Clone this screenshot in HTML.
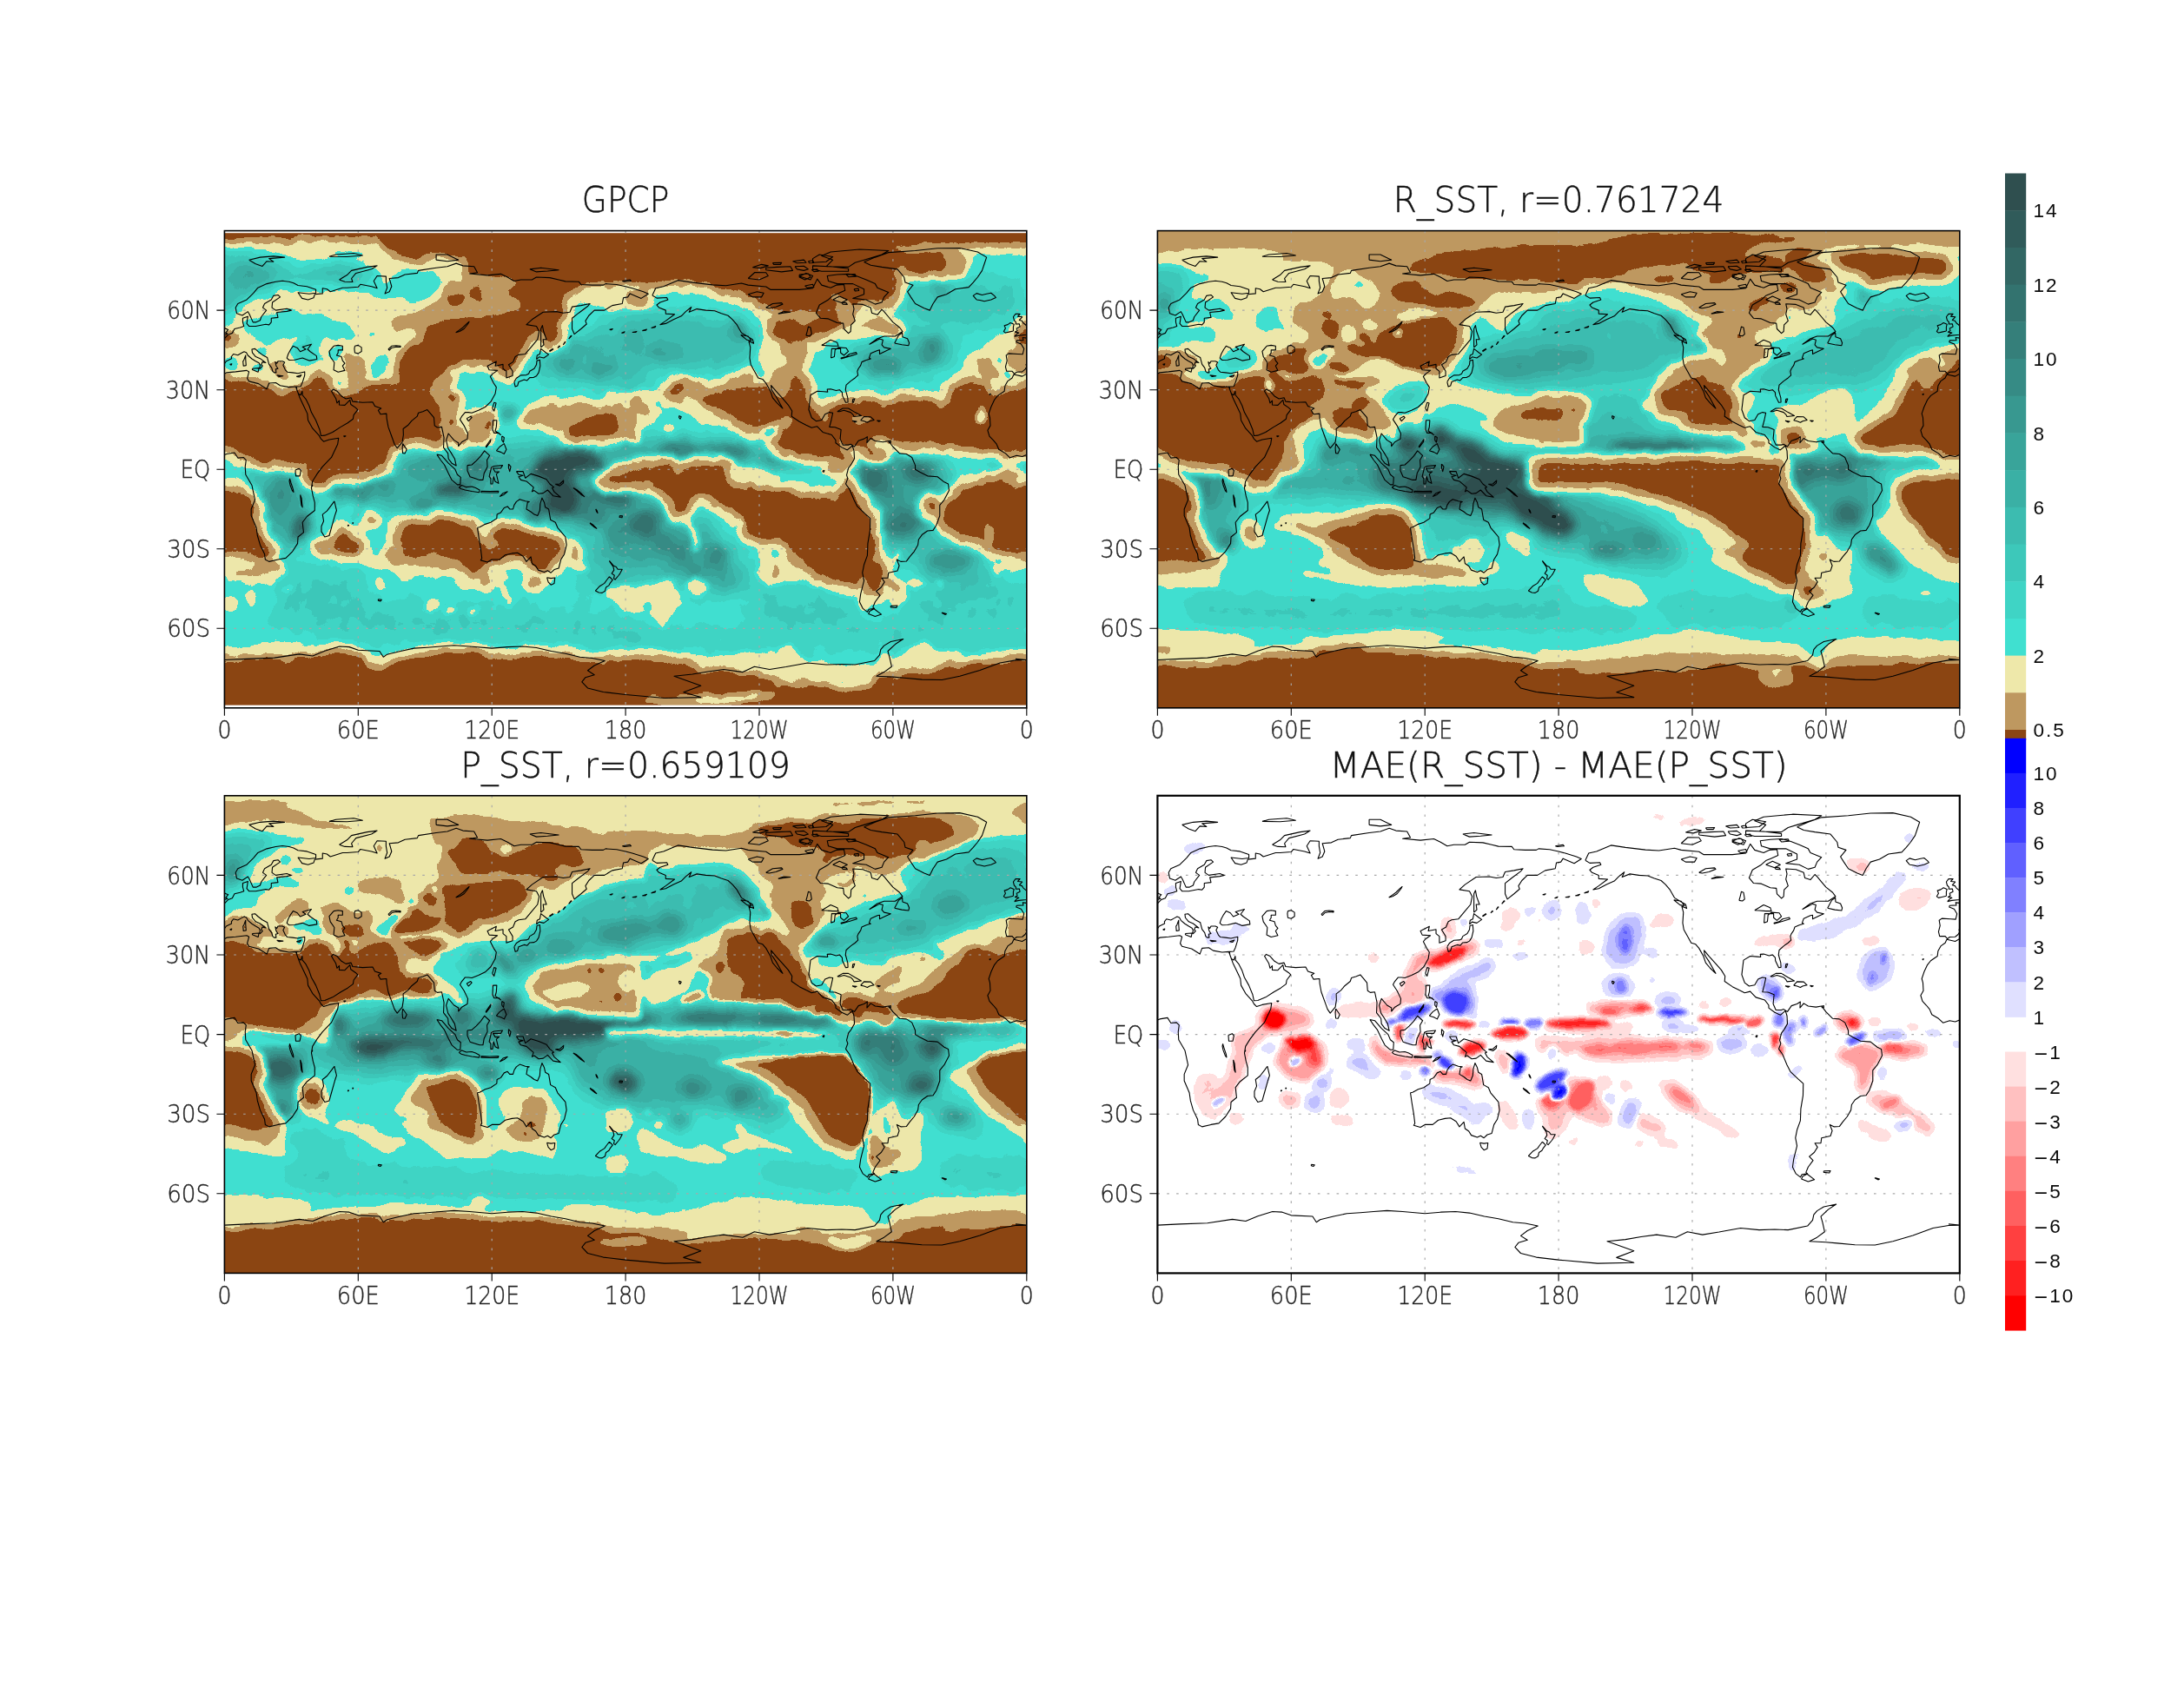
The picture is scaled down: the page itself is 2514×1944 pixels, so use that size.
<!DOCTYPE html>
<html lang="en"><head><meta charset="utf-8"><title>GPCP / R_SST / P_SST precipitation</title>
<style>html,body{margin:0;padding:0;background:#fff}body{width:2514px;height:1944px;overflow:hidden}svg{display:block}text.ax{font-family:"DejaVu Sans","Liberation Sans",sans-serif;font-weight:200;stroke:#222;stroke-width:.35px}text.ti{font-family:"DejaVu Sans","Liberation Sans",sans-serif;font-weight:200;stroke:#111;stroke-width:.45px}text.cbl{font-family:"Liberation Sans","DejaVu Sans",sans-serif}</style></head><body>
<svg width="2514" height="1944" viewBox="0 0 2514 1944">
<defs>
<clipPath id="clip1"><rect x="258.4" y="265.6" width="923.4" height="549.2"/></clipPath>
<clipPath id="clip2"><rect x="1332.4" y="265.6" width="923.4" height="549.2"/></clipPath>
<clipPath id="clip3"><rect x="258.4" y="915.8" width="923.4" height="549.6"/></clipPath>
<clipPath id="clip4"><rect x="1332.4" y="915.8" width="923.4" height="549.6"/></clipPath>
<filter id="cm1" filterUnits="userSpaceOnUse" x="198.4" y="205.6" width="1043.4" height="669.2" color-interpolation-filters="sRGB"><feGaussianBlur stdDeviation="2.5" result="f"/><feTurbulence type="fractalNoise" baseFrequency="0.05" numOctaves="2" seed="7" result="n"/><feDisplacementMap in="f" in2="n" scale="7" xChannelSelector="R" yChannelSelector="G" result="f2"/><feColorMatrix in="n" type="matrix" values="0 0 1 0 0  0 0 1 0 0  0 0 1 0 0  0 0 0 0 1" result="ng"/><feComposite in="f2" in2="ng" operator="arithmetic" k1="0" k2="1" k3="0.09" k4="-0.045" result="fn"/><feComponentTransfer><feFuncR type="discrete" tableValues="0.5451 0.7451 0.9333 0.2510 0.2471 0.2392 0.2353 0.2275 0.2235 0.2196 0.2118 0.2078 0.2000 0.1961 0.1882 0.1843"/><feFuncG type="discrete" tableValues="0.2706 0.5961 0.9098 0.8784 0.8314 0.7843 0.7373 0.6902 0.6431 0.5961 0.5451 0.4980 0.4510 0.4039 0.3569 0.3098"/><feFuncB type="discrete" tableValues="0.0745 0.3765 0.6667 0.8157 0.7725 0.7294 0.6902 0.6471 0.6039 0.5647 0.5216 0.4784 0.4353 0.3922 0.3529 0.3098"/><feFuncA type="linear" slope="0" intercept="1"/></feComponentTransfer></filter>
<filter id="cm2" filterUnits="userSpaceOnUse" x="1272.4" y="205.6" width="1043.4" height="669.2" color-interpolation-filters="sRGB"><feGaussianBlur stdDeviation="2.5" result="f"/><feTurbulence type="fractalNoise" baseFrequency="0.05" numOctaves="2" seed="14" result="n"/><feDisplacementMap in="f" in2="n" scale="5" xChannelSelector="R" yChannelSelector="G" result="f2"/><feColorMatrix in="n" type="matrix" values="0 0 1 0 0  0 0 1 0 0  0 0 1 0 0  0 0 0 0 1" result="ng"/><feComposite in="f2" in2="ng" operator="arithmetic" k1="0" k2="1" k3="0.05" k4="-0.025" result="fn"/><feComponentTransfer><feFuncR type="discrete" tableValues="0.5451 0.7451 0.9333 0.2510 0.2471 0.2392 0.2353 0.2275 0.2235 0.2196 0.2118 0.2078 0.2000 0.1961 0.1882 0.1843"/><feFuncG type="discrete" tableValues="0.2706 0.5961 0.9098 0.8784 0.8314 0.7843 0.7373 0.6902 0.6431 0.5961 0.5451 0.4980 0.4510 0.4039 0.3569 0.3098"/><feFuncB type="discrete" tableValues="0.0745 0.3765 0.6667 0.8157 0.7725 0.7294 0.6902 0.6471 0.6039 0.5647 0.5216 0.4784 0.4353 0.3922 0.3529 0.3098"/><feFuncA type="linear" slope="0" intercept="1"/></feComponentTransfer></filter>
<filter id="cm3" filterUnits="userSpaceOnUse" x="198.4" y="855.8" width="1043.4" height="669.6" color-interpolation-filters="sRGB"><feGaussianBlur stdDeviation="2.5" result="f"/><feTurbulence type="fractalNoise" baseFrequency="0.05" numOctaves="2" seed="21" result="n"/><feDisplacementMap in="f" in2="n" scale="5" xChannelSelector="R" yChannelSelector="G" result="f2"/><feColorMatrix in="n" type="matrix" values="0 0 1 0 0  0 0 1 0 0  0 0 1 0 0  0 0 0 0 1" result="ng"/><feComposite in="f2" in2="ng" operator="arithmetic" k1="0" k2="1" k3="0.05" k4="-0.025" result="fn"/><feComponentTransfer><feFuncR type="discrete" tableValues="0.5451 0.7451 0.9333 0.2510 0.2471 0.2392 0.2353 0.2275 0.2235 0.2196 0.2118 0.2078 0.2000 0.1961 0.1882 0.1843"/><feFuncG type="discrete" tableValues="0.2706 0.5961 0.9098 0.8784 0.8314 0.7843 0.7373 0.6902 0.6431 0.5961 0.5451 0.4980 0.4510 0.4039 0.3569 0.3098"/><feFuncB type="discrete" tableValues="0.0745 0.3765 0.6667 0.8157 0.7725 0.7294 0.6902 0.6471 0.6039 0.5647 0.5216 0.4784 0.4353 0.3922 0.3529 0.3098"/><feFuncA type="linear" slope="0" intercept="1"/></feComponentTransfer></filter>
<filter id="cm4" filterUnits="userSpaceOnUse" x="1272.4" y="855.8" width="1043.4" height="669.6" color-interpolation-filters="sRGB"><feGaussianBlur stdDeviation="1.2" result="f"/><feTurbulence type="fractalNoise" baseFrequency="0.06" numOctaves="2" seed="5" result="n"/><feDisplacementMap in="f" in2="n" scale="5" xChannelSelector="R" yChannelSelector="G" result="f2"/><feColorMatrix in="n" type="matrix" values="0 0 1 0 0  0 0 1 0 0  0 0 1 0 0  0 0 0 0 1" result="ng"/><feComposite in="f2" in2="ng" operator="arithmetic" k1="0" k2="1" k3="0.03" k4="-0.015" result="fn"/><feComponentTransfer><feFuncR type="discrete" tableValues="1.0000 1.0000 1.0000 1.0000 1.0000 1.0000 1.0000 1.0000 1.0000 0.8784 0.7529 0.6275 0.5020 0.3765 0.2510 0.1255 0.0000"/><feFuncG type="discrete" tableValues="0.0000 0.1255 0.2510 0.3765 0.5020 0.6275 0.7529 0.8784 1.0000 0.8784 0.7529 0.6275 0.5020 0.3765 0.2510 0.1255 0.0000"/><feFuncB type="discrete" tableValues="0.0000 0.1255 0.2510 0.3765 0.5020 0.6275 0.7529 0.8784 1.0000 1.0000 1.0000 1.0000 1.0000 1.0000 1.0000 1.0000 1.0000"/><feFuncA type="linear" slope="0" intercept="1"/></feComponentTransfer></filter>
<filter id="b2_4" filterUnits="userSpaceOnUse" x="1322" y="906" width="943" height="570" color-interpolation-filters="sRGB"><feGaussianBlur stdDeviation="2"/></filter><filter id="b4_4" filterUnits="userSpaceOnUse" x="1316" y="900" width="955" height="582" color-interpolation-filters="sRGB"><feGaussianBlur stdDeviation="4"/></filter><filter id="b6_1" filterUnits="userSpaceOnUse" x="236" y="244" width="967" height="593" color-interpolation-filters="sRGB"><feGaussianBlur stdDeviation="6"/></filter><filter id="b6_2" filterUnits="userSpaceOnUse" x="1310" y="244" width="967" height="593" color-interpolation-filters="sRGB"><feGaussianBlur stdDeviation="6"/></filter><filter id="b6_3" filterUnits="userSpaceOnUse" x="236" y="894" width="967" height="594" color-interpolation-filters="sRGB"><feGaussianBlur stdDeviation="6"/></filter><filter id="b7_2" filterUnits="userSpaceOnUse" x="1307" y="241" width="973" height="599" color-interpolation-filters="sRGB"><feGaussianBlur stdDeviation="7"/></filter><filter id="b7_3" filterUnits="userSpaceOnUse" x="233" y="891" width="973" height="600" color-interpolation-filters="sRGB"><feGaussianBlur stdDeviation="7"/></filter><filter id="b8_1" filterUnits="userSpaceOnUse" x="230" y="238" width="979" height="605" color-interpolation-filters="sRGB"><feGaussianBlur stdDeviation="8"/></filter><filter id="b10_1" filterUnits="userSpaceOnUse" x="224" y="232" width="991" height="617" color-interpolation-filters="sRGB"><feGaussianBlur stdDeviation="10"/></filter><filter id="b10_2" filterUnits="userSpaceOnUse" x="1298" y="232" width="991" height="617" color-interpolation-filters="sRGB"><feGaussianBlur stdDeviation="10"/></filter><filter id="b10_3" filterUnits="userSpaceOnUse" x="224" y="882" width="991" height="618" color-interpolation-filters="sRGB"><feGaussianBlur stdDeviation="10"/></filter><filter id="b12_1" filterUnits="userSpaceOnUse" x="218" y="226" width="1003" height="629" color-interpolation-filters="sRGB"><feGaussianBlur stdDeviation="12"/></filter>
<path id="coast" d="M192.0,-65.6 193.5,-68.3 197.0,-69.0 203.5,-71.3 210.0,-70.5 219.0,-69.6 225.0,-69.3 232.0,-70.2 235.0,-69.5 243.0,-68.9 245.0,-67.8 252.0,-67.8 258.0,-67.8 264.0,-68.3 266.0,-71.8 268.0,-69.5 272.0,-68.5 274.5,-69.5 278.0,-69.7 278.5,-67.5 275.0,-66.2 273.0,-65.5 271.0,-64.0 267.0,-62.0 265.5,-59.0 267.5,-57.0 271.0,-56.8 275.0,-55.3 277.7,-55.1 278.0,-53.0 280.0,-51.3 281.0,-52.0 281.2,-54.5 283.0,-56.0 282.0,-58.5 282.5,-60.5 282.0,-62.4 286.5,-62.2 290.0,-61.0 290.5,-59.0 293.0,-58.3 295.0,-60.3 296.0,-59.5 298.0,-57.5 300.0,-55.5 303.0,-53.5 304.3,-52.0 301.0,-50.2 296.0,-50.2 293.0,-49.3 289.5,-47.2 294.0,-49.2 295.5,-48.8 295.0,-47.0 296.0,-46.0 299.0,-45.5 297.0,-44.7 294.0,-43.5 294.0,-45.0 293.0,-44.8 290.0,-43.7 289.3,-42.0 290.0,-41.7 288.0,-41.2 286.0,-40.5 285.5,-39.2 284.5,-38.0 284.0,-37.0 284.3,-35.5 283.0,-34.5 281.0,-33.3 279.0,-31.8 278.7,-30.0 279.7,-27.0 279.8,-25.3 278.8,-25.2 277.3,-27.8 277.2,-29.0 276.0,-30.0 274.5,-29.7 272.0,-30.3 270.5,-30.2 270.7,-29.2 269.0,-29.3 266.0,-29.5 263.0,-28.0 262.7,-26.0 262.2,-22.5 263.5,-19.5 265.5,-18.2 268.0,-18.6 269.5,-20.8 271.5,-21.5 273.0,-21.3 272.3,-18.5 271.5,-16.0 274.0,-15.9 276.7,-15.0 276.3,-11.5 277.5,-9.2 280.0,-9.2 281.0,-9.5 282.7,-8.6 284.5,-10.8 287.0,-11.5 288.5,-12.3 288.3,-10.0 290.0,-11.7 292.0,-10.7 295.5,-10.3 298.0,-10.7 300.0,-8.5 303.0,-6.0 306.0,-5.8 308.5,-4.5 310.0,-1.5 310.0,0.0 312.0,1.0 315.5,2.5 320.0,2.8 323.0,4.8 324.8,5.5 325.2,8.0 323.0,11.5 321.0,13.5 321.0,17.5 319.5,21.0 318.0,23.0 315.5,23.2 313.0,24.7 311.5,26.5 311.2,28.5 309.5,31.0 307.5,33.0 306.0,34.7 303.5,34.8 301.7,34.0 302.8,36.3 302.0,38.3 298.0,39.0 297.7,41.0 295.0,41.0 296.2,42.5 294.7,44.5 292.5,46.0 294.2,47.5 292.0,50.0 291.0,52.0 291.7,52.5 289.2,52.8 288.5,53.8 286.5,52.5 285.0,50.0 285.5,47.0 287.0,42.0 286.3,39.0 287.0,36.0 288.5,32.5 288.7,28.0 289.7,23.0 289.8,18.5 287.5,16.8 284.0,14.0 282.5,11.5 280.5,7.5 278.8,5.5 279.7,3.4 279.2,2.2 280.0,-0.5 281.2,-1.8 282.7,-4.0 282.5,-7.0 281.8,-8.9 279.5,-7.3 277.0,-8.3 274.3,-10.0 274.3,-11.0 272.5,-13.0 268.5,-14.0 266.0,-16.2 263.5,-15.7 261.0,-16.7 258.0,-18.0 254.5,-20.0 254.7,-22.0 253.0,-24.3 250.5,-26.7 247.5,-29.5 245.3,-31.7 245.5,-30.0 247.5,-27.5 249.5,-24.5 250.5,-23.0 248.0,-25.0 246.0,-27.0 245.0,-29.5 243.0,-32.5 241.5,-34.0 239.5,-34.5 238.0,-36.8 236.2,-39.5 235.7,-42.0 236.0,-46.0 235.3,-48.3 237.5,-47.5 237.0,-49.0 235.0,-50.0 232.0,-51.5 230.0,-54.5 228.0,-56.5 226.0,-58.0 223.0,-58.8 220.0,-59.8 216.0,-60.0 212.0,-60.5 208.5,-59.3 209.5,-61.2 207.0,-59.5 205.0,-57.8 201.5,-56.5 198.0,-55.0 195.5,-54.6 198.0,-56.0 202.0,-58.5 198.0,-58.7 198.0,-60.0 195.0,-61.0 194.0,-62.0 195.5,-63.0 199.0,-64.0 198.5,-64.8 194.0,-64.6 192.0,-65.6 M291.5,52.6 294.8,54.7 292.0,55.5 289.0,54.5 289.5,53.5 291.5,52.6 M-5.8,-35.8 -2.0,-35.1 1.0,-36.5 5.0,-36.8 10.0,-37.3 11.0,-36.8 10.2,-34.3 11.0,-33.2 15.3,-32.3 19.0,-30.3 20.0,-32.5 23.0,-32.7 25.0,-31.6 29.0,-31.0 32.0,-31.2 32.5,-30.0 33.8,-27.0 35.5,-24.0 37.2,-21.0 37.5,-18.5 39.5,-15.5 42.5,-12.7 43.3,-11.5 44.5,-10.5 47.0,-11.2 51.2,-11.8 50.8,-9.5 48.0,-4.5 44.0,-1.0 41.5,1.8 39.5,4.5 39.0,7.0 39.7,10.0 40.5,12.5 40.5,15.5 37.0,17.8 35.0,20.0 35.5,23.8 33.0,25.5 32.8,28.0 30.5,31.0 27.5,33.5 24.0,34.0 20.0,34.8 18.3,34.0 18.0,32.0 16.0,28.5 14.8,25.0 14.3,22.0 12.0,17.5 12.0,15.0 13.7,11.5 12.3,6.0 9.5,2.0 9.3,-1.0 9.7,-3.5 8.5,-4.5 6.0,-4.3 4.5,-6.3 1.0,-5.8 -2.0,-4.8 -4.5,-5.2 -7.5,-4.4 -9.5,-6.0 -12.5,-7.5 -13.5,-9.5 -15.0,-11.0 -16.7,-12.5 -17.5,-14.7 -16.3,-16.5 -16.5,-19.5 -17.0,-21.0 -16.0,-23.5 -14.5,-26.2 -13.0,-27.8 -10.0,-29.5 -9.7,-31.5 -8.5,-33.3 -6.5,-34.5 -5.8,-35.8 M354.2,-35.8 358.0,-35.1 361.0,-36.5 365.0,-36.8 370.0,-37.3 371.0,-36.8 370.2,-34.3 371.0,-33.2 375.3,-32.3 379.0,-30.3 380.0,-32.5 383.0,-32.7 385.0,-31.6 389.0,-31.0 392.0,-31.2 392.5,-30.0 393.8,-27.0 395.5,-24.0 397.2,-21.0 397.5,-18.5 399.5,-15.5 402.5,-12.7 403.3,-11.5 404.5,-10.5 407.0,-11.2 411.2,-11.8 410.8,-9.5 408.0,-4.5 404.0,-1.0 401.5,1.8 399.5,4.5 399.0,7.0 399.7,10.0 400.5,12.5 400.5,15.5 397.0,17.8 395.0,20.0 395.5,23.8 393.0,25.5 392.8,28.0 390.5,31.0 387.5,33.5 384.0,34.0 380.0,34.8 378.3,34.0 378.0,32.0 376.0,28.5 374.8,25.0 374.3,22.0 372.0,17.5 372.0,15.0 373.7,11.5 372.3,6.0 369.5,2.0 369.3,-1.0 369.7,-3.5 368.5,-4.5 366.0,-4.3 364.5,-6.3 361.0,-5.8 358.0,-4.8 355.5,-5.2 352.5,-4.4 350.5,-6.0 347.5,-7.5 346.5,-9.5 345.0,-11.0 343.3,-12.5 342.5,-14.7 343.7,-16.5 343.5,-19.5 343.0,-21.0 344.0,-23.5 345.5,-26.2 347.0,-27.8 350.0,-29.5 350.3,-31.5 351.5,-33.3 353.5,-34.5 354.2,-35.8 M49.3,12.0 50.3,15.5 49.5,17.5 48.0,22.0 47.0,25.0 45.0,25.5 43.5,23.5 43.5,21.5 44.5,19.5 44.0,17.0 46.0,15.7 48.0,13.5 49.3,12.0 M-5.5,-36.0 -6.5,-37.0 -9.0,-37.0 -9.5,-38.7 -8.8,-41.0 -9.2,-43.0 -8.0,-43.7 -4.0,-43.5 -1.8,-43.4 -1.2,-45.5 -2.5,-47.3 -4.7,-48.0 -4.5,-48.6 -1.5,-48.7 -1.8,-49.7 0.2,-49.5 1.7,-50.8 3.5,-51.4 4.5,-53.0 7.0,-53.5 8.7,-54.0 8.2,-55.5 8.2,-57.0 10.5,-57.7 10.2,-56.0 10.0,-55.0 11.0,-54.0 14.0,-54.0 18.5,-54.7 20.0,-54.5 21.0,-55.5 21.0,-57.0 24.0,-57.3 23.5,-59.2 28.0,-59.6 30.0,-60.0 28.0,-60.6 23.0,-60.0 21.3,-61.0 21.5,-63.0 25.0,-65.0 24.0,-65.8 22.0,-65.5 21.0,-64.0 18.0,-62.5 17.2,-61.0 18.8,-60.0 16.5,-57.5 16.0,-56.2 14.2,-55.5 12.8,-55.5 11.2,-58.5 10.5,-59.5 8.0,-58.1 5.5,-58.8 5.0,-61.0 6.0,-62.5 10.0,-64.0 13.0,-66.5 15.0,-68.5 19.0,-70.0 23.0,-70.8 26.0,-71.1 29.0,-70.8 31.0,-70.3 33.0,-69.4 37.0,-69.0 41.0,-67.8 41.0,-66.5 38.0,-66.2 33.0,-66.7 34.8,-64.5 37.5,-64.0 40.0,-64.7 40.5,-66.0 44.0,-66.3 44.0,-68.3 46.0,-68.0 47.5,-67.0 53.0,-68.5 55.0,-68.5 60.0,-68.8 61.0,-69.8 66.0,-69.0 68.5,-68.3 67.0,-71.0 68.5,-73.0 72.5,-72.8 72.5,-71.0 73.0,-68.5 72.0,-66.3 74.0,-67.0 75.0,-69.0 74.0,-72.0 78.0,-72.3 81.0,-73.5 86.5,-74.0 87.0,-75.0 95.0,-76.0 100.0,-76.5 104.0,-77.7 107.0,-76.8 112.0,-76.5 113.5,-74.2 110.0,-73.8 118.0,-73.2 124.0,-73.7 127.0,-72.5 130.0,-71.0 133.0,-71.5 138.0,-71.5 140.0,-72.5 146.0,-72.3 150.0,-71.5 153.0,-70.9 159.0,-70.8 160.0,-69.7 165.0,-69.5 170.0,-69.5 171.0,-70.0 176.0,-69.7 180.0,-69.0 183.0,-68.3 188.0,-67.0 190.2,-66.2 187.0,-64.5 182.0,-66.3 181.0,-65.0 179.0,-64.7 178.5,-62.5 174.0,-61.8 170.5,-60.0 166.0,-60.0 163.5,-58.0 162.0,-56.0 162.5,-54.8 160.0,-53.0 157.0,-51.0 156.0,-53.0 156.0,-57.0 159.0,-59.0 163.0,-61.5 164.0,-62.5 160.0,-61.8 156.0,-61.3 155.0,-59.3 152.0,-59.0 149.0,-59.5 143.0,-59.3 138.0,-56.5 135.5,-54.6 140.0,-54.0 141.2,-52.0 140.5,-49.0 138.0,-46.5 135.0,-43.5 132.0,-43.2 130.5,-42.5 129.5,-40.5 127.5,-39.5 129.3,-37.0 129.3,-35.3 126.5,-34.5 126.5,-37.0 125.0,-38.0 125.0,-39.6 121.5,-39.0 122.0,-40.7 118.0,-39.0 118.8,-37.5 122.5,-37.3 120.3,-36.0 119.3,-35.0 120.8,-32.5 122.0,-31.0 121.5,-28.5 119.5,-25.5 117.0,-23.5 114.0,-22.3 111.0,-21.3 109.5,-21.5 108.0,-21.5 106.5,-20.0 105.7,-18.8 107.5,-16.5 109.2,-13.5 109.0,-11.5 106.5,-10.3 105.0,-8.7 105.0,-10.0 103.0,-11.0 100.5,-13.5 99.5,-11.0 100.3,-8.0 101.5,-6.5 103.3,-4.0 104.0,-1.4 102.0,-2.3 100.5,-4.0 100.3,-6.0 98.3,-8.2 98.5,-12.0 97.5,-16.0 95.5,-15.8 94.3,-16.5 94.0,-19.5 92.0,-21.5 91.0,-22.5 89.0,-21.8 87.0,-21.3 86.5,-20.0 84.0,-18.3 82.3,-16.6 80.2,-15.3 80.3,-13.0 79.8,-10.3 77.5,-8.0 76.3,-9.5 75.0,-12.5 73.5,-16.0 72.8,-19.2 72.7,-21.0 70.0,-20.8 69.0,-22.3 70.3,-23.0 67.5,-23.8 66.5,-25.4 62.0,-25.2 57.5,-25.6 56.8,-27.0 54.5,-26.6 52.5,-27.6 50.5,-29.5 48.8,-30.2 48.0,-29.5 50.0,-26.7 50.5,-25.0 51.5,-25.9 51.5,-24.3 54.0,-24.2 56.3,-26.2 56.7,-24.5 58.8,-23.3 59.8,-22.5 58.0,-20.5 57.7,-19.0 55.3,-17.5 52.2,-16.0 48.5,-14.0 45.0,-12.8 43.3,-12.7 42.7,-15.0 41.0,-18.5 39.0,-21.5 38.0,-24.0 36.5,-26.5 35.0,-28.0 34.9,-29.5 34.2,-28.0 33.2,-28.5 32.5,-30.0 32.3,-31.2 34.2,-31.3 35.0,-32.8 36.0,-35.5 36.0,-36.8 33.0,-36.2 30.5,-36.5 28.2,-36.7 27.3,-37.5 26.3,-39.3 27.0,-40.4 26.0,-40.8 24.0,-40.8 23.5,-40.0 22.8,-40.5 23.2,-39.0 24.0,-38.0 23.0,-37.8 23.2,-36.5 22.3,-36.5 21.6,-37.0 21.2,-38.3 20.0,-39.6 19.4,-41.5 19.2,-42.2 17.0,-43.2 15.0,-44.5 13.7,-45.5 12.3,-45.3 12.5,-44.0 14.0,-42.5 16.0,-41.8 18.5,-40.2 17.0,-40.5 16.5,-39.5 17.1,-39.0 16.0,-38.0 15.7,-38.2 16.0,-39.2 15.5,-40.1 14.0,-40.8 12.3,-41.7 10.5,-43.0 9.8,-44.1 8.8,-44.4 7.5,-43.8 6.0,-43.1 4.0,-43.5 3.1,-42.5 3.2,-41.8 0.8,-40.8 -0.3,-39.5 0.0,-38.7 -0.7,-37.7 -2.0,-36.8 -4.5,-36.7 -5.5,-36.0 M354.5,-36.0 353.5,-37.0 351.0,-37.0 350.5,-38.7 351.2,-41.0 350.8,-43.0 352.0,-43.7 356.0,-43.5 358.2,-43.4 358.8,-45.5 357.5,-47.3 355.3,-48.0 355.5,-48.6 358.5,-48.7 358.2,-49.7 360.2,-49.5 361.7,-50.8 363.5,-51.4 364.5,-53.0 367.0,-53.5 368.7,-54.0 368.2,-55.5 368.2,-57.0 370.5,-57.7 370.2,-56.0 370.0,-55.0 371.0,-54.0 374.0,-54.0 378.5,-54.7 380.0,-54.5 381.0,-55.5 381.0,-57.0 384.0,-57.3 383.5,-59.2 388.0,-59.6 390.0,-60.0 388.0,-60.6 383.0,-60.0 381.3,-61.0 381.5,-63.0 385.0,-65.0 384.0,-65.8 382.0,-65.5 381.0,-64.0 378.0,-62.5 377.2,-61.0 378.8,-60.0 376.5,-57.5 376.0,-56.2 374.2,-55.5 372.8,-55.5 371.2,-58.5 370.5,-59.5 368.0,-58.1 365.5,-58.8 365.0,-61.0 366.0,-62.5 370.0,-64.0 373.0,-66.5 375.0,-68.5 379.0,-70.0 383.0,-70.8 386.0,-71.1 389.0,-70.8 391.0,-70.3 393.0,-69.4 397.0,-69.0 401.0,-67.8 401.0,-66.5 398.0,-66.2 393.0,-66.7 394.8,-64.5 397.5,-64.0 400.0,-64.7 400.5,-66.0 404.0,-66.3 404.0,-68.3 406.0,-68.0 407.5,-67.0 413.0,-68.5 415.0,-68.5 420.0,-68.8 421.0,-69.8 426.0,-69.0 428.5,-68.3 427.0,-71.0 428.5,-73.0 432.5,-72.8 432.5,-71.0 433.0,-68.5 432.0,-66.3 434.0,-67.0 435.0,-69.0 434.0,-72.0 438.0,-72.3 441.0,-73.5 446.5,-74.0 447.0,-75.0 455.0,-76.0 460.0,-76.5 464.0,-77.7 467.0,-76.8 472.0,-76.5 473.5,-74.2 470.0,-73.8 478.0,-73.2 484.0,-73.7 487.0,-72.5 490.0,-71.0 493.0,-71.5 498.0,-71.5 500.0,-72.5 506.0,-72.3 510.0,-71.5 513.0,-70.9 519.0,-70.8 520.0,-69.7 525.0,-69.5 530.0,-69.5 531.0,-70.0 536.0,-69.7 540.0,-69.0 543.0,-68.3 548.0,-67.0 550.2,-66.2 547.0,-64.5 542.0,-66.3 541.0,-65.0 539.0,-64.7 538.5,-62.5 534.0,-61.8 530.5,-60.0 526.0,-60.0 523.5,-58.0 522.0,-56.0 522.5,-54.8 520.0,-53.0 517.0,-51.0 516.0,-53.0 516.0,-57.0 519.0,-59.0 523.0,-61.5 524.0,-62.5 520.0,-61.8 516.0,-61.3 515.0,-59.3 512.0,-59.0 509.0,-59.5 503.0,-59.3 498.0,-56.5 495.5,-54.6 500.0,-54.0 501.2,-52.0 500.5,-49.0 498.0,-46.5 495.0,-43.5 492.0,-43.2 490.5,-42.5 489.5,-40.5 487.5,-39.5 489.3,-37.0 489.3,-35.3 486.5,-34.5 486.5,-37.0 485.0,-38.0 485.0,-39.6 481.5,-39.0 482.0,-40.7 478.0,-39.0 478.8,-37.5 482.5,-37.3 480.3,-36.0 479.3,-35.0 480.8,-32.5 482.0,-31.0 481.5,-28.5 479.5,-25.5 477.0,-23.5 474.0,-22.3 471.0,-21.3 469.5,-21.5 468.0,-21.5 466.5,-20.0 465.7,-18.8 467.5,-16.5 469.2,-13.5 469.0,-11.5 466.5,-10.3 465.0,-8.7 465.0,-10.0 463.0,-11.0 460.5,-13.5 459.5,-11.0 460.3,-8.0 461.5,-6.5 463.3,-4.0 464.0,-1.4 462.0,-2.3 460.5,-4.0 460.3,-6.0 458.3,-8.2 458.5,-12.0 457.5,-16.0 455.5,-15.8 454.3,-16.5 454.0,-19.5 452.0,-21.5 451.0,-22.5 449.0,-21.8 447.0,-21.3 446.5,-20.0 444.0,-18.3 442.3,-16.6 440.2,-15.3 440.3,-13.0 439.8,-10.3 437.5,-8.0 436.3,-9.5 435.0,-12.5 433.5,-16.0 432.8,-19.2 432.7,-21.0 430.0,-20.8 429.0,-22.3 430.3,-23.0 427.5,-23.8 426.5,-25.4 422.0,-25.2 417.5,-25.6 416.8,-27.0 414.5,-26.6 412.5,-27.6 410.5,-29.5 408.8,-30.2 408.0,-29.5 410.0,-26.7 410.5,-25.0 411.5,-25.9 411.5,-24.3 414.0,-24.2 416.3,-26.2 416.7,-24.5 418.8,-23.3 419.8,-22.5 418.0,-20.5 417.7,-19.0 415.3,-17.5 412.2,-16.0 408.5,-14.0 405.0,-12.8 403.3,-12.7 402.7,-15.0 401.0,-18.5 399.0,-21.5 398.0,-24.0 396.5,-26.5 395.0,-28.0 394.9,-29.5 394.2,-28.0 393.2,-28.5 392.5,-30.0 392.3,-31.2 394.2,-31.3 395.0,-32.8 396.0,-35.5 396.0,-36.8 393.0,-36.2 390.5,-36.5 388.2,-36.7 387.3,-37.5 386.3,-39.3 387.0,-40.4 386.0,-40.8 384.0,-40.8 383.5,-40.0 382.8,-40.5 383.2,-39.0 384.0,-38.0 383.0,-37.8 383.2,-36.5 382.3,-36.5 381.6,-37.0 381.2,-38.3 380.0,-39.6 379.4,-41.5 379.2,-42.2 377.0,-43.2 375.0,-44.5 373.7,-45.5 372.3,-45.3 372.5,-44.0 374.0,-42.5 376.0,-41.8 378.5,-40.2 377.0,-40.5 376.5,-39.5 377.1,-39.0 376.0,-38.0 375.7,-38.2 376.0,-39.2 375.5,-40.1 374.0,-40.8 372.3,-41.7 370.5,-43.0 369.8,-44.1 368.8,-44.4 367.5,-43.8 366.0,-43.1 364.0,-43.5 363.1,-42.5 363.2,-41.8 360.8,-40.8 359.7,-39.5 360.0,-38.7 359.3,-37.7 358.0,-36.8 355.5,-36.7 354.5,-36.0 M29.0,-41.2 31.5,-41.3 35.0,-42.0 38.0,-41.0 41.5,-41.5 41.3,-42.8 38.5,-44.4 37.3,-45.3 39.0,-47.2 35.0,-46.2 36.5,-45.3 34.0,-44.4 32.7,-45.8 30.8,-46.5 29.7,-45.2 28.6,-43.5 28.0,-42.0 29.0,-41.2 M49.0,-46.5 51.0,-46.8 53.0,-46.5 53.0,-45.0 51.0,-45.0 51.0,-44.0 50.3,-43.0 52.5,-42.5 53.0,-41.0 54.0,-40.0 53.0,-39.0 54.0,-37.3 51.0,-36.7 49.0,-37.5 49.3,-40.3 47.5,-42.5 47.0,-44.5 49.0,-46.5 M-5.5,-50.1 -3.5,-50.5 0.0,-50.8 1.4,-51.2 0.5,-51.5 1.7,-52.7 0.2,-53.2 -0.2,-54.3 -1.5,-55.2 -2.1,-56.0 -3.3,-56.3 -2.0,-57.5 -4.0,-57.7 -3.0,-58.6 -5.0,-58.6 -6.0,-57.5 -5.6,-56.2 -4.8,-55.5 -4.9,-54.8 -3.3,-54.9 -3.0,-53.8 -4.5,-53.2 -4.2,-52.3 -5.2,-51.8 -3.5,-51.5 -4.5,-51.0 -5.5,-50.1 M354.5,-50.1 356.5,-50.5 360.0,-50.8 361.4,-51.2 360.5,-51.5 361.7,-52.7 360.2,-53.2 359.8,-54.3 358.5,-55.2 357.9,-56.0 356.7,-56.3 358.0,-57.5 356.0,-57.7 357.0,-58.6 355.0,-58.6 354.0,-57.5 354.4,-56.2 355.2,-55.5 355.1,-54.8 356.7,-54.9 357.0,-53.8 355.5,-53.2 355.8,-52.3 354.8,-51.8 356.5,-51.5 355.5,-51.0 354.5,-50.1 M354.0,-52.2 354.0,-53.8 354.3,-54.7 352.7,-55.3 351.5,-54.6 350.0,-54.2 350.5,-53.2 349.7,-52.0 350.5,-51.5 352.0,-51.8 354.0,-52.2 M337.5,-64.0 336.0,-65.5 337.5,-66.4 340.0,-65.8 342.0,-66.2 344.0,-66.5 345.5,-65.5 346.2,-64.8 344.0,-64.0 341.0,-63.4 339.0,-63.8 337.5,-64.0 M287.0,-78.2 292.0,-80.0 298.0,-81.8 310.0,-82.5 320.0,-83.4 330.0,-83.5 338.0,-82.0 342.0,-80.0 341.0,-77.5 340.0,-75.0 338.0,-72.5 336.0,-70.5 334.0,-68.7 328.0,-68.0 324.0,-66.0 320.0,-65.0 318.0,-62.5 316.5,-60.0 314.0,-60.8 310.0,-62.5 308.0,-65.0 306.5,-67.0 309.0,-69.5 305.5,-70.5 305.0,-72.5 302.0,-75.5 295.0,-76.3 290.0,-77.0 287.0,-78.2 M130.0,-33.0 130.5,-31.2 131.5,-31.5 132.0,-33.0 134.5,-33.8 135.8,-33.5 137.0,-34.6 138.8,-34.7 140.0,-35.2 141.0,-36.5 141.7,-39.0 141.5,-41.3 140.2,-41.0 140.0,-39.5 139.0,-38.0 137.0,-37.0 136.5,-36.0 135.5,-35.6 133.0,-35.5 131.0,-34.4 130.0,-33.0 M140.0,-41.5 141.2,-42.4 143.3,-42.0 145.5,-43.3 144.3,-44.0 142.0,-45.5 141.5,-43.5 140.3,-43.0 140.0,-41.5 M142.0,-46.0 143.3,-47.0 143.0,-49.0 144.5,-49.0 143.2,-52.0 142.7,-54.3 142.0,-53.0 142.0,-50.0 142.0,-46.0 M120.2,-23.0 121.0,-25.2 121.9,-25.0 121.0,-22.0 120.2,-23.0 M108.7,-19.2 110.5,-20.0 111.0,-19.5 109.5,-18.2 108.7,-19.2 M80.0,-9.7 81.8,-7.5 81.0,-6.0 80.0,-6.1 79.8,-8.0 80.0,-9.7 M120.5,-18.5 122.2,-18.5 122.0,-16.0 121.5,-14.5 124.0,-13.0 123.0,-13.8 121.0,-13.7 120.3,-15.0 120.5,-18.5 M122.0,-7.0 123.5,-8.5 125.5,-9.7 126.5,-7.5 125.5,-5.8 124.0,-6.5 122.0,-7.0 M124.5,-12.5 125.5,-12.0 125.2,-10.2 124.5,-11.0 124.5,-12.5 M117.2,-8.5 119.5,-11.3 119.3,-10.3 117.5,-8.3 117.2,-8.5 M95.3,-5.6 97.5,-5.2 100.5,-2.3 103.5,0.0 104.5,2.0 106.0,3.0 105.8,5.8 104.5,5.8 102.0,4.0 100.5,1.5 98.7,-1.7 97.0,-3.5 95.3,-5.6 M105.2,6.8 106.5,6.0 108.5,6.7 111.0,6.5 112.7,7.0 114.5,7.8 114.3,8.7 111.0,8.3 108.0,7.8 106.3,7.4 105.2,6.8 M109.0,-1.5 111.0,-1.7 113.0,-3.2 115.0,-5.0 116.7,-7.0 119.0,-5.2 117.8,-3.5 118.0,-1.0 116.5,1.5 116.0,4.0 114.5,4.0 112.0,3.3 110.2,2.8 109.0,0.5 109.0,-1.5 M119.8,-0.8 121.0,-1.2 124.8,-1.5 124.0,-0.4 120.5,-0.4 121.5,1.0 123.3,0.9 122.0,1.8 122.5,3.5 123.0,5.3 121.5,4.6 120.8,2.8 120.3,5.5 119.5,5.5 119.5,3.5 118.8,2.7 119.8,-0.8 M131.0,0.8 134.0,0.8 135.0,3.3 137.5,1.7 141.0,2.6 144.5,3.8 146.0,5.5 147.8,6.7 147.0,7.0 148.0,8.5 150.8,10.5 147.5,10.0 145.0,7.8 143.0,9.0 141.0,9.2 139.0,8.0 138.0,8.4 138.7,6.8 135.5,4.5 133.0,4.0 132.0,2.8 134.0,2.3 132.0,2.0 131.0,0.8 M123.5,10.3 125.0,9.0 127.0,8.4 125.5,9.5 123.5,10.3 M115.2,8.2 119.0,8.3 123.0,8.2 122.8,8.8 119.0,8.8 115.2,8.7 115.2,8.2 M127.5,-2.0 128.5,-1.0 128.0,0.8 127.5,-0.5 127.5,-2.0 M148.5,5.6 150.5,5.5 152.2,4.2 152.0,5.2 150.5,6.2 148.5,5.6 M113.5,22.0 114.2,26.0 115.0,30.0 115.5,33.5 115.0,34.3 118.0,35.0 120.0,34.0 123.5,34.0 126.0,32.3 129.0,31.7 131.5,31.5 134.0,32.8 135.5,34.8 137.5,33.0 138.0,35.5 139.7,36.5 140.8,38.0 143.5,38.8 145.0,38.2 146.5,39.0 148.0,37.8 150.0,37.3 151.0,34.0 152.5,32.0 153.5,28.5 153.0,25.5 151.0,23.5 149.5,22.0 148.5,20.0 146.3,19.0 145.5,15.0 144.0,14.3 143.5,12.5 142.5,10.8 141.7,13.0 141.5,15.5 140.5,17.5 139.0,17.0 137.5,16.0 135.5,15.0 136.0,12.5 136.8,12.2 135.0,12.0 132.5,11.3 131.0,12.2 130.0,13.5 129.5,15.0 128.0,15.0 127.0,14.0 125.5,14.5 124.0,16.3 122.3,17.0 122.2,18.5 119.5,20.0 117.0,20.7 114.5,21.8 113.5,22.0 M144.7,40.8 146.5,41.1 148.3,40.9 148.0,43.0 146.5,43.6 145.3,42.5 144.7,40.8 M172.7,34.5 174.5,36.3 175.8,36.8 176.5,37.7 178.5,37.7 177.5,39.3 176.9,40.0 175.3,41.6 174.7,41.2 175.0,40.0 173.8,39.3 174.8,38.0 174.5,36.8 173.0,35.0 172.7,34.5 M172.7,40.5 174.2,41.7 173.0,43.0 172.5,43.8 171.2,44.5 170.8,45.9 169.5,46.6 168.0,46.5 166.5,45.8 168.5,44.0 170.5,43.0 171.5,41.8 172.7,40.5 M275.0,-21.8 277.5,-23.0 280.0,-23.0 283.0,-21.5 285.8,-20.2 282.5,-19.9 282.0,-20.7 281.0,-21.5 278.0,-22.3 276.0,-21.8 275.0,-21.8 M285.5,-18.5 287.0,-19.9 290.0,-19.8 291.5,-18.6 289.5,-18.2 288.5,-17.7 287.0,-18.2 285.5,-18.5 M281.7,-18.3 283.7,-18.1 283.0,-17.8 281.7,-18.3 M292.8,-18.4 294.3,-18.3 293.7,-18.0 292.8,-18.4 M280.0,-73.7 284.0,-72.8 288.0,-71.5 292.0,-70.0 293.0,-68.5 298.0,-66.8 296.0,-65.0 295.0,-63.0 292.0,-62.3 288.0,-64.0 282.0,-64.5 287.0,-66.0 287.0,-68.0 282.0,-70.0 275.0,-70.0 271.0,-71.0 270.5,-73.0 275.0,-73.5 280.0,-73.7 M31.8,0.3 33.5,-0.3 34.3,0.5 33.8,2.5 32.0,2.5 31.8,0.3 M235.0,-72.0 238.0,-74.3 243.0,-74.2 244.0,-73.0 240.0,-71.5 235.0,-72.0 M270.0,-76.5 280.0,-76.3 283.0,-78.0 287.0,-79.0 295.0,-81.0 298.0,-82.5 285.0,-83.0 272.0,-82.0 268.0,-80.5 273.0,-79.0 270.0,-76.5 M264.0,-75.5 268.0,-74.7 280.0,-74.7 280.0,-75.7 272.0,-76.5 264.0,-76.8 264.0,-75.5 M243.0,-75.2 250.0,-74.5 255.0,-75.0 254.0,-76.5 248.0,-76.3 243.0,-76.0 243.0,-75.2 M258.0,-72.8 263.0,-71.5 264.0,-73.0 261.0,-74.0 258.0,-72.8 M264.0,-78.0 270.0,-78.3 273.0,-80.2 267.0,-81.0 264.0,-79.5 264.0,-78.0 M273.0,-64.0 276.0,-65.3 279.5,-64.0 277.0,-62.8 273.0,-64.0 M300.7,-47.6 304.0,-47.0 307.0,-46.7 307.3,-47.7 306.5,-49.3 304.3,-50.0 304.2,-51.5 302.5,-50.5 300.7,-47.6 M231.7,-50.7 235.0,-50.2 236.5,-48.5 234.5,-48.8 231.7,-50.7 M268.0,-46.8 272.0,-48.8 275.0,-47.8 275.5,-46.5 273.0,-46.5 270.0,-46.7 268.0,-46.8 M272.2,-42.0 273.7,-42.5 274.0,-45.0 275.5,-46.0 279.0,-45.8 280.0,-44.5 278.0,-43.0 276.5,-44.0 276.5,-45.5 275.0,-45.5 272.5,-45.5 272.2,-42.0 M276.7,-41.7 281.0,-42.8 283.8,-43.5 283.5,-44.1 280.5,-43.5 279.0,-42.5 276.7,-42.0 276.7,-41.7 M51.5,-71.5 55.0,-73.3 57.0,-75.0 64.0,-76.3 68.5,-76.8 66.0,-75.5 59.0,-74.0 57.0,-72.0 57.5,-70.7 54.0,-70.8 51.5,-71.5 M11.0,-79.0 14.0,-77.5 17.0,-76.6 19.0,-78.5 22.0,-78.3 20.0,-79.5 27.0,-80.0 22.0,-80.4 16.0,-80.0 11.0,-79.0 M95.0,-79.0 100.0,-78.5 105.0,-79.0 100.0,-81.0 95.0,-81.0 95.0,-79.0 M137.0,-75.5 142.0,-76.0 150.0,-75.2 145.0,-74.8 140.0,-74.5 137.0,-75.5 M47.0,-80.3 55.0,-80.2 62.0,-80.7 58.0,-81.5 50.0,-81.0 47.0,-80.3 M178.5,-71.0 182.0,-71.5 182.5,-71.0 179.5,-70.8 178.5,-71.0 M204.0,-20.2 205.0,-19.8 204.5,-19.0 204.0,-19.5 204.0,-20.2 M69.0,49.0 70.5,49.2 70.0,49.7 69.0,49.5 69.0,49.0 M299.0,51.5 302.0,51.4 301.5,52.2 299.0,52.0 299.0,51.5 M322.0,54.0 324.0,54.5 323.5,54.8 322.0,54.2 322.0,54.0 M8.6,-41.0 9.5,-43.0 9.5,-41.5 9.7,-39.2 8.5,-39.0 8.3,-40.8 8.6,-41.0 M12.5,-38.0 15.5,-38.2 15.1,-36.7 12.5,-37.6 12.5,-38.0 M23.5,-35.5 26.3,-35.2 24.5,-35.0 23.5,-35.5 M32.3,-35.0 34.5,-35.6 33.7,-34.8 32.3,-35.0 M-5.0,71.5 0.0,71.9 10.0,71.5 22.4,71.1 33.6,69.7 39.6,70.4 45.0,68.5 51.6,66.8 56.0,67.0 60.0,68.2 69.6,68.6 71.3,70.8 73.0,69.8 79.0,68.6 85.0,67.5 91.0,67.2 97.0,66.8 103.0,66.4 110.0,66.8 120.0,67.5 127.0,67.0 133.8,66.8 140.0,67.3 146.7,68.6 153.0,69.5 159.5,70.8 165.0,71.2 170.7,72.2 166.0,74.0 163.0,75.9 166.0,77.5 162.0,78.5 160.4,80.2 163.0,82.5 170.0,84.0 180.0,85.0 197.5,86.3 213.8,86.0 206.0,84.1 213.8,81.6 201.8,78.0 210.0,77.3 217.0,76.3 224.0,75.5 232.6,76.5 237.8,74.4 244.6,75.5 252.0,74.5 261.7,73.0 270.0,73.7 277.0,73.5 283.0,73.7 291.7,72.2 294.0,70.0 294.5,68.0 296.0,66.5 299.0,65.0 304.6,64.0 301.0,66.0 297.7,68.6 298.5,71.0 299.4,74.4 296.0,76.5 292.6,78.0 300.0,78.3 305.0,78.7 313.0,79.3 322.0,79.4 330.0,78.0 339.0,75.8 348.0,73.0 355.0,72.0 360.0,71.9 365.0,71.7 M355.0,71.5 360.0,71.9 370.0,71.5 382.4,71.1 393.6,69.7 399.6,70.4 405.0,68.5 411.6,66.8 416.0,67.0 420.0,68.2 429.6,68.6 431.3,70.8 433.0,69.8 439.0,68.6 445.0,67.5 451.0,67.2 457.0,66.8 463.0,66.4 470.0,66.8 480.0,67.5 487.0,67.0 493.8,66.8 500.0,67.3 506.7,68.6 513.0,69.5 519.5,70.8 525.0,71.2 530.7,72.2 526.0,74.0 523.0,75.9 526.0,77.5 522.0,78.5 520.4,80.2 523.0,82.5 530.0,84.0 540.0,85.0 557.5,86.3 573.8,86.0 566.0,84.1 573.8,81.6 561.8,78.0 570.0,77.3 577.0,76.3 584.0,75.5 592.6,76.5 597.8,74.4 604.6,75.5 612.0,74.5 621.7,73.0 630.0,73.7 637.0,73.5 643.0,73.7 651.7,72.2 654.0,70.0 654.5,68.0 656.0,66.5 659.0,65.0 664.6,64.0 661.0,66.0 657.7,68.6 658.5,71.0 659.4,74.4 656.0,76.5 652.6,78.0 660.0,78.3 665.0,78.7 673.0,79.3 682.0,79.4 690.0,78.0 699.0,75.8 708.0,73.0 715.0,72.0 720.0,71.9 725.0,71.7 M-365.0,71.5 -360.0,71.9 -350.0,71.5 -337.6,71.1 -326.4,69.7 -320.4,70.4 -315.0,68.5 -308.4,66.8 -304.0,67.0 -300.0,68.2 -290.4,68.6 -288.7,70.8 -287.0,69.8 -281.0,68.6 -275.0,67.5 -269.0,67.2 -263.0,66.8 -257.0,66.4 -250.0,66.8 -240.0,67.5 -233.0,67.0 -226.2,66.8 -220.0,67.3 -213.3,68.6 -207.0,69.5 -200.5,70.8 -195.0,71.2 -189.3,72.2 -194.0,74.0 -197.0,75.9 -194.0,77.5 -198.0,78.5 -199.6,80.2 -197.0,82.5 -190.0,84.0 -180.0,85.0 -162.5,86.3 -146.2,86.0 -154.0,84.1 -146.2,81.6 -158.2,78.0 -150.0,77.3 -143.0,76.3 -136.0,75.5 -127.4,76.5 -122.2,74.4 -115.4,75.5 -108.0,74.5 -98.3,73.0 -90.0,73.7 -83.0,73.5 -77.0,73.7 -68.3,72.2 -66.0,70.0 -65.5,68.0 -64.0,66.5 -61.0,65.0 -55.4,64.0 -59.0,66.0 -62.3,68.6 -61.5,71.0 -60.6,74.4 -64.0,76.5 -67.4,78.0 -60.0,78.3 -55.0,78.7 -47.0,79.3 -38.0,79.4 -30.0,78.0 -21.0,75.8 -12.0,73.0 -5.0,72.0 0.0,71.9 5.0,71.7 M103.8,-51.6 105.5,-52.0 107.5,-53.0 109.2,-54.8 109.8,-55.7 108.8,-55.0 107.0,-53.5 105.0,-52.3 103.8,-51.6 M58.5,-46.5 60.0,-46.8 61.5,-46.0 61.5,-44.5 60.0,-43.7 58.5,-44.0 58.3,-45.5 58.5,-46.5 M73.5,-45.3 75.0,-46.5 77.0,-46.7 79.0,-46.5 79.0,-46.1 77.0,-46.2 75.0,-45.8 74.0,-44.9 73.5,-45.3 M29.3,3.5 29.8,5.0 30.8,7.5 31.0,8.6 30.4,8.0 29.5,6.0 29.1,4.5 29.3,3.5 M34.0,9.6 34.6,11.0 34.8,13.0 35.0,14.3 34.5,13.5 34.2,11.5 34.0,9.6 M235.0,-66.0 239.0,-67.0 242.0,-66.5 241.0,-65.0 237.0,-65.0 235.0,-66.0 M243.0,-61.0 246.0,-62.5 250.0,-62.8 250.5,-62.3 247.5,-61.3 244.5,-60.8 243.0,-61.0 M261.0,-50.5 261.5,-52.0 262.0,-53.8 263.0,-53.5 263.5,-51.0 262.5,-50.3 261.0,-50.5 M248.5,-58.7 251.0,-59.5 254.0,-59.3 251.0,-59.0 248.5,-58.7 M258.0,-73.5 262.0,-73.8 263.0,-72.5 260.5,-71.5 258.0,-72.5 258.0,-73.5 M260.5,-69.2 264.0,-69.8 264.5,-68.7 261.5,-68.5 260.5,-69.2 M256.0,-76.5 260.0,-76.7 262.0,-75.5 260.0,-75.0 257.0,-75.5 256.0,-76.5 M263.5,-75.3 266.0,-75.5 266.5,-74.7 264.5,-74.6 263.5,-75.3 M237.0,-76.2 241.0,-77.3 244.0,-76.8 240.5,-75.9 237.0,-76.2 M255.0,-78.5 260.0,-79.0 261.0,-78.0 257.0,-77.8 255.0,-78.5 M262.0,-78.5 264.0,-78.8 264.5,-77.9 262.5,-77.8 262.0,-78.5 M279.0,-73.5 283.0,-73.6 283.5,-72.8 280.0,-72.6 279.0,-73.5 M246.0,-77.9 250.0,-78.0 249.5,-77.3 246.5,-77.3 246.0,-77.9 M277.0,-63.0 279.0,-62.8 279.5,-62.2 277.5,-62.3 277.0,-63.0 M282.5,-68.0 284.5,-68.2 284.7,-67.4 283.0,-67.3 282.5,-68.0 M146.0,-44.5 147.5,-45.3 147.3,-45.5 145.9,-44.7 146.0,-44.5 M149.5,-45.8 150.5,-46.4 150.3,-46.6 149.5,-45.8 M152.0,-47.0 153.0,-48.0 152.8,-48.1 152.0,-47.0 M154.5,-49.2 155.8,-50.3 155.5,-50.4 154.5,-49.2 M191.5,-53.3 193.5,-54.0 193.2,-53.6 191.5,-53.3 M187.5,-52.3 189.5,-52.8 189.0,-52.4 187.5,-52.3 M183.0,-51.7 185.0,-52.0 184.5,-51.7 183.0,-51.7 M178.2,-51.4 179.6,-51.9 179.2,-51.5 178.2,-51.4 M172.8,-52.7 174.2,-53.0 173.6,-52.6 172.8,-52.7 M164.0,20.2 165.5,21.0 167.0,22.3 166.0,21.8 164.5,20.8 164.0,20.2 M156.5,7.0 158.0,8.0 160.0,9.5 161.5,10.3 160.0,9.0 158.0,7.6 156.5,7.0 M177.3,17.5 178.6,17.6 178.4,18.2 177.3,18.1 177.3,17.5 M166.6,15.0 167.2,15.6 167.5,16.5 167.0,16.0 166.6,15.0 M268.5,0.5 269.2,0.4 269.0,1.0 268.5,0.9 268.5,0.5 M343.2,-28.3 343.8,-28.5 343.6,-28.1 343.2,-28.3 M2.4,-39.6 3.3,-39.8 3.0,-39.3 2.4,-39.6 M282.0,-26.5 282.8,-26.6 282.2,-25.2 281.8,-25.2 282.0,-26.5 M298.2,-10.7 299.0,-10.8 299.0,-10.1 298.2,-10.1 298.2,-10.7 M53.4,-12.6 54.4,-12.6 54.0,-12.3 53.4,-12.6 M55.3,21.0 55.8,21.1 55.5,21.4 55.3,21.0 M57.4,20.1 57.8,20.2 57.6,20.5 57.4,20.1 M39.2,5.8 39.5,6.0 39.4,6.4 39.2,5.8" fill="none" stroke="#000" stroke-width="1.1" stroke-linejoin="round" vector-effect="non-scaling-stroke"/>
</defs>
<g clip-path="url(#clip1)">
<g filter="url(#cm1)">
<rect x="178.4" y="185.6" width="1083.4" height="709.2" fill="#383838"/>
<g filter="url(#b12_1)">
<polygon points="283.0,543.3 355.6,543.3 360.0,585.1 348.9,622.3 322.5,635.4 304.8,618.0 294.1,585.1" fill="#808080"/>
<polygon points="373.1,549.7 447.7,547.5 513.6,543.3 579.8,534.4 689.6,530.1 744.5,552.1 744.5,622.3 689.6,618.0 645.7,602.4 601.6,596.0 535.7,589.3 469.8,587.2 425.9,580.5 381.8,569.5" fill="#808080"/>
<polygon points="326.9,653.1 425.9,661.9 403.8,727.8 315.9,723.3" fill="#535353"/>
<polygon points="403.8,694.9 730.1,710.1 730.1,741.0 381.8,734.3" fill="#535353"/>
<polygon points="678.5,607.0 733.4,596.0 733.4,683.9 667.5,672.9" fill="#606060"/>
<polygon points="696.8,552.1 731.9,558.5 765.0,580.5 782.4,602.4 797.8,602.4 813.2,596.0 824.2,618.0 846.3,644.2 863.7,666.2 841.9,683.9 797.8,670.8 754.0,661.9 710.1,653.1 696.8,648.8" fill="#878787"/>
<polygon points="978.1,534.4 1039.7,530.1 1087.9,552.1 1083.6,585.1 1061.8,618.0 1028.7,635.4 1013.3,618.0 1002.2,585.1 982.5,556.4" fill="#878787"/>
<polygon points="1039.7,629.0 1083.6,613.4 1149.5,661.9 1127.7,683.9 1061.8,666.2" fill="#686868"/>
<polygon points="696.8,723.3 841.9,727.8 995.8,716.9 1190.0,723.3 1190.0,749.8 1017.6,741.0 907.9,741.0 696.8,749.8" fill="#535353"/>
<polygon points="863.7,672.9 984.8,683.9 984.8,716.9 863.7,716.9" fill="#535353"/>
<polygon points="1039.7,683.9 1171.5,672.9 1190.0,705.9 1039.7,716.9" fill="#535353"/>
</g>
<g filter="url(#b10_1)">
<polygon points="623.7,400.8 645.7,389.8 689.6,383.1 744.5,383.1 744.5,444.7 689.6,442.6 645.7,435.9 612.6,427.0" fill="#707070"/>
<polygon points="458.7,523.7 524.6,519.5 568.8,517.0 612.6,512.7 689.6,512.7 744.5,519.5 744.5,567.7 447.7,567.7" fill="#787878"/>
<polygon points="696.8,365.4 754.0,361.1 808.8,363.2 846.3,369.9 868.4,391.9 863.7,418.2 833.0,422.7 797.8,427.0 754.0,422.7 696.8,427.0" fill="#686868"/>
<polygon points="980.4,400.8 1017.6,391.9 1061.8,383.1 1096.9,391.9 1094.6,413.9 1061.8,427.0 1017.6,433.7 984.8,429.1" fill="#787878"/>
<polygon points="1035.3,317.2 1083.6,326.0 1127.7,321.4 1171.5,326.0 1171.5,365.4 1105.6,378.8 1050.7,374.2 1033.0,352.3" fill="#585858"/>
<polygon points="696.8,506.0 760.6,506.0 819.9,508.5 877.1,512.7 929.7,523.7 943.0,536.8 885.8,534.7 797.8,530.4 696.8,528.0" fill="#787878"/>
<polygon points="980.4,532.6 1017.6,523.7 1061.8,523.7 1087.9,536.8 1087.9,567.7 980.4,567.7" fill="#878787"/>
<polygon points="1145.1,528.0 1193.6,523.7 1193.6,552.4 1145.1,552.4" fill="#606060"/>
</g>
<g filter="url(#b6_1)">
<ellipse cx="345.6" cy="607.0" rx="8.4" ry="16.5" fill="#efefef" transform="rotate(20 345.6 607.0)"/>
<ellipse cx="390.8" cy="560.6" rx="12.1" ry="9.9" fill="#afafaf"/>
<ellipse cx="416.9" cy="566.1" rx="12.1" ry="9.9" fill="#afafaf"/>
<ellipse cx="441.3" cy="558.5" rx="11.0" ry="8.8" fill="#9f9f9f"/>
<ellipse cx="520.3" cy="563.1" rx="20.9" ry="9.2" fill="#efefef"/>
<ellipse cx="487.5" cy="581.7" rx="14.3" ry="7.7" fill="#afafaf"/>
<ellipse cx="546.7" cy="543.3" rx="13.2" ry="13.2" fill="#afafaf"/>
<ellipse cx="619.3" cy="589.3" rx="13.2" ry="13.2" fill="#bfbfbf"/>
<ellipse cx="647.8" cy="574.1" rx="24.2" ry="20.9" fill="#ffffff"/>
<ellipse cx="698.3" cy="565.2" rx="17.6" ry="14.3" fill="#cfcfcf"/>
<ellipse cx="711.6" cy="613.4" rx="12.1" ry="17.6" fill="#9f9f9f"/>
<ellipse cx="634.7" cy="534.4" rx="17.6" ry="12.1" fill="#ffffff"/>
<ellipse cx="680.9" cy="587.2" rx="17.6" ry="17.6" fill="#afafaf"/>
<ellipse cx="322.5" cy="574.1" rx="14.3" ry="24.2" fill="#9f9f9f"/>
<ellipse cx="714.5" cy="574.1" rx="13.2" ry="13.2" fill="#cfcfcf"/>
<ellipse cx="742.9" cy="604.6" rx="17.6" ry="15.4" fill="#cfcfcf"/>
<ellipse cx="782.4" cy="635.4" rx="11.0" ry="11.0" fill="#afafaf"/>
<ellipse cx="824.2" cy="642.1" rx="12.1" ry="12.1" fill="#afafaf"/>
<ellipse cx="797.8" cy="657.4" rx="11.0" ry="8.8" fill="#9f9f9f"/>
<ellipse cx="765.0" cy="624.4" rx="11.0" ry="11.0" fill="#afafaf"/>
<ellipse cx="1008.9" cy="554.2" rx="15.4" ry="13.2" fill="#cfcfcf"/>
<ellipse cx="1061.8" cy="543.3" rx="13.2" ry="9.9" fill="#cfcfcf"/>
<ellipse cx="1039.7" cy="602.4" rx="20.9" ry="15.4" fill="#bfbfbf"/>
<ellipse cx="1094.6" cy="646.4" rx="28.6" ry="12.1" fill="#9f9f9f"/>
<ellipse cx="1028.7" cy="574.1" rx="13.2" ry="13.2" fill="#9f9f9f"/>
<ellipse cx="652.1" cy="418.2" rx="13.2" ry="8.8" fill="#8f8f8f"/>
<ellipse cx="691.9" cy="422.7" rx="13.2" ry="8.8" fill="#8f8f8f"/>
<ellipse cx="667.5" cy="400.8" rx="11.0" ry="6.6" fill="#808080"/>
<ellipse cx="661.1" cy="530.4" rx="33.0" ry="13.2" fill="#ffffff"/>
<ellipse cx="634.7" cy="543.6" rx="26.4" ry="11.0" fill="#ffffff"/>
<ellipse cx="584.2" cy="475.5" rx="9.9" ry="6.6" fill="#afafaf"/>
<ellipse cx="551.1" cy="536.8" rx="17.6" ry="13.2" fill="#afafaf"/>
<ellipse cx="491.8" cy="539.0" rx="26.4" ry="11.0" fill="#8f8f8f"/>
<ellipse cx="850.7" cy="379.7" rx="6.2" ry="13.2" fill="#bfbfbf" transform="rotate(-35 850.7 379.7)"/>
<ellipse cx="765.0" cy="405.0" rx="17.6" ry="11.0" fill="#878787"/>
<ellipse cx="729.8" cy="391.9" rx="13.2" ry="11.0" fill="#808080"/>
<ellipse cx="1074.8" cy="397.4" rx="9.9" ry="8.8" fill="#afafaf"/>
<ellipse cx="1017.6" cy="421.5" rx="19.8" ry="7.7" fill="#afafaf"/>
<ellipse cx="1068.2" cy="411.7" rx="11.0" ry="7.7" fill="#9f9f9f"/>
<ellipse cx="1081.5" cy="332.4" rx="8.8" ry="7.7" fill="#9f9f9f"/>
<ellipse cx="782.4" cy="517.0" rx="26.4" ry="7.0" fill="#cfcfcf"/>
<ellipse cx="837.6" cy="519.5" rx="28.6" ry="6.6" fill="#cfcfcf"/>
<ellipse cx="899.1" cy="528.0" rx="24.2" ry="6.6" fill="#9f9f9f"/>
<ellipse cx="727.5" cy="512.7" rx="17.6" ry="7.7" fill="#808080"/>
<ellipse cx="1006.6" cy="543.6" rx="15.4" ry="11.0" fill="#cfcfcf"/>
<ellipse cx="1052.8" cy="543.6" rx="15.4" ry="11.0" fill="#cfcfcf"/>
</g>
<polygon points="236.9,278.7 315.9,276.6 381.8,275.4 434.6,280.9 441.3,290.6 458.7,299.5 478.5,301.9 491.8,295.2 513.6,294.0 533.6,298.6 540.0,307.4 533.6,315.0 513.6,322.7 509.3,332.4 502.8,348.0 478.5,357.7 454.4,365.4 447.7,374.2 455.4,384.3 469.8,378.8 479.8,385.2 478.5,394.1 465.4,409.3 457.7,427.0 454.4,435.9 447.7,439.2 416.9,438.0 403.8,451.1 392.8,454.5 381.8,449.0 375.4,438.0 364.3,437.1 353.3,443.5 344.6,452.3 322.5,455.7 294.1,444.7 272.0,438.0 236.9,435.9" fill="#282828"/>
<polygon points="696.8,326.0 723.2,326.0 742.9,331.5 754.0,328.1 767.0,326.0 782.4,324.8 815.5,329.4 833.0,335.8 850.7,337.9 872.7,348.9 885.8,359.0 888.1,374.2 881.4,383.1 877.1,374.2 872.7,365.4 863.7,356.8 850.7,352.3 833.0,348.0 819.9,341.3 806.8,334.9 793.5,332.4 782.4,334.9 771.7,332.4 765.0,337.0 754.0,335.8 742.9,341.3 731.9,348.0 723.2,356.8 710.1,359.0 696.8,361.1" fill="#282828"/>
<polygon points="877.1,383.1 888.1,387.3 885.8,402.9 892.5,413.9 885.8,435.9 877.1,427.0 872.7,413.9 874.8,396.2" fill="#282828"/>
<polygon points="929.7,396.2 943.0,391.9 951.7,380.9 967.1,374.2 980.4,378.8 991.2,376.4 993.5,369.9 989.2,363.2 980.4,356.8 989.2,348.0 1002.2,345.8 1011.0,354.4 1022.0,363.2 1037.4,378.8 1044.1,385.2 1039.7,391.9 1028.7,389.8 1017.6,386.4 1002.2,389.8 986.9,391.9 969.4,391.9 951.7,389.8 940.7,396.2 934.3,405.0 929.7,418.2 929.7,435.9 934.3,446.8 929.7,457.8 926.6,449.0 920.9,438.0 920.9,427.0 927.6,413.9" fill="#282828"/>
<polygon points="929.7,457.8 938.6,451.1 932.0,464.5 936.3,475.5 947.4,479.8 954.0,476.4 958.4,470.9 973.8,465.4 984.8,457.8 978.1,453.5 973.8,462.1 962.7,466.7 951.7,470.9 943.0,468.8 936.3,462.1" fill="#282828"/>
<polygon points="1112.3,413.9 1123.1,402.9 1140.8,391.9 1162.8,383.1 1175.9,378.8 1204.6,374.2 1204.6,400.8 1171.5,400.8 1158.5,405.0 1145.1,413.9 1140.8,427.0 1145.1,435.9 1160.5,433.7 1171.5,433.7 1204.6,431.6 1204.6,444.7 1173.8,444.7 1162.8,451.1 1149.5,457.8 1140.8,453.5 1134.1,442.6 1121.0,439.2 1105.6,444.7 1110.0,429.1" fill="#282828"/>
<polygon points="1083.6,280.9 1127.7,279.6 1204.6,280.9 1204.6,289.7 1171.5,289.7 1149.5,287.6 1127.7,283.0 1112.3,286.3 1116.6,299.5 1105.6,317.2 1096.9,323.9 1083.6,317.2 1083.6,311.7 1087.9,304.0 1083.6,293.1" fill="#282828"/>
<polygon points="1026.4,310.5 1039.7,307.4 1044.1,317.2 1039.7,326.0 1035.3,343.4 1031.0,356.8 1022.0,363.2 1017.6,356.8 1017.6,346.8 1028.7,337.0 1033.0,326.0" fill="#282828"/>
<polygon points="696.8,450.2 723.2,449.0 742.9,446.8 765.0,446.8 782.4,435.9 797.8,438.0 813.2,446.8 806.8,457.8 813.2,470.9 828.6,479.8 824.2,488.6 806.8,488.6 797.8,479.8 784.7,470.9 776.0,464.5 771.7,457.8 762.7,457.8 754.0,464.5 757.3,477.7 750.6,488.6 738.6,498.4 727.5,495.0 720.9,481.9 714.5,470.9 696.8,468.8" fill="#282828"/>
<ellipse cx="768.3" cy="492.0" rx="6.6" ry="6.6" fill="#282828"/>
<polygon points="868.4,492.9 877.1,490.8 892.5,484.1 907.9,479.8 905.5,490.8 899.1,501.8 894.5,510.6 883.7,509.4 872.7,503.9" fill="#282828"/>
<polygon points="236.9,640.0 263.3,635.4 276.4,633.3 294.1,640.0 307.1,644.2 322.5,646.4 326.9,655.2 324.8,664.1 315.9,670.8 311.5,679.3 304.8,672.9 294.1,666.2 283.0,670.8 272.0,666.2 263.3,661.9 236.9,659.8" fill="#282828"/>
<ellipse cx="331.2" cy="677.2" rx="5.5" ry="4.8" fill="#282828"/>
<ellipse cx="288.4" cy="690.3" rx="6.6" ry="11.0" fill="#282828"/>
<ellipse cx="263.3" cy="694.9" rx="8.8" ry="9.9" fill="#282828"/>
<polygon points="360.0,622.3 366.4,615.6 381.8,611.3 392.8,604.6 403.8,602.4 416.9,596.0 425.9,587.2 434.6,589.3 436.9,598.2 430.3,604.6 421.5,609.2 416.9,618.0 423.6,629.0 432.3,637.8 441.3,640.0 452.3,648.8 469.8,648.8 487.5,653.1 504.9,649.7 522.6,655.2 535.7,661.9 544.4,659.8 555.4,655.2 566.5,653.1 579.8,657.4 588.5,661.9 579.8,670.8 586.2,683.9 592.9,692.8 586.2,701.3 579.8,688.2 573.1,677.2 562.1,679.3 553.4,677.2 535.7,679.3 522.6,675.1 520.3,666.2 509.3,659.8 500.5,670.8 489.5,664.1 478.5,661.9 467.7,672.9 458.7,670.8 454.4,659.8 443.3,655.2 430.3,653.1 416.9,648.8 403.8,642.1 390.8,642.1 373.1,642.1 362.0,635.4" fill="#282828"/>
<ellipse cx="401.5" cy="585.1" rx="5.5" ry="2.6" fill="#282828"/>
<ellipse cx="436.9" cy="671.7" rx="5.5" ry="9.9" fill="#282828"/>
<ellipse cx="498.2" cy="697.0" rx="9.9" ry="6.6" fill="#282828" transform="rotate(-35 498.2 697.0)"/>
<ellipse cx="518.2" cy="702.5" rx="8.4" ry="5.5" fill="#282828"/>
<ellipse cx="544.4" cy="704.7" rx="6.2" ry="4.4" fill="#282828"/>
<polygon points="601.6,661.9 623.7,657.4 636.7,649.7 645.7,640.0 652.1,629.0 658.8,622.3 667.5,626.9 671.9,644.2 676.5,657.4 667.5,659.8 656.5,653.1 645.7,657.4 636.7,666.2 628.0,679.3 619.3,681.8 610.3,675.1" fill="#282828"/>
<polygon points="709.3,690.3 720.4,688.2 731.4,697.0 731.4,708.0 720.4,705.9 713.7,699.2" fill="#282828"/>
<polygon points="236.9,749.8 272.0,747.7 294.1,741.0 322.5,737.6 344.6,738.8 355.6,747.7 373.1,747.7 386.1,744.3 403.8,745.2 425.9,749.8 439.0,758.7 458.7,749.8 491.8,745.2 524.6,743.1 557.7,746.5 601.6,744.3 645.7,747.7 678.5,754.1 700.6,760.8 744.5,758.7 744.5,771.8 236.9,771.8" fill="#282828"/>
<polygon points="835.3,532.3 868.4,536.5 885.8,541.1 903.5,545.4 899.1,554.2 907.9,560.6 929.7,563.1 951.7,565.2 965.1,563.1 967.1,552.1 973.8,567.4 962.7,577.1 940.7,575.0 918.9,571.6 896.8,568.6 877.1,566.1 859.4,563.1 841.9,564.0 836.3,552.1" fill="#282828"/>
<polygon points="765.0,576.2 776.0,578.3 780.4,589.3 787.0,587.2 791.4,576.2 802.2,569.5 813.2,569.5 826.5,576.2 837.6,585.1 850.7,591.5 859.4,602.4 863.7,615.6 874.8,618.0 885.8,622.3 896.8,618.0 907.9,626.9 918.9,640.0 929.7,653.1 940.7,659.8 956.1,664.1 969.4,670.8 982.5,670.8 993.5,664.1 991.2,675.1 973.8,679.3 951.7,672.9 940.7,670.8 929.7,666.2 920.9,670.8 907.9,670.8 896.8,675.1 885.8,670.8 877.1,666.2 868.4,659.8 872.7,648.8 870.4,635.4 877.1,626.9 868.4,622.3 855.0,620.1 846.3,611.3 841.9,602.4 833.0,596.0 824.2,587.2 813.2,580.5 804.5,582.6 797.8,591.5 795.8,600.3 802.2,609.2 806.8,622.3 804.5,633.3 797.8,635.4 795.8,622.3 791.4,611.3 784.7,604.6 778.1,598.2 769.3,591.5 765.0,585.1" fill="#282828"/>
<polygon points="696.8,675.1 718.8,672.9 731.9,675.1 747.3,670.8 767.0,668.3 778.1,672.9 782.4,683.9 787.0,694.9 776.0,701.3 769.3,712.3 767.0,723.3 760.6,724.5 756.3,714.7 749.6,705.9 731.9,703.7 718.8,697.0 696.8,688.2" fill="#282828"/>
<ellipse cx="802.2" cy="677.2" rx="7.7" ry="7.7" fill="#282828"/>
<polygon points="993.5,664.1 1004.6,681.8 1008.9,683.9 1015.6,672.9 1022.0,661.9 1033.0,670.8 1044.1,679.3 1048.4,686.0 1039.7,694.9 1028.7,699.2 1022.0,692.8 1026.4,683.9 1017.6,681.8 1011.0,688.2 1004.6,697.0 995.8,703.7 989.2,701.3 986.9,688.2 989.2,672.9" fill="#282828"/>
<ellipse cx="1055.1" cy="670.8" rx="11.0" ry="6.2" fill="#282828"/>
<ellipse cx="1081.5" cy="670.8" rx="3.3" ry="5.5" fill="#282828"/>
<polygon points="1066.1,578.3 1072.5,571.6 1083.6,569.5 1092.5,560.6 1101.3,556.4 1112.3,563.1 1101.3,569.5 1087.9,582.6 1083.6,596.0 1092.5,604.6 1103.3,613.4 1116.6,615.6 1127.7,622.3 1138.5,626.9 1149.5,632.3 1171.5,635.4 1204.6,637.8 1204.6,648.8 1182.6,653.1 1160.5,657.4 1147.4,664.1 1140.8,657.4 1136.4,644.2 1125.4,635.4 1114.3,626.9 1103.3,624.4 1092.5,618.0 1083.6,609.2 1074.8,598.2 1066.1,589.3" fill="#282828"/>
<polygon points="1004.6,596.0 1011.0,602.4 1013.3,622.3 1015.6,640.0 1024.3,644.2 1033.0,631.1 1037.4,633.3 1033.0,646.4 1022.0,659.8 1015.6,659.8 1008.9,646.4 1004.6,635.4 1003.5,618.0" fill="#282828"/>
<polygon points="696.8,751.9 731.9,749.8 776.0,751.9 819.9,754.1 863.7,749.8 896.8,745.2 912.2,743.1 916.6,749.8 929.7,758.7 951.7,762.9 973.8,765.1 993.5,767.5 1006.6,762.9 1017.6,749.8 1026.4,747.7 1028.7,758.7 1039.7,749.8 1052.8,741.0 1063.8,736.7 1074.8,747.7 1087.9,749.8 1105.6,749.8 1127.7,751.9 1149.5,754.1 1171.5,754.1 1204.6,751.9 1204.6,762.9 1149.5,765.1 1105.6,768.4 1083.6,770.6 1070.5,777.3 1035.3,778.5 1013.3,786.1 1002.2,795.0 973.8,797.1 951.7,792.5 929.7,790.4 907.9,788.3 892.5,790.4 881.4,784.0 863.7,778.5 846.3,775.1 824.2,773.9 804.5,775.1 797.8,768.4 765.0,762.9 731.9,760.8 696.8,762.0" fill="#282828"/>
<polygon points="652.1,334.9 678.5,330.3 711.6,326.0 744.5,323.9 744.5,352.3 730.1,354.4 711.6,356.8 689.6,356.8 680.9,350.1 667.5,348.0 661.1,359.0 654.4,374.2 645.7,383.1 643.4,374.2 646.7,359.0 645.7,348.0" fill="#282828"/>
<polygon points="513.6,323.9 542.3,317.5 579.8,317.5 599.5,328.1 598.3,352.3 592.9,359.0 553.4,364.5 502.8,372.1 492.8,370.9 483.1,383.1 469.8,376.4 456.7,383.1 450.0,374.2 456.7,365.4 480.8,359.0 504.9,348.0 510.5,332.4" fill="#282828" stroke="#282828" stroke-width="16.0" stroke-linejoin="round"/>
<polygon points="393.8,402.9 403.8,411.7 419.2,413.9 422.6,427.0 416.9,438.0 403.8,451.1 399.5,435.9 397.2,418.2" fill="#282828" stroke="#282828" stroke-width="16.0" stroke-linejoin="round"/>
<polygon points="496.2,442.6 513.6,429.1 522.6,435.9 517.0,446.8 527.0,457.8 525.9,479.8 535.7,499.6 535.7,508.5 529.0,512.7 520.3,508.5 507.2,503.9" fill="#282828" stroke="#282828" stroke-width="16.0" stroke-linejoin="round"/>
<polygon points="540.0,479.8 553.4,474.3 565.4,476.4 567.5,490.8 563.1,507.2 542.3,509.4 536.7,495.0" fill="#282828" stroke="#282828" stroke-width="16.0" stroke-linejoin="round"/>
<polygon points="601.6,483.1 612.6,472.2 632.4,463.3 656.5,464.5 689.6,466.7 711.6,468.8 731.4,470.0 731.4,503.6 711.6,503.0 678.5,503.0 652.1,501.8 636.7,492.9 623.7,488.6 606.0,488.6" fill="#282828" stroke="#282828" stroke-width="16.0" stroke-linejoin="round"/>
<polygon points="309.4,418.2 322.5,413.9 329.2,422.7 337.9,433.7 322.5,438.0 313.8,429.1" fill="#282828" stroke="#282828" stroke-width="16.0" stroke-linejoin="round"/>
<polygon points="883.7,374.2 903.5,367.8 912.2,383.1 932.0,391.9 951.7,380.9 943.0,394.1 929.7,398.3 927.6,413.9 920.9,427.0 914.3,434.6 908.9,442.6 907.9,453.5 896.8,457.8 885.8,449.0 885.8,435.9 892.5,424.9 901.2,422.7 907.9,413.9 899.1,409.3 896.8,396.2 888.1,396.2" fill="#282828" stroke="#282828" stroke-width="16.0" stroke-linejoin="round"/>
<polygon points="993.5,369.9 1004.6,365.4 1017.6,363.2 1026.4,369.9 1037.4,378.8 1033.0,385.2 1017.6,383.1 1002.2,378.8 991.2,375.4" fill="#282828" stroke="#282828" stroke-width="16.0" stroke-linejoin="round"/>
<polygon points="723.2,460.0 734.2,456.6 745.2,464.5 751.6,475.5 745.2,479.8 734.2,473.1 725.5,466.7" fill="#282828" stroke="#282828" stroke-width="16.0" stroke-linejoin="round"/>
<polygon points="696.8,464.5 716.5,464.5 718.8,479.8 696.8,481.9" fill="#282828" stroke="#282828" stroke-width="16.0" stroke-linejoin="round"/>
<polygon points="765.0,446.8 782.4,435.9 797.8,438.0 813.2,446.8 828.6,442.6 841.9,435.9 859.4,429.1 868.4,433.7 863.7,446.8 841.9,446.8 824.2,451.1 806.8,457.8 815.5,466.7 828.6,468.8 841.9,475.5 850.7,484.1 863.7,492.9 855.0,492.9 841.9,488.6 828.6,479.8 813.2,470.9 802.2,462.1 791.4,453.5 782.4,457.8 771.7,455.7" fill="#282828" stroke="#282828" stroke-width="16.0" stroke-linejoin="round"/>
<ellipse cx="863.7" cy="433.7" rx="12.4" ry="15.7" fill="#282828"/>
<ellipse cx="734.2" cy="341.3" rx="21.2" ry="16.8" fill="#282828"/>
<polygon points="1087.9,288.5 1105.6,286.3 1112.3,299.5 1105.6,315.0 1092.5,317.2 1083.6,312.9" fill="#282828" stroke="#282828" stroke-width="16.0" stroke-linejoin="round"/>
<polygon points="1158.5,405.0 1171.5,400.8 1204.6,400.8 1204.6,429.1 1171.5,429.1 1160.5,420.3" fill="#282828" stroke="#282828" stroke-width="16.0" stroke-linejoin="round"/>
<polygon points="1123.1,413.9 1136.4,411.7 1147.4,422.7 1151.8,435.9 1140.8,435.9 1127.7,429.1" fill="#282828" stroke="#282828" stroke-width="16.0" stroke-linejoin="round"/>
<polygon points="364.3,626.9 373.1,622.3 386.1,615.6 399.5,610.1 408.2,618.0 416.9,626.9 423.6,635.4 408.2,637.8 390.8,638.8 373.1,637.8 364.3,633.3" fill="#282828" stroke="#282828" stroke-width="16.0" stroke-linejoin="round"/>
<ellipse cx="427.9" cy="598.2" rx="13.5" ry="12.4" fill="#282828"/>
<polygon points="441.3,640.0 454.4,629.0 461.0,622.3 465.4,637.8 476.4,642.1 487.5,640.0 498.2,635.4 513.6,642.1 531.3,646.4 538.0,653.1 544.4,659.8 535.7,661.9 522.6,655.2 504.9,649.7 487.5,653.1 469.8,648.8 452.3,648.8" fill="#282828" stroke="#282828" stroke-width="16.0" stroke-linejoin="round"/>
<ellipse cx="559.8" cy="668.3" rx="14.6" ry="14.6" fill="#282828"/>
<ellipse cx="617.0" cy="669.6" rx="15.0" ry="13.5" fill="#282828"/>
<ellipse cx="661.1" cy="635.4" rx="12.0" ry="16.8" fill="#282828"/>
<polygon points="267.6,659.8 283.0,655.2 294.1,648.8 309.4,646.4 320.2,648.8 322.5,655.2 311.5,657.4 298.4,661.9 289.4,666.2 276.4,662.9" fill="#282828" stroke="#282828" stroke-width="16.0" stroke-linejoin="round"/>
<ellipse cx="892.5" cy="659.8" rx="13.5" ry="16.8" fill="#282828"/>
<ellipse cx="767.0" cy="675.1" rx="13.5" ry="12.0" fill="#282828"/>
<ellipse cx="803.5" cy="675.4" rx="12.4" ry="11.3" fill="#282828"/>
<polygon points="1022.0,664.1 1033.0,672.9 1037.4,679.3 1028.7,679.3 1019.9,672.9" fill="#282828" stroke="#282828" stroke-width="16.0" stroke-linejoin="round"/>
<polygon points="949.7,525.6 973.8,525.6 971.5,543.3 962.7,545.4 951.7,541.1" fill="#282828" stroke="#282828" stroke-width="16.0" stroke-linejoin="round"/>
<polygon points="1147.4,547.5 1158.5,541.1 1171.5,543.3 1175.9,552.1 1162.8,556.4" fill="#282828" stroke="#282828" stroke-width="16.0" stroke-linejoin="round"/>
<polygon points="542.3,304.0 538.0,313.8 557.7,315.9 579.8,317.5 592.9,322.7 599.5,328.1 588.5,332.4 584.2,337.0 592.9,343.4 598.3,352.3 592.9,359.0 575.2,362.3 553.4,364.5 524.6,367.8 502.8,372.1 492.8,370.9 488.5,378.8 483.1,391.9 469.8,405.0 461.0,416.0 458.7,435.9 462.1,443.5 447.7,443.5 430.3,442.6 416.9,445.6 408.2,453.5 399.5,455.7 386.1,453.5 379.7,446.8 373.1,437.1 364.3,435.9 353.3,442.6 344.6,451.1 322.5,454.5 294.1,443.5 272.0,437.1 236.9,435.9 236.9,512.7 258.9,512.7 269.7,516.1 280.7,523.7 304.8,531.4 333.6,529.2 355.6,536.8 364.3,550.0 390.8,545.7 416.9,543.6 441.3,534.7 445.6,523.7 452.3,512.7 469.8,503.0 491.8,505.1 504.9,508.5 508.2,501.8 507.2,479.8 504.9,468.8 498.2,457.8 496.2,446.8 499.5,435.9 502.8,431.6 513.6,422.7 535.7,413.9 553.4,411.7 559.8,413.9 566.5,418.2 575.2,424.9 584.2,427.0 589.5,420.3 594.9,409.3 606.0,394.1 614.9,383.1 621.3,378.8 625.7,387.3 632.4,394.1 639.0,389.8 643.4,374.2 646.7,359.0 645.7,348.0 650.1,337.0 667.5,328.1 687.3,322.7 711.6,320.5 744.5,318.4 744.5,246.7 236.9,246.7 236.9,273.5 315.9,273.2 381.8,272.0 432.3,274.1 447.7,284.2 461.0,293.1 478.5,299.5 487.5,293.1 491.8,290.6 513.6,290.6 533.6,295.2" fill="#282828" stroke="#282828" stroke-width="30.0" stroke-linejoin="round"/>
<polygon points="652.1,494.1 667.5,486.5 680.9,479.8 691.9,474.3 707.0,476.4 710.4,488.6 708.3,500.5 678.5,501.8 654.4,500.5" fill="#282828" stroke="#282828" stroke-width="30.0" stroke-linejoin="round"/>
<ellipse cx="262.0" cy="388.6" rx="21.6" ry="20.5" fill="#282828"/>
<polygon points="696.8,246.7 1204.6,246.7 1204.6,278.7 1127.7,278.7 1061.8,279.6 1028.7,284.2 1039.7,290.6 1061.8,289.7 1083.6,293.1 1087.9,304.0 1083.6,311.7 1061.8,312.9 1039.7,307.4 1026.4,310.5 1033.0,326.0 1028.7,337.0 1017.6,346.8 1002.2,345.8 989.2,348.0 980.4,356.8 975.8,367.8 967.1,374.2 951.7,379.7 940.7,383.1 932.0,389.8 916.6,392.8 894.5,389.8 890.2,383.1 892.5,372.1 903.5,367.8 907.9,361.1 896.8,356.8 872.7,345.8 850.7,334.9 833.0,332.4 815.5,326.0 782.4,321.4 762.7,322.7 754.0,326.0 742.9,328.1 723.2,322.7 696.8,323.9" fill="#282828" stroke="#282828" stroke-width="30.0" stroke-linejoin="round"/>
<polygon points="806.8,457.8 824.2,451.1 841.9,446.8 863.7,448.1 883.7,449.0 896.8,459.0 907.9,453.5 908.9,442.6 914.3,434.6 920.9,438.0 926.6,449.0 930.9,466.7 943.0,477.7 954.0,488.6 962.7,501.8 969.4,517.0 973.8,530.4 960.4,525.9 943.0,523.7 920.9,521.6 903.5,517.0 894.5,510.6 899.1,501.8 905.5,490.8 914.3,481.9 907.9,479.8 892.5,484.1 877.1,490.8 863.7,492.9 850.7,484.1 841.9,475.5 828.6,468.8 815.5,466.7" fill="#282828" stroke="#282828" stroke-width="30.0" stroke-linejoin="round"/>
<polygon points="954.0,476.4 958.4,470.9 973.8,465.4 993.5,460.0 1002.2,464.5 1017.6,470.0 1035.3,462.1 1052.8,461.2 1072.5,464.5 1083.6,470.9 1092.5,464.5 1096.9,451.1 1105.6,444.7 1121.0,439.2 1134.1,442.6 1140.8,453.5 1149.5,457.8 1162.8,451.1 1173.8,444.7 1204.6,442.6 1204.6,519.5 1184.6,517.0 1162.8,521.6 1149.5,514.9 1127.7,514.9 1105.6,512.7 1083.6,510.6 1061.8,509.4 1039.7,510.6 1026.4,506.0 1013.3,501.8 1002.2,503.9 995.8,508.5 1002.2,517.0 1013.3,521.6 1002.2,521.6 993.5,514.9 982.5,510.6 973.8,512.7 962.7,501.8 954.0,488.6" fill="#282828" stroke="#282828" stroke-width="30.0" stroke-linejoin="round"/>
<polygon points="718.8,543.6 754.0,536.8 771.7,540.2 782.4,543.6 802.2,535.9 828.6,535.9 835.3,543.6 839.6,554.5 696.8,554.5" fill="#282828" stroke="#282828" stroke-width="30.0" stroke-linejoin="round"/>
<polygon points="770.4,451.1 782.4,442.6 787.0,445.6 782.4,455.7 773.7,455.7" fill="#282828" stroke="#282828" stroke-width="30.0" stroke-linejoin="round"/>
<ellipse cx="1180.3" cy="387.3" rx="20.5" ry="23.8" fill="#282828"/>
<polygon points="346.6,516.7 351.0,538.7 355.6,549.7 364.3,555.2 373.1,552.1 386.1,545.4 403.8,542.0 416.9,539.9 430.3,536.5 441.3,532.3 443.3,516.7" fill="#282828" stroke="#282828" stroke-width="30.0" stroke-linejoin="round"/>
<polygon points="236.9,566.1 272.0,566.1 287.4,571.6 291.7,585.1 289.4,596.0 296.1,609.2 302.8,622.3 309.4,633.3 304.8,642.1 294.1,640.0 283.0,635.4 269.7,633.3 258.9,634.5 236.9,635.4" fill="#282828" stroke="#282828" stroke-width="30.0" stroke-linejoin="round"/>
<polygon points="381.8,629.0 390.8,618.0 397.2,614.6 403.8,622.3 412.6,629.0 408.2,633.3 392.8,634.5" fill="#282828" stroke="#282828" stroke-width="30.0" stroke-linejoin="round"/>
<polygon points="461.0,607.0 474.1,603.7 491.8,605.8 504.9,599.1 520.3,600.3 542.3,607.0 550.0,618.0 553.4,626.9 557.7,633.3 566.5,635.4 575.2,626.9 566.5,618.0 568.8,611.3 579.8,607.9 601.6,612.5 623.7,618.9 641.1,623.5 643.4,633.3 634.7,646.4 623.7,654.3 612.6,648.8 601.6,640.0 588.5,637.8 575.2,642.1 562.1,647.6 555.4,655.2 544.4,659.8 538.0,653.1 531.3,646.4 513.6,642.1 498.2,635.4 487.5,640.0 476.4,642.1 465.4,637.8 461.0,622.3" fill="#282828" stroke="#282828" stroke-width="30.0" stroke-linejoin="round"/>
<polygon points="236.9,762.0 272.0,760.8 304.8,759.6 337.9,758.7 364.3,755.3 390.8,753.2 412.6,756.5 423.6,768.4 436.9,771.8 447.7,767.5 461.0,760.8 483.1,756.5 504.9,754.1 527.0,751.9 557.7,756.5 579.8,758.7 601.6,756.5 623.7,755.3 645.7,757.4 667.5,760.8 689.6,765.1 711.6,762.9 744.5,760.8 744.5,837.7 236.9,837.7" fill="#282828" stroke="#282828" stroke-width="30.0" stroke-linejoin="round"/>
<polygon points="720.4,545.4 731.4,541.1 744.5,541.1 744.5,556.4 729.1,554.2" fill="#282828" stroke="#282828" stroke-width="30.0" stroke-linejoin="round"/>
<polygon points="720.9,543.3 742.9,538.7 771.7,537.8 776.0,549.7 787.0,546.6 797.8,538.7 815.5,535.6 833.0,536.5 837.6,552.1 841.9,563.1 859.4,561.9 877.1,565.2 896.8,567.4 918.9,570.7 940.7,574.1 962.7,576.2 973.8,567.4 975.8,558.5 982.5,569.5 991.2,582.6 1000.2,593.6 1003.5,618.0 1004.6,635.4 1008.9,646.4 1015.6,659.8 1013.3,670.8 1006.6,681.8 1002.2,679.3 997.9,670.8 993.5,664.1 982.5,670.8 969.4,670.8 956.1,664.1 940.7,659.8 929.7,653.1 918.9,640.0 907.9,626.9 896.8,618.0 885.8,622.3 874.8,618.0 863.7,615.6 859.4,602.4 850.7,591.5 837.6,585.1 826.5,576.2 813.2,569.5 802.2,569.5 791.4,576.2 787.0,587.2 780.4,589.3 776.0,578.3 769.3,567.4 754.0,558.5 736.3,552.1 723.2,547.5" fill="#282828" stroke="#282828" stroke-width="30.0" stroke-linejoin="round"/>
<polygon points="1087.9,582.6 1101.3,569.5 1112.3,563.1 1127.7,558.5 1149.5,556.4 1171.5,559.7 1204.6,558.5 1204.6,637.8 1171.5,635.4 1149.5,632.3 1138.5,626.9 1127.7,622.3 1116.6,615.6 1103.3,613.4 1092.5,604.6 1083.6,596.0" fill="#282828" stroke="#282828" stroke-width="30.0" stroke-linejoin="round"/>
<polygon points="696.8,760.8 731.9,759.6 765.0,762.0 797.8,767.5 804.5,773.9 824.2,773.0 846.3,773.9 863.7,777.3 881.4,782.8 892.5,789.5 907.9,787.0 929.7,789.5 951.7,791.6 973.8,795.9 1002.2,793.7 1013.3,784.9 1022.0,778.5 1035.3,777.3 1052.8,778.5 1070.5,776.1 1083.6,769.6 1105.6,767.5 1127.7,766.3 1149.5,764.2 1171.5,760.8 1204.6,759.6 1204.6,837.7 696.8,837.7" fill="#282828" stroke="#282828" stroke-width="30.0" stroke-linejoin="round"/>
<ellipse cx="1072.5" cy="583.8" rx="18.3" ry="19.4" fill="#282828"/>
<polygon points="513.6,323.9 542.3,317.5 579.8,317.5 599.5,328.1 598.3,352.3 592.9,359.0 553.4,364.5 502.8,372.1 492.8,370.9 483.1,383.1 469.8,376.4 456.7,383.1 450.0,374.2 456.7,365.4 480.8,359.0 504.9,348.0 510.5,332.4" fill="#181818"/>
<polygon points="393.8,402.9 403.8,411.7 419.2,413.9 422.6,427.0 416.9,438.0 403.8,451.1 399.5,435.9 397.2,418.2" fill="#181818"/>
<polygon points="496.2,442.6 513.6,429.1 522.6,435.9 517.0,446.8 527.0,457.8 525.9,479.8 535.7,499.6 535.7,508.5 529.0,512.7 520.3,508.5 507.2,503.9" fill="#181818"/>
<polygon points="540.0,479.8 553.4,474.3 565.4,476.4 567.5,490.8 563.1,507.2 542.3,509.4 536.7,495.0" fill="#181818"/>
<polygon points="601.6,483.1 612.6,472.2 632.4,463.3 656.5,464.5 689.6,466.7 711.6,468.8 731.4,470.0 731.4,503.6 711.6,503.0 678.5,503.0 652.1,501.8 636.7,492.9 623.7,488.6 606.0,488.6" fill="#181818"/>
<polygon points="309.4,418.2 322.5,413.9 329.2,422.7 337.9,433.7 322.5,438.0 313.8,429.1" fill="#181818"/>
<polygon points="883.7,374.2 903.5,367.8 912.2,383.1 932.0,391.9 951.7,380.9 943.0,394.1 929.7,398.3 927.6,413.9 920.9,427.0 914.3,434.6 908.9,442.6 907.9,453.5 896.8,457.8 885.8,449.0 885.8,435.9 892.5,424.9 901.2,422.7 907.9,413.9 899.1,409.3 896.8,396.2 888.1,396.2" fill="#181818"/>
<polygon points="993.5,369.9 1004.6,365.4 1017.6,363.2 1026.4,369.9 1037.4,378.8 1033.0,385.2 1017.6,383.1 1002.2,378.8 991.2,375.4" fill="#181818"/>
<polygon points="723.2,460.0 734.2,456.6 745.2,464.5 751.6,475.5 745.2,479.8 734.2,473.1 725.5,466.7" fill="#181818"/>
<polygon points="696.8,464.5 716.5,464.5 718.8,479.8 696.8,481.9" fill="#181818"/>
<polygon points="765.0,446.8 782.4,435.9 797.8,438.0 813.2,446.8 828.6,442.6 841.9,435.9 859.4,429.1 868.4,433.7 863.7,446.8 841.9,446.8 824.2,451.1 806.8,457.8 815.5,466.7 828.6,468.8 841.9,475.5 850.7,484.1 863.7,492.9 855.0,492.9 841.9,488.6 828.6,479.8 813.2,470.9 802.2,462.1 791.4,453.5 782.4,457.8 771.7,455.7" fill="#181818"/>
<ellipse cx="863.7" cy="433.7" rx="4.4" ry="7.7" fill="#181818"/>
<ellipse cx="734.2" cy="341.3" rx="13.2" ry="8.8" fill="#181818"/>
<polygon points="1087.9,288.5 1105.6,286.3 1112.3,299.5 1105.6,315.0 1092.5,317.2 1083.6,312.9" fill="#181818"/>
<polygon points="1158.5,405.0 1171.5,400.8 1204.6,400.8 1204.6,429.1 1171.5,429.1 1160.5,420.3" fill="#181818"/>
<polygon points="1123.1,413.9 1136.4,411.7 1147.4,422.7 1151.8,435.9 1140.8,435.9 1127.7,429.1" fill="#181818"/>
<polygon points="364.3,626.9 373.1,622.3 386.1,615.6 399.5,610.1 408.2,618.0 416.9,626.9 423.6,635.4 408.2,637.8 390.8,638.8 373.1,637.8 364.3,633.3" fill="#181818"/>
<ellipse cx="427.9" cy="598.2" rx="5.5" ry="4.4" fill="#181818"/>
<polygon points="441.3,640.0 454.4,629.0 461.0,622.3 465.4,637.8 476.4,642.1 487.5,640.0 498.2,635.4 513.6,642.1 531.3,646.4 538.0,653.1 544.4,659.8 535.7,661.9 522.6,655.2 504.9,649.7 487.5,653.1 469.8,648.8 452.3,648.8" fill="#181818"/>
<ellipse cx="559.8" cy="668.3" rx="6.6" ry="6.6" fill="#181818"/>
<ellipse cx="617.0" cy="669.6" rx="7.0" ry="5.5" fill="#181818"/>
<ellipse cx="661.1" cy="635.4" rx="4.0" ry="8.8" fill="#181818"/>
<polygon points="267.6,659.8 283.0,655.2 294.1,648.8 309.4,646.4 320.2,648.8 322.5,655.2 311.5,657.4 298.4,661.9 289.4,666.2 276.4,662.9" fill="#181818"/>
<ellipse cx="892.5" cy="659.8" rx="5.5" ry="8.8" fill="#181818"/>
<ellipse cx="767.0" cy="675.1" rx="5.5" ry="4.0" fill="#181818"/>
<ellipse cx="803.5" cy="675.4" rx="4.4" ry="3.3" fill="#181818"/>
<polygon points="1022.0,664.1 1033.0,672.9 1037.4,679.3 1028.7,679.3 1019.9,672.9" fill="#181818"/>
<polygon points="949.7,525.6 973.8,525.6 971.5,543.3 962.7,545.4 951.7,541.1" fill="#181818"/>
<polygon points="1147.4,547.5 1158.5,541.1 1171.5,543.3 1175.9,552.1 1162.8,556.4" fill="#181818"/>
<polygon points="542.3,304.0 538.0,313.8 557.7,315.9 579.8,317.5 592.9,322.7 599.5,328.1 588.5,332.4 584.2,337.0 592.9,343.4 598.3,352.3 592.9,359.0 575.2,362.3 553.4,364.5 524.6,367.8 502.8,372.1 492.8,370.9 488.5,378.8 483.1,391.9 469.8,405.0 461.0,416.0 458.7,435.9 462.1,443.5 447.7,443.5 430.3,442.6 416.9,445.6 408.2,453.5 399.5,455.7 386.1,453.5 379.7,446.8 373.1,437.1 364.3,435.9 353.3,442.6 344.6,451.1 322.5,454.5 294.1,443.5 272.0,437.1 236.9,435.9 236.9,512.7 258.9,512.7 269.7,516.1 280.7,523.7 304.8,531.4 333.6,529.2 355.6,536.8 364.3,550.0 390.8,545.7 416.9,543.6 441.3,534.7 445.6,523.7 452.3,512.7 469.8,503.0 491.8,505.1 504.9,508.5 508.2,501.8 507.2,479.8 504.9,468.8 498.2,457.8 496.2,446.8 499.5,435.9 502.8,431.6 513.6,422.7 535.7,413.9 553.4,411.7 559.8,413.9 566.5,418.2 575.2,424.9 584.2,427.0 589.5,420.3 594.9,409.3 606.0,394.1 614.9,383.1 621.3,378.8 625.7,387.3 632.4,394.1 639.0,389.8 643.4,374.2 646.7,359.0 645.7,348.0 650.1,337.0 667.5,328.1 687.3,322.7 711.6,320.5 744.5,318.4 744.5,246.7 236.9,246.7 236.9,273.5 315.9,273.2 381.8,272.0 432.3,274.1 447.7,284.2 461.0,293.1 478.5,299.5 487.5,293.1 491.8,290.6 513.6,290.6 533.6,295.2" fill="#181818" stroke="#181818" stroke-width="14.0" stroke-linejoin="round"/>
<polygon points="652.1,494.1 667.5,486.5 680.9,479.8 691.9,474.3 707.0,476.4 710.4,488.6 708.3,500.5 678.5,501.8 654.4,500.5" fill="#181818" stroke="#181818" stroke-width="14.0" stroke-linejoin="round"/>
<ellipse cx="262.0" cy="388.6" rx="13.6" ry="12.5" fill="#181818"/>
<polygon points="696.8,246.7 1204.6,246.7 1204.6,278.7 1127.7,278.7 1061.8,279.6 1028.7,284.2 1039.7,290.6 1061.8,289.7 1083.6,293.1 1087.9,304.0 1083.6,311.7 1061.8,312.9 1039.7,307.4 1026.4,310.5 1033.0,326.0 1028.7,337.0 1017.6,346.8 1002.2,345.8 989.2,348.0 980.4,356.8 975.8,367.8 967.1,374.2 951.7,379.7 940.7,383.1 932.0,389.8 916.6,392.8 894.5,389.8 890.2,383.1 892.5,372.1 903.5,367.8 907.9,361.1 896.8,356.8 872.7,345.8 850.7,334.9 833.0,332.4 815.5,326.0 782.4,321.4 762.7,322.7 754.0,326.0 742.9,328.1 723.2,322.7 696.8,323.9" fill="#181818" stroke="#181818" stroke-width="14.0" stroke-linejoin="round"/>
<polygon points="806.8,457.8 824.2,451.1 841.9,446.8 863.7,448.1 883.7,449.0 896.8,459.0 907.9,453.5 908.9,442.6 914.3,434.6 920.9,438.0 926.6,449.0 930.9,466.7 943.0,477.7 954.0,488.6 962.7,501.8 969.4,517.0 973.8,530.4 960.4,525.9 943.0,523.7 920.9,521.6 903.5,517.0 894.5,510.6 899.1,501.8 905.5,490.8 914.3,481.9 907.9,479.8 892.5,484.1 877.1,490.8 863.7,492.9 850.7,484.1 841.9,475.5 828.6,468.8 815.5,466.7" fill="#181818" stroke="#181818" stroke-width="14.0" stroke-linejoin="round"/>
<polygon points="954.0,476.4 958.4,470.9 973.8,465.4 993.5,460.0 1002.2,464.5 1017.6,470.0 1035.3,462.1 1052.8,461.2 1072.5,464.5 1083.6,470.9 1092.5,464.5 1096.9,451.1 1105.6,444.7 1121.0,439.2 1134.1,442.6 1140.8,453.5 1149.5,457.8 1162.8,451.1 1173.8,444.7 1204.6,442.6 1204.6,519.5 1184.6,517.0 1162.8,521.6 1149.5,514.9 1127.7,514.9 1105.6,512.7 1083.6,510.6 1061.8,509.4 1039.7,510.6 1026.4,506.0 1013.3,501.8 1002.2,503.9 995.8,508.5 1002.2,517.0 1013.3,521.6 1002.2,521.6 993.5,514.9 982.5,510.6 973.8,512.7 962.7,501.8 954.0,488.6" fill="#181818" stroke="#181818" stroke-width="14.0" stroke-linejoin="round"/>
<polygon points="718.8,543.6 754.0,536.8 771.7,540.2 782.4,543.6 802.2,535.9 828.6,535.9 835.3,543.6 839.6,554.5 696.8,554.5" fill="#181818" stroke="#181818" stroke-width="14.0" stroke-linejoin="round"/>
<polygon points="770.4,451.1 782.4,442.6 787.0,445.6 782.4,455.7 773.7,455.7" fill="#181818" stroke="#181818" stroke-width="14.0" stroke-linejoin="round"/>
<ellipse cx="1180.3" cy="387.3" rx="12.5" ry="15.8" fill="#181818"/>
<polygon points="346.6,516.7 351.0,538.7 355.6,549.7 364.3,555.2 373.1,552.1 386.1,545.4 403.8,542.0 416.9,539.9 430.3,536.5 441.3,532.3 443.3,516.7" fill="#181818" stroke="#181818" stroke-width="14.0" stroke-linejoin="round"/>
<polygon points="236.9,566.1 272.0,566.1 287.4,571.6 291.7,585.1 289.4,596.0 296.1,609.2 302.8,622.3 309.4,633.3 304.8,642.1 294.1,640.0 283.0,635.4 269.7,633.3 258.9,634.5 236.9,635.4" fill="#181818" stroke="#181818" stroke-width="14.0" stroke-linejoin="round"/>
<polygon points="381.8,629.0 390.8,618.0 397.2,614.6 403.8,622.3 412.6,629.0 408.2,633.3 392.8,634.5" fill="#181818" stroke="#181818" stroke-width="14.0" stroke-linejoin="round"/>
<polygon points="461.0,607.0 474.1,603.7 491.8,605.8 504.9,599.1 520.3,600.3 542.3,607.0 550.0,618.0 553.4,626.9 557.7,633.3 566.5,635.4 575.2,626.9 566.5,618.0 568.8,611.3 579.8,607.9 601.6,612.5 623.7,618.9 641.1,623.5 643.4,633.3 634.7,646.4 623.7,654.3 612.6,648.8 601.6,640.0 588.5,637.8 575.2,642.1 562.1,647.6 555.4,655.2 544.4,659.8 538.0,653.1 531.3,646.4 513.6,642.1 498.2,635.4 487.5,640.0 476.4,642.1 465.4,637.8 461.0,622.3" fill="#181818" stroke="#181818" stroke-width="14.0" stroke-linejoin="round"/>
<polygon points="236.9,762.0 272.0,760.8 304.8,759.6 337.9,758.7 364.3,755.3 390.8,753.2 412.6,756.5 423.6,768.4 436.9,771.8 447.7,767.5 461.0,760.8 483.1,756.5 504.9,754.1 527.0,751.9 557.7,756.5 579.8,758.7 601.6,756.5 623.7,755.3 645.7,757.4 667.5,760.8 689.6,765.1 711.6,762.9 744.5,760.8 744.5,837.7 236.9,837.7" fill="#181818" stroke="#181818" stroke-width="14.0" stroke-linejoin="round"/>
<polygon points="720.4,545.4 731.4,541.1 744.5,541.1 744.5,556.4 729.1,554.2" fill="#181818" stroke="#181818" stroke-width="14.0" stroke-linejoin="round"/>
<polygon points="720.9,543.3 742.9,538.7 771.7,537.8 776.0,549.7 787.0,546.6 797.8,538.7 815.5,535.6 833.0,536.5 837.6,552.1 841.9,563.1 859.4,561.9 877.1,565.2 896.8,567.4 918.9,570.7 940.7,574.1 962.7,576.2 973.8,567.4 975.8,558.5 982.5,569.5 991.2,582.6 1000.2,593.6 1003.5,618.0 1004.6,635.4 1008.9,646.4 1015.6,659.8 1013.3,670.8 1006.6,681.8 1002.2,679.3 997.9,670.8 993.5,664.1 982.5,670.8 969.4,670.8 956.1,664.1 940.7,659.8 929.7,653.1 918.9,640.0 907.9,626.9 896.8,618.0 885.8,622.3 874.8,618.0 863.7,615.6 859.4,602.4 850.7,591.5 837.6,585.1 826.5,576.2 813.2,569.5 802.2,569.5 791.4,576.2 787.0,587.2 780.4,589.3 776.0,578.3 769.3,567.4 754.0,558.5 736.3,552.1 723.2,547.5" fill="#181818" stroke="#181818" stroke-width="14.0" stroke-linejoin="round"/>
<polygon points="1087.9,582.6 1101.3,569.5 1112.3,563.1 1127.7,558.5 1149.5,556.4 1171.5,559.7 1204.6,558.5 1204.6,637.8 1171.5,635.4 1149.5,632.3 1138.5,626.9 1127.7,622.3 1116.6,615.6 1103.3,613.4 1092.5,604.6 1083.6,596.0" fill="#181818" stroke="#181818" stroke-width="14.0" stroke-linejoin="round"/>
<polygon points="696.8,760.8 731.9,759.6 765.0,762.0 797.8,767.5 804.5,773.9 824.2,773.0 846.3,773.9 863.7,777.3 881.4,782.8 892.5,789.5 907.9,787.0 929.7,789.5 951.7,791.6 973.8,795.9 1002.2,793.7 1013.3,784.9 1022.0,778.5 1035.3,777.3 1052.8,778.5 1070.5,776.1 1083.6,769.6 1105.6,767.5 1127.7,766.3 1149.5,764.2 1171.5,760.8 1204.6,759.6 1204.6,837.7 696.8,837.7" fill="#181818" stroke="#181818" stroke-width="14.0" stroke-linejoin="round"/>
<ellipse cx="1072.5" cy="583.8" rx="10.3" ry="11.4" fill="#181818"/>
<polygon points="542.3,304.0 538.0,313.8 557.7,315.9 579.8,317.5 592.9,322.7 599.5,328.1 588.5,332.4 584.2,337.0 592.9,343.4 598.3,352.3 592.9,359.0 575.2,362.3 553.4,364.5 524.6,367.8 502.8,372.1 492.8,370.9 488.5,378.8 483.1,391.9 469.8,405.0 461.0,416.0 458.7,435.9 462.1,443.5 447.7,443.5 430.3,442.6 416.9,445.6 408.2,453.5 399.5,455.7 386.1,453.5 379.7,446.8 373.1,437.1 364.3,435.9 353.3,442.6 344.6,451.1 322.5,454.5 294.1,443.5 272.0,437.1 236.9,435.9 236.9,512.7 258.9,512.7 269.7,516.1 280.7,523.7 304.8,531.4 333.6,529.2 355.6,536.8 364.3,550.0 390.8,545.7 416.9,543.6 441.3,534.7 445.6,523.7 452.3,512.7 469.8,503.0 491.8,505.1 504.9,508.5 508.2,501.8 507.2,479.8 504.9,468.8 498.2,457.8 496.2,446.8 499.5,435.9 502.8,431.6 513.6,422.7 535.7,413.9 553.4,411.7 559.8,413.9 566.5,418.2 575.2,424.9 584.2,427.0 589.5,420.3 594.9,409.3 606.0,394.1 614.9,383.1 621.3,378.8 625.7,387.3 632.4,394.1 639.0,389.8 643.4,374.2 646.7,359.0 645.7,348.0 650.1,337.0 667.5,328.1 687.3,322.7 711.6,320.5 744.5,318.4 744.5,246.7 236.9,246.7 236.9,273.5 315.9,273.2 381.8,272.0 432.3,274.1 447.7,284.2 461.0,293.1 478.5,299.5 487.5,293.1 491.8,290.6 513.6,290.6 533.6,295.2" fill="#060606"/>
<polygon points="652.1,494.1 667.5,486.5 680.9,479.8 691.9,474.3 707.0,476.4 710.4,488.6 708.3,500.5 678.5,501.8 654.4,500.5" fill="#060606"/>
<ellipse cx="262.0" cy="388.6" rx="6.6" ry="5.5" fill="#060606"/>
<polygon points="696.8,246.7 1204.6,246.7 1204.6,278.7 1127.7,278.7 1061.8,279.6 1028.7,284.2 1039.7,290.6 1061.8,289.7 1083.6,293.1 1087.9,304.0 1083.6,311.7 1061.8,312.9 1039.7,307.4 1026.4,310.5 1033.0,326.0 1028.7,337.0 1017.6,346.8 1002.2,345.8 989.2,348.0 980.4,356.8 975.8,367.8 967.1,374.2 951.7,379.7 940.7,383.1 932.0,389.8 916.6,392.8 894.5,389.8 890.2,383.1 892.5,372.1 903.5,367.8 907.9,361.1 896.8,356.8 872.7,345.8 850.7,334.9 833.0,332.4 815.5,326.0 782.4,321.4 762.7,322.7 754.0,326.0 742.9,328.1 723.2,322.7 696.8,323.9" fill="#060606"/>
<polygon points="806.8,457.8 824.2,451.1 841.9,446.8 863.7,448.1 883.7,449.0 896.8,459.0 907.9,453.5 908.9,442.6 914.3,434.6 920.9,438.0 926.6,449.0 930.9,466.7 943.0,477.7 954.0,488.6 962.7,501.8 969.4,517.0 973.8,530.4 960.4,525.9 943.0,523.7 920.9,521.6 903.5,517.0 894.5,510.6 899.1,501.8 905.5,490.8 914.3,481.9 907.9,479.8 892.5,484.1 877.1,490.8 863.7,492.9 850.7,484.1 841.9,475.5 828.6,468.8 815.5,466.7" fill="#060606"/>
<polygon points="954.0,476.4 958.4,470.9 973.8,465.4 993.5,460.0 1002.2,464.5 1017.6,470.0 1035.3,462.1 1052.8,461.2 1072.5,464.5 1083.6,470.9 1092.5,464.5 1096.9,451.1 1105.6,444.7 1121.0,439.2 1134.1,442.6 1140.8,453.5 1149.5,457.8 1162.8,451.1 1173.8,444.7 1204.6,442.6 1204.6,519.5 1184.6,517.0 1162.8,521.6 1149.5,514.9 1127.7,514.9 1105.6,512.7 1083.6,510.6 1061.8,509.4 1039.7,510.6 1026.4,506.0 1013.3,501.8 1002.2,503.9 995.8,508.5 1002.2,517.0 1013.3,521.6 1002.2,521.6 993.5,514.9 982.5,510.6 973.8,512.7 962.7,501.8 954.0,488.6" fill="#060606"/>
<polygon points="718.8,543.6 754.0,536.8 771.7,540.2 782.4,543.6 802.2,535.9 828.6,535.9 835.3,543.6 839.6,554.5 696.8,554.5" fill="#060606"/>
<polygon points="770.4,451.1 782.4,442.6 787.0,445.6 782.4,455.7 773.7,455.7" fill="#060606"/>
<ellipse cx="1180.3" cy="387.3" rx="5.5" ry="8.8" fill="#060606"/>
<polygon points="346.6,516.7 351.0,538.7 355.6,549.7 364.3,555.2 373.1,552.1 386.1,545.4 403.8,542.0 416.9,539.9 430.3,536.5 441.3,532.3 443.3,516.7" fill="#060606"/>
<polygon points="236.9,566.1 272.0,566.1 287.4,571.6 291.7,585.1 289.4,596.0 296.1,609.2 302.8,622.3 309.4,633.3 304.8,642.1 294.1,640.0 283.0,635.4 269.7,633.3 258.9,634.5 236.9,635.4" fill="#060606"/>
<polygon points="381.8,629.0 390.8,618.0 397.2,614.6 403.8,622.3 412.6,629.0 408.2,633.3 392.8,634.5" fill="#060606"/>
<polygon points="461.0,607.0 474.1,603.7 491.8,605.8 504.9,599.1 520.3,600.3 542.3,607.0 550.0,618.0 553.4,626.9 557.7,633.3 566.5,635.4 575.2,626.9 566.5,618.0 568.8,611.3 579.8,607.9 601.6,612.5 623.7,618.9 641.1,623.5 643.4,633.3 634.7,646.4 623.7,654.3 612.6,648.8 601.6,640.0 588.5,637.8 575.2,642.1 562.1,647.6 555.4,655.2 544.4,659.8 538.0,653.1 531.3,646.4 513.6,642.1 498.2,635.4 487.5,640.0 476.4,642.1 465.4,637.8 461.0,622.3" fill="#060606"/>
<polygon points="236.9,762.0 272.0,760.8 304.8,759.6 337.9,758.7 364.3,755.3 390.8,753.2 412.6,756.5 423.6,768.4 436.9,771.8 447.7,767.5 461.0,760.8 483.1,756.5 504.9,754.1 527.0,751.9 557.7,756.5 579.8,758.7 601.6,756.5 623.7,755.3 645.7,757.4 667.5,760.8 689.6,765.1 711.6,762.9 744.5,760.8 744.5,837.7 236.9,837.7" fill="#060606"/>
<polygon points="720.4,545.4 731.4,541.1 744.5,541.1 744.5,556.4 729.1,554.2" fill="#060606"/>
<polygon points="720.9,543.3 742.9,538.7 771.7,537.8 776.0,549.7 787.0,546.6 797.8,538.7 815.5,535.6 833.0,536.5 837.6,552.1 841.9,563.1 859.4,561.9 877.1,565.2 896.8,567.4 918.9,570.7 940.7,574.1 962.7,576.2 973.8,567.4 975.8,558.5 982.5,569.5 991.2,582.6 1000.2,593.6 1003.5,618.0 1004.6,635.4 1008.9,646.4 1015.6,659.8 1013.3,670.8 1006.6,681.8 1002.2,679.3 997.9,670.8 993.5,664.1 982.5,670.8 969.4,670.8 956.1,664.1 940.7,659.8 929.7,653.1 918.9,640.0 907.9,626.9 896.8,618.0 885.8,622.3 874.8,618.0 863.7,615.6 859.4,602.4 850.7,591.5 837.6,585.1 826.5,576.2 813.2,569.5 802.2,569.5 791.4,576.2 787.0,587.2 780.4,589.3 776.0,578.3 769.3,567.4 754.0,558.5 736.3,552.1 723.2,547.5" fill="#060606"/>
<polygon points="1087.9,582.6 1101.3,569.5 1112.3,563.1 1127.7,558.5 1149.5,556.4 1171.5,559.7 1204.6,558.5 1204.6,637.8 1171.5,635.4 1149.5,632.3 1138.5,626.9 1127.7,622.3 1116.6,615.6 1103.3,613.4 1092.5,604.6 1083.6,596.0" fill="#060606"/>
<polygon points="696.8,760.8 731.9,759.6 765.0,762.0 797.8,767.5 804.5,773.9 824.2,773.0 846.3,773.9 863.7,777.3 881.4,782.8 892.5,789.5 907.9,787.0 929.7,789.5 951.7,791.6 973.8,795.9 1002.2,793.7 1013.3,784.9 1022.0,778.5 1035.3,777.3 1052.8,778.5 1070.5,776.1 1083.6,769.6 1105.6,767.5 1127.7,766.3 1149.5,764.2 1171.5,760.8 1204.6,759.6 1204.6,837.7 696.8,837.7" fill="#060606"/>
<ellipse cx="1072.5" cy="583.8" rx="3.3" ry="4.4" fill="#060606"/>
<polygon points="236.9,289.7 272.0,288.5 294.1,287.6 315.9,289.7 337.9,298.6 364.3,300.7 390.8,298.6 412.6,301.9 425.9,307.4 436.9,312.9 441.3,326.0 432.3,334.9 416.9,334.9 403.8,328.1 390.8,326.0 373.1,328.1 360.0,326.0 346.6,321.4 333.6,320.5 315.9,323.9 302.8,328.1 289.4,339.1 276.4,348.0 269.7,356.8 272.0,369.9 263.3,378.8 236.9,383.1" fill="#383838"/>
<polygon points="278.7,369.9 291.7,367.8 304.8,363.2 322.5,359.0 337.9,356.8 353.3,359.9 373.1,365.4 390.8,369.9 403.8,374.2 408.2,383.1 399.5,389.8 386.1,391.9 373.1,389.8 364.3,391.9 364.3,400.8 362.0,413.9 346.6,418.2 337.9,413.9 331.2,405.0 337.9,396.2 346.6,391.9 342.3,387.3 322.5,391.9 304.8,396.2 294.1,391.9 283.0,383.1" fill="#383838"/>
<polygon points="461.0,312.9 478.5,309.5 496.2,310.5 507.2,317.2 508.2,326.0 502.8,334.9 489.5,343.4 474.1,346.8 461.0,343.4 447.7,345.8 434.6,343.4 425.9,337.0 439.0,330.3 447.7,323.9 454.4,317.2" fill="#383838"/>
<ellipse cx="401.5" cy="291.2" rx="19.8" ry="4.0" fill="#383838"/>
<polygon points="379.7,400.8 390.8,395.3 397.2,400.8 392.8,409.3 386.1,413.9 379.7,409.3" fill="#383838"/>
<ellipse cx="436.9" cy="420.3" rx="8.4" ry="13.6" fill="#383838" transform="rotate(15 436.9 420.3)"/>
<ellipse cx="389.2" cy="442.9" rx="4.8" ry="4.8" fill="#383838"/>
<ellipse cx="265.3" cy="418.2" rx="7.7" ry="7.7" fill="#383838"/>
<ellipse cx="297.1" cy="423.6" rx="6.6" ry="5.5" fill="#383838"/>
<ellipse cx="302.8" cy="403.8" rx="6.6" ry="4.4" fill="#383838"/>
<polygon points="538.0,453.5 557.7,435.9 568.8,433.7 570.8,446.8 566.5,457.8 557.7,468.8 542.3,473.1 535.7,466.7" fill="#383838"/>
<ellipse cx="924.3" cy="363.2" rx="18.7" ry="6.6" fill="#181818"/>
<ellipse cx="991.2" cy="483.1" rx="12.1" ry="5.5" fill="#181818"/>
<ellipse cx="1129.7" cy="477.7" rx="6.2" ry="10.6" fill="#282828" transform="rotate(15 1129.7 477.7)"/>
<ellipse cx="971.5" cy="359.0" rx="9.9" ry="13.2" fill="#181818"/>
<ellipse cx="885.8" cy="498.4" rx="7.7" ry="4.8" fill="#383838"/>
<ellipse cx="789.1" cy="460.6" rx="3.1" ry="2.6" fill="#383838"/>
<ellipse cx="1158.5" cy="431.6" rx="3.1" ry="5.5" fill="#383838"/>
<ellipse cx="962.7" cy="341.9" rx="4.8" ry="4.0" fill="#282828"/>
<ellipse cx="849.6" cy="603.7" rx="5.5" ry="5.5" fill="#383838"/>
<ellipse cx="892.5" cy="638.8" rx="4.8" ry="4.8" fill="#383838"/>
<ellipse cx="903.5" cy="651.0" rx="4.8" ry="3.3" fill="#383838"/>
<ellipse cx="1167.2" cy="659.8" rx="8.8" ry="3.3" fill="#383838"/>
<ellipse cx="1138.5" cy="615.6" rx="6.6" ry="12.1" fill="#181818"/>
<polygon points="731.9,804.7 776.0,800.5 819.9,797.1 863.7,795.9 896.8,793.7 885.8,804.7 863.7,810.2 797.8,811.4 742.9,810.2" fill="#181818"/>
<polygon points="793.5,804.7 841.9,801.4 877.1,801.4 863.7,806.9 808.8,808.7" fill="#282828"/>
<polygon points="738.6,692.8 749.6,693.7 748.6,701.3 740.9,700.4" fill="#383838"/>
<g filter="url(#b8_1)">
<polygon points="236.9,297.3 276.4,295.2 315.9,304.0 342.3,315.0 403.8,306.2 425.9,312.9 416.9,326.0 360.0,323.9 315.9,326.0 283.0,343.4 263.3,356.8 236.9,359.0" fill="#686868"/>
<polygon points="337.9,402.9 360.0,400.8 362.0,411.7 344.6,413.9" fill="#606060"/>
<ellipse cx="287.4" cy="317.2" rx="19.8" ry="13.2" fill="#878787"/>
<ellipse cx="381.8" cy="315.0" rx="26.4" ry="6.6" fill="#707070"/>
</g>
<ellipse cx="524.6" cy="344.6" rx="9.9" ry="5.5" fill="#060606"/>
<ellipse cx="547.7" cy="337.9" rx="7.7" ry="9.9" fill="#060606"/>
<ellipse cx="519.3" cy="456.6" rx="4.0" ry="5.3" fill="#060606"/>
<ellipse cx="519.3" cy="486.5" rx="5.3" ry="5.3" fill="#060606"/>
<ellipse cx="561.1" cy="488.6" rx="3.1" ry="6.6" fill="#060606"/>
<ellipse cx="327.9" cy="435.9" rx="3.3" ry="2.2" fill="#060606"/>
</g>
<rect x="258.4" y="265.6" width="923.4" height="2.6" fill="#fff"/>
<rect x="258.4" y="811.6" width="923.4" height="3.2" fill="#fff"/>
<path d="M412.3,265.6V814.8 M566.2,265.6V814.8 M720.1,265.6V814.8 M874.0,265.6V814.8 M1027.9,265.6V814.8 M258.4,357.1H1181.8 M258.4,448.7H1181.8 M258.4,540.2H1181.8 M258.4,631.7H1181.8 M258.4,723.3H1181.8" stroke="#a8a8a8" stroke-width="1.15" stroke-dasharray="2.6 8.25" fill="none"/>
<use href="#coast" transform="translate(258.40 540.20) scale(2.56500 3.05111)"/>
</g>
<rect x="258.4" y="265.6" width="923.4" height="549.2" fill="none" stroke="#000" stroke-width="1.6"/>
<path d="M258.4,814.8v9 M412.3,814.8v9 M566.2,814.8v9 M720.1,814.8v9 M874.0,814.8v9 M1027.9,814.8v9 M1181.8,814.8v9 M258.4,357.1h-9 M258.4,448.7h-9 M258.4,540.2h-9 M258.4,631.7h-9 M258.4,723.3h-9" stroke="#000" stroke-width="1.1" fill="none"/>
<text class="ax" x="258.4" y="850.2" font-size="28.2" text-anchor="middle" fill="#222" textLength="16" lengthAdjust="spacingAndGlyphs">0</text>
<text class="ax" x="412.3" y="850.2" font-size="28.2" text-anchor="middle" fill="#222" textLength="49" lengthAdjust="spacingAndGlyphs">60E</text>
<text class="ax" x="566.2" y="850.2" font-size="28.2" text-anchor="middle" fill="#222" textLength="64" lengthAdjust="spacingAndGlyphs">120E</text>
<text class="ax" x="720.1" y="850.2" font-size="28.2" text-anchor="middle" fill="#222" textLength="48.5" lengthAdjust="spacingAndGlyphs">180</text>
<text class="ax" x="874.0" y="850.2" font-size="28.2" text-anchor="middle" fill="#222" textLength="67" lengthAdjust="spacingAndGlyphs">120W</text>
<text class="ax" x="1027.9" y="850.2" font-size="28.2" text-anchor="middle" fill="#222" textLength="52" lengthAdjust="spacingAndGlyphs">60W</text>
<text class="ax" x="1181.8" y="850.2" font-size="28.2" text-anchor="middle" fill="#222" textLength="16" lengthAdjust="spacingAndGlyphs">0</text>
<text class="ax" x="242.2" y="367.2" font-size="28.2" text-anchor="end" fill="#222" textLength="50" lengthAdjust="spacingAndGlyphs">60N</text>
<text class="ax" x="242.2" y="458.8" font-size="28.2" text-anchor="end" fill="#222" textLength="51.5" lengthAdjust="spacingAndGlyphs">30N</text>
<text class="ax" x="242.2" y="550.3" font-size="28.2" text-anchor="end" fill="#222" textLength="34.5" lengthAdjust="spacingAndGlyphs">EQ</text>
<text class="ax" x="242.2" y="641.8" font-size="28.2" text-anchor="end" fill="#222" textLength="50" lengthAdjust="spacingAndGlyphs">30S</text>
<text class="ax" x="242.2" y="733.4" font-size="28.2" text-anchor="end" fill="#222" textLength="50" lengthAdjust="spacingAndGlyphs">60S</text>
<g clip-path="url(#clip2)">
<g filter="url(#cm2)">
<rect x="1252.4" y="185.6" width="1083.4" height="709.2" fill="#383838"/>
<g filter="url(#b10_2)">
<polygon points="1697.7,405.0 1719.7,391.9 1763.6,383.1 1818.5,378.8 1818.5,449.0 1763.6,446.8 1719.7,440.1 1688.9,433.7" fill="#707070"/>
<polygon points="1521.7,508.5 1543.8,503.9 1587.6,506.0 1609.7,501.8 1642.8,490.8 1675.6,501.8 1719.7,523.7 1763.6,536.8 1763.6,554.5 1513.0,554.5" fill="#787878"/>
<polygon points="1770.8,359.0 1828.0,354.4 1871.8,356.8 1907.0,363.2 1937.7,383.1 1951.1,402.9 1937.7,418.2 1907.0,431.6 1871.8,440.1 1828.0,442.6 1770.8,444.7" fill="#646464"/>
<polygon points="2003.7,440.1 2047.8,413.9 2091.6,391.9 2135.8,369.9 2179.6,354.4 2223.5,348.0 2255.8,352.3 2255.8,383.1 2223.5,391.9 2190.6,402.9 2168.6,431.6 2135.8,446.8 2091.6,442.6 2047.8,446.8" fill="#646464"/>
<polygon points="1770.8,492.9 1828.0,490.8 1915.9,497.5 2003.7,506.0 2047.8,514.9 2047.8,530.4 1959.8,529.2 1871.8,528.0 1770.8,530.4" fill="#787878"/>
<polygon points="2052.1,523.7 2113.7,519.5 2157.6,525.9 2166.5,554.5 2052.1,554.5" fill="#8f8f8f"/>
<polygon points="1828.0,457.8 1893.9,453.5 1898.2,492.9 1850.0,501.8 1828.0,490.8" fill="#606060"/>
<polygon points="2113.7,521.6 2179.6,519.5 2234.5,523.7 2255.8,530.4 2255.8,543.6 2179.6,536.8 2113.7,534.7" fill="#707070"/>
<polygon points="1357.0,534.4 1429.6,534.4 1434.0,563.1 1427.3,596.0 1418.6,624.4 1396.5,635.4 1378.8,613.4 1372.4,574.1" fill="#787878"/>
<polygon points="1438.3,547.5 1477.8,543.3 1543.8,543.3 1587.6,547.5 1609.7,563.1 1576.8,571.6 1521.7,567.4 1477.8,569.5 1447.1,565.2" fill="#878787"/>
<polygon points="1576.8,543.3 1631.7,530.1 1763.6,530.1 1818.5,574.1 1818.5,629.0 1774.6,613.4 1741.5,596.0 1697.7,591.5 1653.8,585.1 1609.7,574.1" fill="#cfcfcf"/>
<polygon points="1631.7,593.6 1719.7,596.0 1719.7,626.9 1642.8,629.0" fill="#585858"/>
<polygon points="1368.1,683.9 1543.8,692.8 1804.1,679.3 1804.1,723.3 1653.8,719.0 1521.7,721.1 1368.1,712.3" fill="#535353"/>
<polygon points="1770.8,563.1 1805.9,565.2 1850.0,578.3 1893.9,596.0 1924.7,618.0 1937.7,640.0 1915.9,653.1 1871.8,648.8 1828.0,635.4 1784.1,626.9 1770.8,624.4" fill="#808080"/>
<polygon points="2052.1,532.3 2126.8,532.3 2164.2,554.2 2161.9,585.1 2148.8,607.0 2131.1,622.3 2109.3,613.4 2096.0,609.2 2085.0,613.4 2078.6,596.0 2065.2,574.1 2052.1,552.1" fill="#878787"/>
<polygon points="2140.1,618.0 2157.6,611.3 2190.6,648.8 2179.6,661.9 2146.5,644.2" fill="#686868"/>
<polygon points="1915.9,683.9 2047.8,697.0 2058.8,716.9 1915.9,714.7" fill="#535353"/>
<polygon points="1805.9,701.3 1893.9,705.9 1871.8,723.3 1805.9,719.0" fill="#535353"/>
<polygon points="2146.5,692.8 2255.8,697.0 2255.8,716.9 2146.5,714.7" fill="#535353"/>
</g>
<g filter="url(#b6_2)">
<ellipse cx="1741.5" cy="422.7" rx="30.8" ry="13.2" fill="#8f8f8f"/>
<ellipse cx="1785.6" cy="413.9" rx="22.0" ry="15.4" fill="#8f8f8f"/>
<ellipse cx="1530.7" cy="521.6" rx="9.9" ry="7.7" fill="#bfbfbf"/>
<ellipse cx="1565.8" cy="519.5" rx="22.0" ry="9.9" fill="#979797"/>
<ellipse cx="1620.7" cy="510.6" rx="15.4" ry="11.0" fill="#ffffff"/>
<ellipse cx="1658.2" cy="503.9" rx="15.4" ry="12.1" fill="#ffffff" transform="rotate(30 1658.2 503.9)"/>
<ellipse cx="1693.3" cy="521.6" rx="24.2" ry="13.2" fill="#ffffff" transform="rotate(30 1693.3 521.6)"/>
<ellipse cx="1730.5" cy="539.0" rx="26.4" ry="11.0" fill="#ffffff" transform="rotate(20 1730.5 539.0)"/>
<ellipse cx="1631.7" cy="536.8" rx="17.6" ry="13.2" fill="#cfcfcf"/>
<ellipse cx="1598.6" cy="541.4" rx="17.6" ry="11.0" fill="#bfbfbf"/>
<ellipse cx="1816.9" cy="411.7" rx="19.8" ry="13.2" fill="#878787"/>
<ellipse cx="1924.7" cy="376.4" rx="5.5" ry="16.5" fill="#dfdfdf" transform="rotate(-35 1924.7 376.4)"/>
<ellipse cx="1957.7" cy="396.2" rx="7.7" ry="8.8" fill="#878787"/>
<ellipse cx="2146.5" cy="341.3" rx="7.7" ry="6.6" fill="#afafaf"/>
<ellipse cx="1882.8" cy="514.9" rx="30.8" ry="5.3" fill="#ffffff"/>
<ellipse cx="1927.0" cy="516.1" rx="28.6" ry="5.9" fill="#ffffff"/>
<ellipse cx="1970.8" cy="519.5" rx="24.2" ry="5.9" fill="#bfbfbf"/>
<ellipse cx="2032.4" cy="499.6" rx="6.6" ry="5.5" fill="#afafaf"/>
<ellipse cx="2146.5" cy="527.1" rx="28.6" ry="4.8" fill="#cfcfcf"/>
<ellipse cx="2080.6" cy="543.6" rx="17.6" ry="11.0" fill="#cfcfcf"/>
<ellipse cx="2118.1" cy="541.4" rx="17.6" ry="11.0" fill="#cfcfcf"/>
<ellipse cx="1411.9" cy="622.3" rx="7.7" ry="11.0" fill="#cfcfcf"/>
<ellipse cx="1389.9" cy="563.1" rx="17.6" ry="22.0" fill="#9f9f9f"/>
<ellipse cx="1653.8" cy="569.5" rx="35.2" ry="13.2" fill="#ffffff" transform="rotate(10 1653.8 569.5)"/>
<ellipse cx="1710.7" cy="558.5" rx="28.6" ry="16.5" fill="#ffffff"/>
<ellipse cx="1767.9" cy="587.2" rx="35.2" ry="15.4" fill="#ffffff" transform="rotate(30 1767.9 587.2)"/>
<ellipse cx="1598.6" cy="558.5" rx="17.6" ry="8.8" fill="#bfbfbf"/>
<ellipse cx="1792.8" cy="602.4" rx="20.9" ry="15.4" fill="#ffffff"/>
<ellipse cx="1850.0" cy="633.3" rx="20.9" ry="9.9" fill="#afafaf"/>
<ellipse cx="1779.5" cy="580.5" rx="13.2" ry="11.0" fill="#efefef"/>
<ellipse cx="1893.9" cy="622.3" rx="17.6" ry="11.0" fill="#9f9f9f"/>
<ellipse cx="2069.8" cy="552.1" rx="11.0" ry="13.2" fill="#bfbfbf"/>
<ellipse cx="2126.8" cy="591.5" rx="16.5" ry="14.3" fill="#cfcfcf"/>
<ellipse cx="2102.7" cy="543.3" rx="15.4" ry="8.8" fill="#bfbfbf"/>
<ellipse cx="2166.5" cy="644.2" rx="24.2" ry="8.8" fill="#afafaf" transform="rotate(35 2166.5 644.2)"/>
<ellipse cx="2064.2" cy="697.0" rx="4.0" ry="13.2" fill="#9f9f9f"/>
</g>
<polygon points="1310.9,293.1 1337.3,291.8 1368.1,286.3 1411.9,285.1 1455.8,287.6 1477.8,293.1 1473.5,300.7 1499.9,299.5 1521.7,301.9 1535.0,307.4 1543.8,312.9 1535.0,323.9 1530.7,334.9 1521.7,337.0 1510.9,345.8 1495.5,348.0 1488.9,356.8 1486.6,369.9 1495.5,376.4 1506.3,383.1 1504.3,391.9 1490.9,396.2 1477.8,400.8 1464.8,409.3 1451.4,416.0 1455.8,427.0 1447.1,435.9 1438.3,433.7 1427.3,438.0 1416.3,446.8 1396.5,444.7 1378.8,446.8 1361.4,438.0 1354.7,430.4 1346.0,429.1 1363.4,427.0 1376.8,422.7 1378.8,413.9 1368.1,409.3 1357.0,400.8 1337.3,402.9 1310.9,405.0" fill="#282828"/>
<polygon points="1640.5,433.7 1651.5,433.7 1658.2,427.0 1666.9,433.7 1684.3,442.6 1708.7,449.0 1741.5,453.5 1785.6,453.5 1818.5,455.7 1818.5,464.5 1785.6,463.3 1752.5,465.4 1730.5,472.2 1719.7,481.9 1710.7,479.8 1697.7,470.9 1684.3,466.7 1666.9,464.5 1653.8,470.9 1644.8,479.8 1640.5,470.9 1636.1,457.8 1644.8,449.0 1644.8,440.1" fill="#282828"/>
<polygon points="1702.0,479.8 1719.7,490.8 1730.5,498.4 1752.5,505.1 1785.6,509.4 1818.5,509.4 1818.5,517.0 1785.6,517.0 1752.5,512.7 1730.5,508.5 1715.1,499.6 1704.3,488.6" fill="#282828"/>
<polygon points="1708.7,348.0 1719.7,337.0 1741.5,334.9 1763.6,337.0 1785.6,334.9 1807.4,333.6 1807.4,348.0 1785.6,348.0 1763.6,354.4 1741.5,363.2 1730.5,383.1 1719.7,378.8 1710.7,365.4 1697.7,363.2" fill="#282828"/>
<polygon points="1770.8,328.1 1805.9,326.0 1828.0,323.9 1836.7,321.4 1850.0,323.9 1867.5,326.0 1878.5,330.3 1893.9,332.4 1907.0,337.0 1924.7,341.3 1937.7,348.0 1946.7,356.8 1955.4,363.2 1966.5,363.2 1973.1,369.9 1964.2,376.4 1955.4,374.2 1946.7,367.8 1937.7,361.1 1924.7,356.8 1911.6,348.0 1898.2,343.4 1880.8,337.0 1867.5,334.9 1850.0,332.4 1841.0,335.8 1828.0,334.9 1816.9,341.3 1805.9,350.1 1792.8,350.1 1770.8,348.0" fill="#282828"/>
<polygon points="1937.7,420.3 1946.7,413.9 1959.8,411.7 1973.1,413.9 1981.9,422.7 1988.3,413.9 1981.9,405.0 1973.1,400.8 1977.5,396.2 1986.2,402.9 1990.6,413.9 1988.3,424.9 1981.9,429.1 1970.8,422.7 1959.8,420.3 1951.1,424.9 1951.1,435.9 1937.7,438.0 1924.7,444.7 1911.6,455.7 1913.6,462.1 1915.9,470.9 1902.6,475.5 1889.5,473.1 1887.2,464.5 1898.2,453.5 1907.0,442.6 1907.0,431.6 1915.9,422.7 1927.0,413.9" fill="#282828"/>
<polygon points="2017.0,385.2 2025.7,378.8 2043.4,374.2 2047.8,363.2 2054.4,365.4 2058.8,354.4 2067.5,352.3 2076.2,356.8 2091.6,352.3 2098.3,343.4 2091.6,334.9 2100.4,330.3 2105.0,339.1 2118.1,334.9 2111.4,326.0 2107.0,310.5 2118.1,315.0 2122.4,326.0 2120.4,337.0 2113.7,348.0 2109.3,356.8 2113.7,367.8 2109.3,376.4 2091.6,378.8 2076.2,383.1 2065.2,389.8 2047.8,391.9 2034.4,396.2 2025.7,391.9" fill="#282828"/>
<polygon points="2003.7,453.5 2012.6,449.0 2021.4,457.8 2017.0,466.7 2010.3,475.5 2003.7,479.8 1999.3,470.9 2001.6,462.1" fill="#282828"/>
<polygon points="2039.1,470.9 2058.8,466.7 2076.2,464.5 2091.6,453.5 2107.0,446.8 2122.4,444.7 2133.4,457.8 2135.8,479.8 2140.1,488.6 2126.8,497.5 2113.7,501.8 2100.4,506.0 2087.3,501.8 2069.8,495.0 2056.5,490.8 2047.8,484.1 2043.4,477.7" fill="#282828"/>
<polygon points="2179.6,427.0 2195.0,411.7 2212.5,402.9 2234.5,398.3 2245.5,396.2 2255.8,391.9 2278.6,391.9 2278.6,400.8 2255.8,400.8 2245.5,402.9 2234.5,409.3 2223.5,411.7 2208.1,413.9 2195.0,427.0 2190.6,440.1 2186.3,453.5 2175.3,468.8 2157.6,484.1 2144.5,492.9 2140.1,488.6 2148.8,475.5 2166.5,457.8 2177.3,442.6" fill="#282828"/>
<polygon points="2078.6,286.3 2113.7,284.2 2144.5,282.1 2179.6,280.9 2223.5,282.1 2225.8,288.5 2214.8,297.3 2201.7,295.2 2168.6,291.8 2135.8,293.1 2113.7,297.3 2100.4,304.0 2091.6,304.0 2069.8,299.5 2080.6,293.1" fill="#282828"/>
<polygon points="2190.6,315.0 2212.5,315.0 2234.5,315.0 2243.2,308.3 2255.8,304.0 2278.6,301.9 2278.6,310.5 2255.8,312.9 2236.8,321.4 2214.8,323.9 2197.1,326.0 2184.0,326.0 2168.6,326.0 2155.5,321.4 2168.6,319.3" fill="#282828"/>
<polygon points="1770.8,451.1 1801.5,450.2 1823.6,452.3 1834.6,462.1 1830.3,477.7 1823.6,488.6 1814.9,499.6 1801.5,508.5 1792.8,512.7 1770.8,512.7" fill="#282828"/>
<polygon points="1466.8,602.4 1477.8,593.6 1495.5,592.7 1510.9,589.3 1532.7,591.5 1554.8,589.3 1565.8,585.1 1587.6,583.8 1607.6,583.8 1620.7,589.3 1631.7,600.3 1629.4,618.0 1631.7,640.0 1640.5,644.2 1658.2,637.8 1675.6,637.8 1684.3,646.4 1697.7,657.4 1710.7,655.2 1719.7,644.2 1728.4,648.8 1726.1,657.4 1715.1,661.9 1706.4,672.9 1697.7,677.2 1675.6,675.1 1653.8,672.9 1631.7,675.1 1609.7,676.3 1587.6,677.2 1565.8,672.9 1543.8,670.8 1521.7,666.2 1499.9,661.9 1490.9,659.8 1504.3,657.4 1521.7,659.8 1535.0,661.9 1521.7,653.1 1517.3,648.8 1524.0,640.0 1521.7,631.1 1513.0,624.4 1499.9,618.0 1486.6,611.3 1473.5,611.3 1466.8,607.0" fill="#282828"/>
<polygon points="1666.9,631.1 1680.0,626.9 1688.9,618.0 1702.0,616.8 1706.4,626.9 1710.7,633.3 1706.4,644.2 1697.7,648.8 1684.3,644.2 1675.6,637.8" fill="#282828"/>
<polygon points="1732.8,613.4 1741.5,610.1 1754.9,615.6 1763.6,620.1 1761.3,633.3 1763.6,637.8 1754.9,642.1 1748.2,633.3 1737.2,626.9 1732.8,620.1" fill="#282828"/>
<polygon points="1425.0,598.2 1434.0,593.6 1442.7,600.3 1449.4,613.4 1455.8,622.3 1449.4,629.0 1442.7,633.3 1436.0,626.9 1429.6,618.0 1425.0,607.0" fill="#282828"/>
<polygon points="1310.9,657.4 1332.9,660.7 1350.4,661.9 1368.1,657.4 1389.9,655.2 1405.2,648.8 1407.6,640.0 1414.2,637.8 1411.9,648.8 1405.2,661.9 1403.2,675.1 1389.9,677.2 1368.1,676.3 1346.0,677.2 1332.9,672.9 1310.9,670.8" fill="#282828"/>
<polygon points="1310.9,724.5 1346.0,724.5 1378.8,725.7 1411.9,727.8 1434.0,732.1 1447.1,738.8 1438.3,747.7 1427.3,749.8 1418.6,751.9 1398.8,758.7 1411.9,767.5 1378.8,768.4 1346.0,767.5 1310.9,766.3" fill="#282828"/>
<polygon points="1438.3,749.8 1455.8,747.7 1477.8,746.5 1495.5,741.0 1504.3,734.3 1521.7,731.2 1543.8,730.0 1565.8,728.8 1587.6,725.7 1609.7,723.3 1631.7,723.3 1649.2,727.8 1666.9,733.3 1653.8,738.8 1631.7,741.0 1609.7,743.1 1631.7,747.7 1653.8,746.5 1675.6,745.2 1697.7,746.5 1719.7,749.8 1741.5,751.9 1763.6,754.1 1785.6,751.9 1818.5,749.8 1818.5,769.6 1774.6,769.6 1752.5,765.1 1730.5,760.8 1697.7,758.7 1664.6,756.5 1631.7,754.1 1598.6,751.9 1572.2,751.9 1565.8,746.5 1543.8,747.7 1521.7,749.8 1510.9,756.5 1486.6,758.7 1464.8,757.4 1438.3,760.8" fill="#282828"/>
<polygon points="1929.0,593.6 1942.4,591.5 1959.8,596.0 1977.5,602.4 1994.9,613.4 2008.3,622.3 2017.0,626.9 2012.6,633.3 2003.7,640.0 2006.0,648.8 2017.0,657.4 2036.7,666.2 2054.4,675.1 2065.2,675.1 2060.9,683.9 2047.8,681.8 2025.7,672.9 2003.7,664.1 1986.2,655.2 1973.1,648.8 1966.5,644.2 1973.1,635.4 1968.5,626.9 1959.8,618.0 1951.1,609.2 1937.7,604.6 1931.3,600.3" fill="#282828"/>
<polygon points="1821.3,661.9 1839.0,659.8 1856.4,664.1 1876.2,670.8 1889.5,677.2 1900.5,692.8 1893.9,697.0 1876.2,699.2 1858.7,694.9 1843.3,688.2 1828.0,681.8 1823.6,670.8" fill="#282828"/>
<polygon points="2078.6,635.4 2087.3,626.9 2096.0,615.6 2102.7,611.3 2109.3,618.0 2113.7,629.0 2122.4,635.4 2131.1,629.0 2133.4,640.0 2129.1,653.1 2126.8,670.8 2133.4,679.3 2122.4,688.2 2109.3,692.8 2100.4,697.0 2087.3,697.0 2076.2,701.3 2074.2,692.8 2082.9,690.3 2100.4,686.0 2100.4,679.3 2091.6,675.1 2085.0,666.2 2080.6,657.4 2076.2,653.1" fill="#282828"/>
<polygon points="2155.5,598.2 2166.5,593.6 2175.3,582.6 2179.6,569.5 2175.3,556.4 2190.6,552.1 2201.7,555.2 2190.6,560.6 2188.3,569.5 2192.7,580.5 2201.7,596.0 2214.8,607.0 2223.5,622.3 2241.2,637.8 2255.8,643.3 2278.6,644.2 2278.6,672.9 2255.8,672.9 2234.5,666.2 2214.8,657.4 2197.1,646.4 2179.6,633.3 2166.5,618.0 2157.6,604.6" fill="#282828"/>
<ellipse cx="2215.8" cy="682.7" rx="9.9" ry="3.3" fill="#282828"/>
<polygon points="2175.3,554.2 2190.6,548.7 2223.5,546.6 2255.8,545.4 2278.6,545.4 2278.6,552.1 2223.5,552.1 2201.7,555.2" fill="#282828"/>
<polygon points="1770.8,747.7 1805.9,749.8 1828.0,747.7 1850.0,743.1 1871.8,738.8 1893.9,734.3 1915.9,728.8 1937.7,725.7 1959.8,726.6 1981.9,730.0 2003.7,734.3 2025.7,737.6 2047.8,739.7 2069.8,741.0 2078.6,747.7 2087.3,751.9 2096.0,749.8 2102.7,741.0 2113.7,735.5 2135.8,732.1 2157.6,731.2 2179.6,733.3 2201.7,734.3 2223.5,736.7 2255.8,737.6 2278.6,737.6 2278.6,756.5 2223.5,756.5 2179.6,757.4 2135.8,755.3 2109.3,757.4 2100.4,764.2 2091.6,773.9 2076.2,768.4 2069.8,756.5 2047.8,754.1 2003.7,753.2 1959.8,751.9 1924.7,749.8 1893.9,754.1 1850.0,758.7 1805.9,760.8 1770.8,762.0" fill="#282828"/>
<polygon points="1310.9,246.7 1818.5,246.7 1818.5,332.4 1804.1,332.4 1785.6,334.9 1763.6,337.0 1741.5,334.9 1719.7,337.0 1708.7,348.0 1697.7,352.3 1693.3,363.2 1684.3,369.9 1684.3,383.1 1680.0,396.2 1675.6,405.0 1666.9,413.9 1658.2,427.0 1651.5,433.7 1640.5,427.0 1631.7,431.6 1609.7,435.9 1598.6,442.6 1587.6,449.0 1576.8,446.8 1565.8,453.5 1578.9,457.8 1587.6,466.7 1601.0,479.8 1605.3,488.6 1598.6,492.9 1587.6,495.0 1576.8,490.8 1565.8,479.8 1552.5,475.5 1543.8,481.9 1535.0,479.8 1521.7,479.8 1513.0,484.1 1499.9,488.6 1486.6,499.6 1490.9,512.7 1495.5,530.4 1490.9,539.0 1477.8,543.6 1464.8,545.7 1455.8,554.5 1442.7,555.5 1436.0,551.2 1425.0,543.6 1411.9,537.5 1381.1,535.0 1359.1,530.7 1346.0,524.0 1332.9,518.8 1310.9,517.6 1310.9,427.0 1332.9,427.0 1357.0,427.0 1368.1,435.9 1381.1,442.6 1396.5,442.6 1416.3,444.7 1427.3,435.9 1438.3,431.6 1449.4,433.7 1455.8,427.0 1451.4,416.0 1464.8,409.3 1477.8,400.8 1490.9,396.2 1504.3,391.9 1506.3,383.1 1495.5,376.4 1486.6,369.9 1488.9,356.8 1495.5,348.0 1510.9,345.8 1521.7,337.0 1530.7,326.0 1535.0,307.4 1521.7,301.9 1499.9,299.5 1473.5,300.7 1477.8,293.1 1455.8,287.6 1411.9,285.1 1368.1,286.3 1337.3,291.8 1310.9,293.1" fill="#282828" stroke="#282828" stroke-width="16.0" stroke-linejoin="round"/>
<polygon points="1719.7,481.9 1730.5,470.9 1752.5,464.5 1785.6,462.1 1818.5,462.1 1818.5,508.5 1785.6,508.5 1752.5,503.9 1730.5,497.5 1719.7,490.8" fill="#282828" stroke="#282828" stroke-width="16.0" stroke-linejoin="round"/>
<polygon points="1763.6,539.0 1776.7,534.7 1818.5,532.6 1818.5,554.5 1770.2,554.5" fill="#282828" stroke="#282828" stroke-width="16.0" stroke-linejoin="round"/>
<polygon points="1310.9,405.0 1337.3,402.9 1357.0,400.8 1368.1,409.3 1378.8,413.9 1376.8,422.7 1363.4,427.0 1346.0,429.1 1310.9,429.1" fill="#282828" stroke="#282828" stroke-width="16.0" stroke-linejoin="round"/>
<polygon points="1770.8,246.7 2278.6,246.7 2278.6,288.5 2256.6,286.3 2223.5,282.1 2179.6,280.9 2144.5,282.1 2113.7,284.2 2091.6,286.3 2080.6,293.1 2069.8,299.5 2091.6,304.0 2107.0,310.5 2111.4,326.0 2118.1,334.9 2105.0,339.1 2100.4,330.3 2091.6,334.9 2098.3,343.4 2091.6,352.3 2076.2,356.8 2067.5,352.3 2058.8,354.4 2054.4,365.4 2047.8,363.2 2043.4,374.2 2025.7,378.8 2017.0,385.2 2021.4,394.1 2032.4,402.9 2030.1,413.9 2017.0,420.3 2006.0,429.1 1997.2,438.0 1990.6,444.7 1988.3,453.5 1994.9,464.5 1999.3,475.5 2003.7,484.1 2012.6,490.8 2003.7,495.0 1994.9,492.9 1981.9,490.8 1970.8,490.8 1955.4,488.6 1942.4,486.5 1929.0,481.9 1915.9,475.5 1907.0,466.7 1907.0,453.5 1915.9,440.1 1924.7,427.0 1937.7,420.3 1946.7,413.9 1959.8,411.7 1973.1,413.9 1981.9,422.7 1988.3,413.9 1981.9,405.0 1973.1,400.8 1966.5,391.9 1959.8,383.1 1964.2,376.4 1973.1,369.9 1966.5,363.2 1955.4,363.2 1946.7,356.8 1937.7,348.0 1924.7,341.3 1907.0,337.0 1893.9,332.4 1878.5,330.3 1867.5,326.0 1850.0,323.9 1836.7,321.4 1828.0,323.9 1805.9,326.0 1770.8,328.1" fill="#282828" stroke="#282828" stroke-width="16.0" stroke-linejoin="round"/>
<polygon points="1770.8,457.8 1797.2,455.7 1819.2,457.8 1825.6,466.7 1823.6,479.8 1814.9,488.6 1805.9,501.8 1792.8,508.5 1770.8,508.5" fill="#282828" stroke="#282828" stroke-width="16.0" stroke-linejoin="round"/>
<polygon points="2234.5,409.3 2245.5,402.9 2255.8,400.8 2278.6,400.8 2278.6,413.9 2255.8,413.9 2245.5,422.7" fill="#282828" stroke="#282828" stroke-width="16.0" stroke-linejoin="round"/>
<polygon points="2195.0,427.0 2208.1,413.9 2223.5,411.7 2232.5,418.2 2234.5,433.7 2223.5,444.7 2212.5,446.8 2206.0,435.9 2199.4,440.1" fill="#282828" stroke="#282828" stroke-width="16.0" stroke-linejoin="round"/>
<ellipse cx="2006.0" cy="497.5" rx="14.6" ry="13.5" fill="#282828"/>
<ellipse cx="2023.7" cy="510.6" rx="16.8" ry="12.4" fill="#282828"/>
<ellipse cx="2076.2" cy="512.7" rx="19.0" ry="12.4" fill="#282828"/>
<polygon points="1486.6,604.6 1499.9,602.4 1513.0,607.0 1521.7,602.4 1535.0,598.2 1552.5,596.0 1565.8,591.5 1583.3,588.1 1603.0,588.1 1616.3,592.7 1625.1,600.3 1628.4,618.0 1629.4,640.0 1636.1,648.8 1653.8,651.0 1675.6,653.1 1691.0,659.8 1684.3,664.1 1662.5,664.1 1631.7,662.9 1609.7,661.9 1587.6,661.9 1570.2,657.4 1557.1,651.0 1543.8,644.2 1535.0,635.4 1528.4,624.4 1517.3,618.0 1504.3,611.3" fill="#282828" stroke="#282828" stroke-width="16.0" stroke-linejoin="round"/>
<polygon points="1431.7,607.0 1440.4,604.6 1445.0,613.4 1449.4,622.3 1442.7,624.4 1434.0,618.0" fill="#282828" stroke="#282828" stroke-width="16.0" stroke-linejoin="round"/>
<polygon points="1310.9,646.4 1346.0,646.4 1378.8,647.6 1389.9,644.2 1407.6,640.0 1405.2,648.8 1389.9,655.2 1368.1,657.4 1350.4,661.9 1332.9,660.7 1310.9,657.4" fill="#282828" stroke="#282828" stroke-width="16.0" stroke-linejoin="round"/>
<polygon points="1310.9,744.3 1337.3,743.1 1350.4,746.5 1346.0,751.9 1310.9,754.1" fill="#282828" stroke="#282828" stroke-width="16.0" stroke-linejoin="round"/>
<polygon points="1398.8,758.7 1438.3,754.1 1464.8,751.9 1486.6,749.8 1510.9,747.7 1513.0,756.5 1486.6,758.7 1464.8,758.7 1438.3,762.0 1411.9,767.5" fill="#282828" stroke="#282828" stroke-width="16.0" stroke-linejoin="round"/>
<polygon points="2074.2,659.8 2080.6,657.4 2085.0,666.2 2091.6,675.1 2100.4,679.3 2100.4,686.0 2091.6,687.3 2082.9,690.3 2076.2,692.8 2074.2,679.3" fill="#282828" stroke="#282828" stroke-width="16.0" stroke-linejoin="round"/>
<ellipse cx="2099.3" cy="640.0" rx="13.5" ry="12.4" fill="#282828"/>
<polygon points="1770.8,762.0 1805.9,760.8 1850.0,758.7 1893.9,754.1 1924.7,749.8 1959.8,751.9 2003.7,753.2 2047.8,754.1 2069.8,756.5 2076.2,768.4 2060.9,767.5 2025.7,771.8 2003.7,766.3 1981.9,762.9 1959.8,769.6 1915.9,773.9 1871.8,773.9 1805.9,773.9 1770.8,769.6" fill="#282828" stroke="#282828" stroke-width="16.0" stroke-linejoin="round"/>
<polygon points="2025.7,771.8 2065.2,773.9 2063.2,784.9 2047.8,791.6 2030.1,789.5 2023.7,782.8" fill="#282828" stroke="#282828" stroke-width="16.0" stroke-linejoin="round"/>
<polygon points="2109.3,756.5 2135.8,754.1 2179.6,756.5 2223.5,755.3 2278.6,754.1 2278.6,762.9 2223.5,762.9 2179.6,765.1 2135.8,766.3 2113.7,767.5 2091.6,773.9 2100.4,762.9" fill="#282828" stroke="#282828" stroke-width="16.0" stroke-linejoin="round"/>
<polygon points="1981.9,635.4 1994.9,626.9 2012.6,624.4 2017.0,633.3 2008.3,644.2 1994.9,642.1" fill="#282828" stroke="#282828" stroke-width="16.0" stroke-linejoin="round"/>
<polygon points="1627.4,301.9 1653.8,293.1 1697.7,286.3 1741.5,283.0 1785.6,282.1 1818.5,282.1 1818.5,326.0 1785.6,324.8 1763.6,321.4 1741.5,322.7 1719.7,321.4 1697.7,320.5 1675.6,319.3 1653.8,315.0 1631.7,312.9 1618.4,310.5" fill="#282828" stroke="#282828" stroke-width="30.0" stroke-linejoin="round"/>
<polygon points="1601.0,330.3 1614.0,326.0 1631.7,323.9 1640.5,332.4 1653.8,339.1 1666.9,337.0 1684.3,339.1 1697.7,345.8 1695.3,352.3 1675.6,354.4 1653.8,352.3 1631.7,348.0 1609.7,345.8 1601.0,339.1" fill="#282828" stroke="#282828" stroke-width="30.0" stroke-linejoin="round"/>
<polygon points="1587.6,383.1 1601.0,376.4 1620.7,369.9 1642.8,365.4 1664.6,367.8 1677.9,378.8 1677.9,391.9 1671.2,402.9 1662.5,413.9 1653.8,424.9 1644.8,422.7 1631.7,427.0 1609.7,422.7 1587.6,413.9 1565.8,409.3 1552.5,402.9 1548.1,396.2 1557.1,394.1 1565.8,400.8 1574.5,396.2 1563.5,389.8 1565.8,383.1 1574.5,383.1 1578.9,391.9 1585.6,396.2" fill="#282828" stroke="#282828" stroke-width="30.0" stroke-linejoin="round"/>
<polygon points="1519.6,374.2 1526.3,367.8 1539.4,367.8 1541.7,378.8 1535.0,389.8 1528.4,387.3 1521.7,378.8" fill="#282828" stroke="#282828" stroke-width="30.0" stroke-linejoin="round"/>
<polygon points="1458.1,418.2 1466.8,411.7 1482.2,407.2 1490.9,400.8 1504.3,400.8 1499.9,413.9 1506.3,422.7 1499.9,429.1 1486.6,429.1 1477.8,422.7 1469.1,427.0 1460.1,427.0" fill="#282828" stroke="#282828" stroke-width="30.0" stroke-linejoin="round"/>
<polygon points="1528.4,416.0 1543.8,418.2 1557.1,424.9 1543.8,429.1 1530.7,424.9" fill="#282828" stroke="#282828" stroke-width="30.0" stroke-linejoin="round"/>
<polygon points="1535.0,433.7 1552.5,435.9 1565.8,440.1 1578.9,435.9 1565.8,449.0 1548.1,444.7 1535.0,440.1" fill="#282828" stroke="#282828" stroke-width="30.0" stroke-linejoin="round"/>
<polygon points="1557.1,462.1 1570.2,457.8 1578.9,460.0 1570.2,470.9 1557.1,470.9" fill="#282828" stroke="#282828" stroke-width="30.0" stroke-linejoin="round"/>
<polygon points="1532.7,474.3 1546.1,468.8 1559.1,472.2 1567.9,481.9 1576.8,490.8 1574.5,497.5 1561.5,492.9 1548.1,492.9 1539.4,488.6 1535.0,481.9" fill="#282828" stroke="#282828" stroke-width="30.0" stroke-linejoin="round"/>
<polygon points="1310.9,429.1 1332.9,429.1 1354.7,430.4 1361.4,438.0 1378.8,446.8 1396.5,444.7 1416.3,446.8 1427.3,438.0 1438.3,433.7 1447.1,435.9 1455.8,433.7 1466.8,429.1 1477.8,435.9 1495.5,438.0 1510.9,431.6 1521.7,435.9 1524.0,446.8 1521.7,457.8 1515.3,464.5 1506.3,467.6 1513.0,479.8 1499.9,486.5 1486.6,497.5 1477.8,508.5 1477.8,523.7 1473.5,532.6 1464.8,543.6 1455.8,554.5 1442.7,554.5 1438.3,550.0 1427.3,541.4 1411.9,534.7 1381.1,532.6 1359.1,528.0 1346.0,521.6 1332.9,516.1 1310.9,514.9" fill="#282828" stroke="#282828" stroke-width="30.0" stroke-linejoin="round"/>
<polygon points="1310.9,411.7 1337.3,409.3 1348.3,413.9 1346.0,422.7 1332.9,424.9 1310.9,424.9" fill="#282828" stroke="#282828" stroke-width="30.0" stroke-linejoin="round"/>
<polygon points="1748.2,477.7 1763.6,470.9 1776.7,468.8 1785.6,470.9 1801.0,470.0 1796.4,477.7 1781.0,479.8 1763.6,481.9 1752.5,481.9" fill="#282828" stroke="#282828" stroke-width="30.0" stroke-linejoin="round"/>
<polygon points="1779.0,543.6 1790.0,539.0 1818.5,538.1 1818.5,554.5 1783.3,554.5" fill="#282828" stroke="#282828" stroke-width="30.0" stroke-linejoin="round"/>
<polygon points="1770.8,284.2 1834.6,282.1 1861.0,273.2 1876.2,268.7 2003.7,268.7 2069.8,274.1 2065.2,277.5 2025.7,279.6 2012.6,288.5 2003.7,295.2 1981.9,298.6 1959.8,299.5 1937.7,302.8 1915.9,304.0 1893.9,307.4 1871.8,311.7 1856.4,319.3 1836.7,319.9 1805.9,322.7 1770.8,324.8" fill="#282828" stroke="#282828" stroke-width="30.0" stroke-linejoin="round"/>
<polygon points="1900.5,320.5 1915.9,317.2 1929.0,319.3 1924.7,326.0 1907.0,326.0" fill="#282828" stroke="#282828" stroke-width="30.0" stroke-linejoin="round"/>
<polygon points="1942.4,301.9 1959.8,298.6 1981.9,297.3 2003.7,296.4 2025.7,293.1 2047.8,297.3 2056.5,304.0 2052.1,312.9 2039.1,310.5 2025.7,315.0 2003.7,312.9 1990.6,321.4 1977.5,326.0 1964.2,323.9 1973.1,317.2 1959.8,312.9 1946.7,310.5" fill="#282828" stroke="#282828" stroke-width="30.0" stroke-linejoin="round"/>
<polygon points="2054.4,295.2 2069.8,286.3 2091.6,288.5 2080.6,293.1 2069.8,299.5 2087.3,304.0 2100.4,310.5 2102.7,321.4 2091.6,326.0 2078.6,323.9 2067.5,315.0 2056.5,306.2" fill="#282828" stroke="#282828" stroke-width="30.0" stroke-linejoin="round"/>
<polygon points="2047.8,326.0 2060.9,323.9 2069.8,330.3 2065.2,337.0 2052.1,337.0" fill="#282828" stroke="#282828" stroke-width="30.0" stroke-linejoin="round"/>
<polygon points="2010.3,350.1 2021.4,343.4 2034.4,341.3 2039.1,348.0 2025.7,352.3 2021.4,359.0 2012.6,356.8" fill="#282828" stroke="#282828" stroke-width="30.0" stroke-linejoin="round"/>
<ellipse cx="2000.6" cy="387.3" rx="18.3" ry="17.9" fill="#282828"/>
<polygon points="2113.7,297.3 2135.8,293.1 2168.6,291.8 2201.7,295.2 2236.8,299.5 2243.2,308.3 2234.5,315.0 2212.5,315.0 2190.6,315.0 2168.6,319.3 2155.5,321.4 2146.5,312.9 2126.8,308.3" fill="#282828" stroke="#282828" stroke-width="30.0" stroke-linejoin="round"/>
<polygon points="1911.6,455.7 1924.7,444.7 1937.7,438.0 1951.1,435.9 1959.8,433.7 1973.1,442.6 1981.9,442.6 1986.2,453.5 1992.9,457.8 1994.9,468.8 1990.6,475.5 1994.9,488.6 1981.9,489.6 1970.8,488.6 1955.4,486.5 1942.4,484.1 1944.4,475.5 1929.0,473.1 1915.9,470.9 1913.6,462.1" fill="#282828" stroke="#282828" stroke-width="30.0" stroke-linejoin="round"/>
<polygon points="1770.8,468.8 1792.8,468.8 1801.5,474.3 1794.9,481.9 1770.8,484.1" fill="#282828" stroke="#282828" stroke-width="30.0" stroke-linejoin="round"/>
<polygon points="2140.1,503.9 2157.6,492.9 2179.6,479.8 2190.6,457.8 2201.7,440.1 2206.0,435.9 2212.5,446.8 2223.5,444.7 2234.5,433.7 2245.5,422.7 2255.8,413.9 2278.6,411.7 2278.6,525.9 2255.8,523.7 2236.8,521.6 2223.5,514.9 2201.7,512.7 2179.6,512.7 2157.6,512.7 2144.5,510.6" fill="#282828" stroke="#282828" stroke-width="30.0" stroke-linejoin="round"/>
<polygon points="1770.8,539.0 1805.9,536.8 1850.0,534.7 1893.9,533.5 1937.7,532.6 1981.9,533.5 2025.7,534.7 2047.8,536.8 2049.8,554.5 1770.8,554.5" fill="#282828" stroke="#282828" stroke-width="30.0" stroke-linejoin="round"/>
<polygon points="2056.5,499.6 2067.5,497.5 2071.9,503.9 2067.5,510.6 2058.8,508.5" fill="#282828" stroke="#282828" stroke-width="30.0" stroke-linejoin="round"/>
<polygon points="1407.6,516.7 1411.9,534.4 1420.6,541.1 1434.0,545.4 1442.7,538.7 1455.8,534.4 1473.5,532.3 1477.8,516.7" fill="#282828" stroke="#282828" stroke-width="30.0" stroke-linejoin="round"/>
<polygon points="1310.9,552.1 1337.3,553.0 1354.7,558.5 1368.1,567.4 1370.1,580.5 1365.7,591.5 1370.1,604.6 1376.8,622.3 1385.5,635.4 1387.8,644.2 1376.8,646.4 1357.0,645.5 1337.3,644.2 1310.9,644.2" fill="#282828" stroke="#282828" stroke-width="30.0" stroke-linejoin="round"/>
<polygon points="1528.4,613.4 1539.4,609.2 1557.1,604.6 1565.8,598.2 1583.3,593.6 1601.0,592.7 1612.0,596.0 1620.7,604.6 1624.0,618.0 1625.1,633.3 1628.4,644.2 1627.4,653.1 1609.7,655.2 1587.6,654.3 1572.2,649.7 1565.8,642.1 1557.1,640.0 1552.5,629.0 1539.4,622.3 1530.7,620.1" fill="#282828" stroke="#282828" stroke-width="30.0" stroke-linejoin="round"/>
<polygon points="1310.9,766.3 1346.0,767.5 1378.8,768.4 1411.9,767.5 1438.3,760.8 1464.8,757.4 1486.6,758.7 1510.9,756.5 1521.7,749.8 1543.8,747.7 1565.8,746.5 1572.2,751.9 1598.6,751.9 1631.7,754.1 1664.6,756.5 1697.7,758.7 1730.5,760.8 1752.5,765.1 1774.6,769.6 1818.5,769.6 1818.5,837.7 1310.9,837.7" fill="#282828" stroke="#282828" stroke-width="30.0" stroke-linejoin="round"/>
<polygon points="1779.0,541.1 1790.0,536.5 1818.5,534.4 1818.5,552.1 1794.4,549.7 1783.3,547.5" fill="#282828" stroke="#282828" stroke-width="30.0" stroke-linejoin="round"/>
<polygon points="1770.8,535.6 1828.0,534.4 1893.9,533.2 1959.8,532.3 2003.7,532.6 2049.8,535.6 2047.8,552.1 2054.4,569.5 2065.2,582.6 2076.2,596.0 2077.5,618.0 2074.2,640.0 2069.8,657.4 2065.2,670.8 2054.4,670.8 2036.7,661.9 2017.0,653.1 2006.0,644.2 2014.7,626.9 2003.7,618.0 1990.6,607.0 1977.5,598.2 1959.8,587.2 1937.7,578.3 1915.9,571.6 1893.9,565.2 1871.8,558.5 1850.0,554.2 1828.0,552.1 1805.9,547.5 1784.1,543.3 1770.8,542.0" fill="#282828" stroke="#282828" stroke-width="30.0" stroke-linejoin="round"/>
<polygon points="2190.6,560.6 2201.7,555.2 2223.5,552.1 2255.8,550.9 2278.6,550.9 2278.6,644.2 2255.8,643.3 2241.2,637.8 2223.5,622.3 2214.8,607.0 2201.7,596.0 2192.7,580.5 2188.3,569.5" fill="#282828" stroke="#282828" stroke-width="30.0" stroke-linejoin="round"/>
<polygon points="1770.8,769.6 1805.9,773.9 1839.0,776.1 1871.8,773.9 1893.9,771.8 1915.9,773.9 1937.7,773.0 1959.8,769.6 1981.9,762.9 2003.7,766.3 2025.7,771.8 2023.7,782.8 2030.1,789.5 2047.8,791.6 2063.2,784.9 2065.2,773.9 2060.9,767.5 2076.2,768.4 2091.6,773.9 2113.7,767.5 2135.8,766.3 2179.6,765.1 2223.5,762.9 2255.8,762.9 2278.6,762.9 2278.6,837.7 1770.8,837.7" fill="#282828" stroke="#282828" stroke-width="30.0" stroke-linejoin="round"/>
<polygon points="2076.2,675.1 2085.0,672.9 2087.3,679.3 2080.6,686.0 2076.2,683.9" fill="#282828" stroke="#282828" stroke-width="30.0" stroke-linejoin="round"/>
<polygon points="1310.9,246.7 1818.5,246.7 1818.5,332.4 1804.1,332.4 1785.6,334.9 1763.6,337.0 1741.5,334.9 1719.7,337.0 1708.7,348.0 1697.7,352.3 1693.3,363.2 1684.3,369.9 1684.3,383.1 1680.0,396.2 1675.6,405.0 1666.9,413.9 1658.2,427.0 1651.5,433.7 1640.5,427.0 1631.7,431.6 1609.7,435.9 1598.6,442.6 1587.6,449.0 1576.8,446.8 1565.8,453.5 1578.9,457.8 1587.6,466.7 1601.0,479.8 1605.3,488.6 1598.6,492.9 1587.6,495.0 1576.8,490.8 1565.8,479.8 1552.5,475.5 1543.8,481.9 1535.0,479.8 1521.7,479.8 1513.0,484.1 1499.9,488.6 1486.6,499.6 1490.9,512.7 1495.5,530.4 1490.9,539.0 1477.8,543.6 1464.8,545.7 1455.8,554.5 1442.7,555.5 1436.0,551.2 1425.0,543.6 1411.9,537.5 1381.1,535.0 1359.1,530.7 1346.0,524.0 1332.9,518.8 1310.9,517.6 1310.9,427.0 1332.9,427.0 1357.0,427.0 1368.1,435.9 1381.1,442.6 1396.5,442.6 1416.3,444.7 1427.3,435.9 1438.3,431.6 1449.4,433.7 1455.8,427.0 1451.4,416.0 1464.8,409.3 1477.8,400.8 1490.9,396.2 1504.3,391.9 1506.3,383.1 1495.5,376.4 1486.6,369.9 1488.9,356.8 1495.5,348.0 1510.9,345.8 1521.7,337.0 1530.7,326.0 1535.0,307.4 1521.7,301.9 1499.9,299.5 1473.5,300.7 1477.8,293.1 1455.8,287.6 1411.9,285.1 1368.1,286.3 1337.3,291.8 1310.9,293.1" fill="#181818"/>
<polygon points="1719.7,481.9 1730.5,470.9 1752.5,464.5 1785.6,462.1 1818.5,462.1 1818.5,508.5 1785.6,508.5 1752.5,503.9 1730.5,497.5 1719.7,490.8" fill="#181818"/>
<polygon points="1763.6,539.0 1776.7,534.7 1818.5,532.6 1818.5,554.5 1770.2,554.5" fill="#181818"/>
<polygon points="1310.9,405.0 1337.3,402.9 1357.0,400.8 1368.1,409.3 1378.8,413.9 1376.8,422.7 1363.4,427.0 1346.0,429.1 1310.9,429.1" fill="#181818"/>
<polygon points="1770.8,246.7 2278.6,246.7 2278.6,288.5 2256.6,286.3 2223.5,282.1 2179.6,280.9 2144.5,282.1 2113.7,284.2 2091.6,286.3 2080.6,293.1 2069.8,299.5 2091.6,304.0 2107.0,310.5 2111.4,326.0 2118.1,334.9 2105.0,339.1 2100.4,330.3 2091.6,334.9 2098.3,343.4 2091.6,352.3 2076.2,356.8 2067.5,352.3 2058.8,354.4 2054.4,365.4 2047.8,363.2 2043.4,374.2 2025.7,378.8 2017.0,385.2 2021.4,394.1 2032.4,402.9 2030.1,413.9 2017.0,420.3 2006.0,429.1 1997.2,438.0 1990.6,444.7 1988.3,453.5 1994.9,464.5 1999.3,475.5 2003.7,484.1 2012.6,490.8 2003.7,495.0 1994.9,492.9 1981.9,490.8 1970.8,490.8 1955.4,488.6 1942.4,486.5 1929.0,481.9 1915.9,475.5 1907.0,466.7 1907.0,453.5 1915.9,440.1 1924.7,427.0 1937.7,420.3 1946.7,413.9 1959.8,411.7 1973.1,413.9 1981.9,422.7 1988.3,413.9 1981.9,405.0 1973.1,400.8 1966.5,391.9 1959.8,383.1 1964.2,376.4 1973.1,369.9 1966.5,363.2 1955.4,363.2 1946.7,356.8 1937.7,348.0 1924.7,341.3 1907.0,337.0 1893.9,332.4 1878.5,330.3 1867.5,326.0 1850.0,323.9 1836.7,321.4 1828.0,323.9 1805.9,326.0 1770.8,328.1" fill="#181818"/>
<polygon points="1770.8,457.8 1797.2,455.7 1819.2,457.8 1825.6,466.7 1823.6,479.8 1814.9,488.6 1805.9,501.8 1792.8,508.5 1770.8,508.5" fill="#181818"/>
<polygon points="2234.5,409.3 2245.5,402.9 2255.8,400.8 2278.6,400.8 2278.6,413.9 2255.8,413.9 2245.5,422.7" fill="#181818"/>
<polygon points="2195.0,427.0 2208.1,413.9 2223.5,411.7 2232.5,418.2 2234.5,433.7 2223.5,444.7 2212.5,446.8 2206.0,435.9 2199.4,440.1" fill="#181818"/>
<ellipse cx="2006.0" cy="497.5" rx="6.6" ry="5.5" fill="#181818"/>
<ellipse cx="2023.7" cy="510.6" rx="8.8" ry="4.4" fill="#181818"/>
<ellipse cx="2076.2" cy="512.7" rx="11.0" ry="4.4" fill="#181818"/>
<polygon points="1486.6,604.6 1499.9,602.4 1513.0,607.0 1521.7,602.4 1535.0,598.2 1552.5,596.0 1565.8,591.5 1583.3,588.1 1603.0,588.1 1616.3,592.7 1625.1,600.3 1628.4,618.0 1629.4,640.0 1636.1,648.8 1653.8,651.0 1675.6,653.1 1691.0,659.8 1684.3,664.1 1662.5,664.1 1631.7,662.9 1609.7,661.9 1587.6,661.9 1570.2,657.4 1557.1,651.0 1543.8,644.2 1535.0,635.4 1528.4,624.4 1517.3,618.0 1504.3,611.3" fill="#181818"/>
<polygon points="1431.7,607.0 1440.4,604.6 1445.0,613.4 1449.4,622.3 1442.7,624.4 1434.0,618.0" fill="#181818"/>
<polygon points="1310.9,646.4 1346.0,646.4 1378.8,647.6 1389.9,644.2 1407.6,640.0 1405.2,648.8 1389.9,655.2 1368.1,657.4 1350.4,661.9 1332.9,660.7 1310.9,657.4" fill="#181818"/>
<polygon points="1310.9,744.3 1337.3,743.1 1350.4,746.5 1346.0,751.9 1310.9,754.1" fill="#181818"/>
<polygon points="1398.8,758.7 1438.3,754.1 1464.8,751.9 1486.6,749.8 1510.9,747.7 1513.0,756.5 1486.6,758.7 1464.8,758.7 1438.3,762.0 1411.9,767.5" fill="#181818"/>
<polygon points="2074.2,659.8 2080.6,657.4 2085.0,666.2 2091.6,675.1 2100.4,679.3 2100.4,686.0 2091.6,687.3 2082.9,690.3 2076.2,692.8 2074.2,679.3" fill="#181818"/>
<ellipse cx="2099.3" cy="640.0" rx="5.5" ry="4.4" fill="#181818"/>
<polygon points="1770.8,762.0 1805.9,760.8 1850.0,758.7 1893.9,754.1 1924.7,749.8 1959.8,751.9 2003.7,753.2 2047.8,754.1 2069.8,756.5 2076.2,768.4 2060.9,767.5 2025.7,771.8 2003.7,766.3 1981.9,762.9 1959.8,769.6 1915.9,773.9 1871.8,773.9 1805.9,773.9 1770.8,769.6" fill="#181818"/>
<polygon points="2025.7,771.8 2065.2,773.9 2063.2,784.9 2047.8,791.6 2030.1,789.5 2023.7,782.8" fill="#181818"/>
<polygon points="2109.3,756.5 2135.8,754.1 2179.6,756.5 2223.5,755.3 2278.6,754.1 2278.6,762.9 2223.5,762.9 2179.6,765.1 2135.8,766.3 2113.7,767.5 2091.6,773.9 2100.4,762.9" fill="#181818"/>
<polygon points="1981.9,635.4 1994.9,626.9 2012.6,624.4 2017.0,633.3 2008.3,644.2 1994.9,642.1" fill="#181818"/>
<polygon points="1627.4,301.9 1653.8,293.1 1697.7,286.3 1741.5,283.0 1785.6,282.1 1818.5,282.1 1818.5,326.0 1785.6,324.8 1763.6,321.4 1741.5,322.7 1719.7,321.4 1697.7,320.5 1675.6,319.3 1653.8,315.0 1631.7,312.9 1618.4,310.5" fill="#181818" stroke="#181818" stroke-width="14.0" stroke-linejoin="round"/>
<polygon points="1601.0,330.3 1614.0,326.0 1631.7,323.9 1640.5,332.4 1653.8,339.1 1666.9,337.0 1684.3,339.1 1697.7,345.8 1695.3,352.3 1675.6,354.4 1653.8,352.3 1631.7,348.0 1609.7,345.8 1601.0,339.1" fill="#181818" stroke="#181818" stroke-width="14.0" stroke-linejoin="round"/>
<polygon points="1587.6,383.1 1601.0,376.4 1620.7,369.9 1642.8,365.4 1664.6,367.8 1677.9,378.8 1677.9,391.9 1671.2,402.9 1662.5,413.9 1653.8,424.9 1644.8,422.7 1631.7,427.0 1609.7,422.7 1587.6,413.9 1565.8,409.3 1552.5,402.9 1548.1,396.2 1557.1,394.1 1565.8,400.8 1574.5,396.2 1563.5,389.8 1565.8,383.1 1574.5,383.1 1578.9,391.9 1585.6,396.2" fill="#181818" stroke="#181818" stroke-width="14.0" stroke-linejoin="round"/>
<polygon points="1519.6,374.2 1526.3,367.8 1539.4,367.8 1541.7,378.8 1535.0,389.8 1528.4,387.3 1521.7,378.8" fill="#181818" stroke="#181818" stroke-width="14.0" stroke-linejoin="round"/>
<polygon points="1458.1,418.2 1466.8,411.7 1482.2,407.2 1490.9,400.8 1504.3,400.8 1499.9,413.9 1506.3,422.7 1499.9,429.1 1486.6,429.1 1477.8,422.7 1469.1,427.0 1460.1,427.0" fill="#181818" stroke="#181818" stroke-width="14.0" stroke-linejoin="round"/>
<polygon points="1528.4,416.0 1543.8,418.2 1557.1,424.9 1543.8,429.1 1530.7,424.9" fill="#181818" stroke="#181818" stroke-width="14.0" stroke-linejoin="round"/>
<polygon points="1535.0,433.7 1552.5,435.9 1565.8,440.1 1578.9,435.9 1565.8,449.0 1548.1,444.7 1535.0,440.1" fill="#181818" stroke="#181818" stroke-width="14.0" stroke-linejoin="round"/>
<polygon points="1557.1,462.1 1570.2,457.8 1578.9,460.0 1570.2,470.9 1557.1,470.9" fill="#181818" stroke="#181818" stroke-width="14.0" stroke-linejoin="round"/>
<polygon points="1532.7,474.3 1546.1,468.8 1559.1,472.2 1567.9,481.9 1576.8,490.8 1574.5,497.5 1561.5,492.9 1548.1,492.9 1539.4,488.6 1535.0,481.9" fill="#181818" stroke="#181818" stroke-width="14.0" stroke-linejoin="round"/>
<polygon points="1310.9,429.1 1332.9,429.1 1354.7,430.4 1361.4,438.0 1378.8,446.8 1396.5,444.7 1416.3,446.8 1427.3,438.0 1438.3,433.7 1447.1,435.9 1455.8,433.7 1466.8,429.1 1477.8,435.9 1495.5,438.0 1510.9,431.6 1521.7,435.9 1524.0,446.8 1521.7,457.8 1515.3,464.5 1506.3,467.6 1513.0,479.8 1499.9,486.5 1486.6,497.5 1477.8,508.5 1477.8,523.7 1473.5,532.6 1464.8,543.6 1455.8,554.5 1442.7,554.5 1438.3,550.0 1427.3,541.4 1411.9,534.7 1381.1,532.6 1359.1,528.0 1346.0,521.6 1332.9,516.1 1310.9,514.9" fill="#181818" stroke="#181818" stroke-width="14.0" stroke-linejoin="round"/>
<polygon points="1310.9,411.7 1337.3,409.3 1348.3,413.9 1346.0,422.7 1332.9,424.9 1310.9,424.9" fill="#181818" stroke="#181818" stroke-width="14.0" stroke-linejoin="round"/>
<polygon points="1748.2,477.7 1763.6,470.9 1776.7,468.8 1785.6,470.9 1801.0,470.0 1796.4,477.7 1781.0,479.8 1763.6,481.9 1752.5,481.9" fill="#181818" stroke="#181818" stroke-width="14.0" stroke-linejoin="round"/>
<polygon points="1779.0,543.6 1790.0,539.0 1818.5,538.1 1818.5,554.5 1783.3,554.5" fill="#181818" stroke="#181818" stroke-width="14.0" stroke-linejoin="round"/>
<polygon points="1770.8,284.2 1834.6,282.1 1861.0,273.2 1876.2,268.7 2003.7,268.7 2069.8,274.1 2065.2,277.5 2025.7,279.6 2012.6,288.5 2003.7,295.2 1981.9,298.6 1959.8,299.5 1937.7,302.8 1915.9,304.0 1893.9,307.4 1871.8,311.7 1856.4,319.3 1836.7,319.9 1805.9,322.7 1770.8,324.8" fill="#181818" stroke="#181818" stroke-width="14.0" stroke-linejoin="round"/>
<polygon points="1900.5,320.5 1915.9,317.2 1929.0,319.3 1924.7,326.0 1907.0,326.0" fill="#181818" stroke="#181818" stroke-width="14.0" stroke-linejoin="round"/>
<polygon points="1942.4,301.9 1959.8,298.6 1981.9,297.3 2003.7,296.4 2025.7,293.1 2047.8,297.3 2056.5,304.0 2052.1,312.9 2039.1,310.5 2025.7,315.0 2003.7,312.9 1990.6,321.4 1977.5,326.0 1964.2,323.9 1973.1,317.2 1959.8,312.9 1946.7,310.5" fill="#181818" stroke="#181818" stroke-width="14.0" stroke-linejoin="round"/>
<polygon points="2054.4,295.2 2069.8,286.3 2091.6,288.5 2080.6,293.1 2069.8,299.5 2087.3,304.0 2100.4,310.5 2102.7,321.4 2091.6,326.0 2078.6,323.9 2067.5,315.0 2056.5,306.2" fill="#181818" stroke="#181818" stroke-width="14.0" stroke-linejoin="round"/>
<polygon points="2047.8,326.0 2060.9,323.9 2069.8,330.3 2065.2,337.0 2052.1,337.0" fill="#181818" stroke="#181818" stroke-width="14.0" stroke-linejoin="round"/>
<polygon points="2010.3,350.1 2021.4,343.4 2034.4,341.3 2039.1,348.0 2025.7,352.3 2021.4,359.0 2012.6,356.8" fill="#181818" stroke="#181818" stroke-width="14.0" stroke-linejoin="round"/>
<ellipse cx="2000.6" cy="387.3" rx="10.3" ry="9.9" fill="#181818"/>
<polygon points="2113.7,297.3 2135.8,293.1 2168.6,291.8 2201.7,295.2 2236.8,299.5 2243.2,308.3 2234.5,315.0 2212.5,315.0 2190.6,315.0 2168.6,319.3 2155.5,321.4 2146.5,312.9 2126.8,308.3" fill="#181818" stroke="#181818" stroke-width="14.0" stroke-linejoin="round"/>
<polygon points="1911.6,455.7 1924.7,444.7 1937.7,438.0 1951.1,435.9 1959.8,433.7 1973.1,442.6 1981.9,442.6 1986.2,453.5 1992.9,457.8 1994.9,468.8 1990.6,475.5 1994.9,488.6 1981.9,489.6 1970.8,488.6 1955.4,486.5 1942.4,484.1 1944.4,475.5 1929.0,473.1 1915.9,470.9 1913.6,462.1" fill="#181818" stroke="#181818" stroke-width="14.0" stroke-linejoin="round"/>
<polygon points="1770.8,468.8 1792.8,468.8 1801.5,474.3 1794.9,481.9 1770.8,484.1" fill="#181818" stroke="#181818" stroke-width="14.0" stroke-linejoin="round"/>
<polygon points="2140.1,503.9 2157.6,492.9 2179.6,479.8 2190.6,457.8 2201.7,440.1 2206.0,435.9 2212.5,446.8 2223.5,444.7 2234.5,433.7 2245.5,422.7 2255.8,413.9 2278.6,411.7 2278.6,525.9 2255.8,523.7 2236.8,521.6 2223.5,514.9 2201.7,512.7 2179.6,512.7 2157.6,512.7 2144.5,510.6" fill="#181818" stroke="#181818" stroke-width="14.0" stroke-linejoin="round"/>
<polygon points="1770.8,539.0 1805.9,536.8 1850.0,534.7 1893.9,533.5 1937.7,532.6 1981.9,533.5 2025.7,534.7 2047.8,536.8 2049.8,554.5 1770.8,554.5" fill="#181818" stroke="#181818" stroke-width="14.0" stroke-linejoin="round"/>
<polygon points="2056.5,499.6 2067.5,497.5 2071.9,503.9 2067.5,510.6 2058.8,508.5" fill="#181818" stroke="#181818" stroke-width="14.0" stroke-linejoin="round"/>
<polygon points="1407.6,516.7 1411.9,534.4 1420.6,541.1 1434.0,545.4 1442.7,538.7 1455.8,534.4 1473.5,532.3 1477.8,516.7" fill="#181818" stroke="#181818" stroke-width="14.0" stroke-linejoin="round"/>
<polygon points="1310.9,552.1 1337.3,553.0 1354.7,558.5 1368.1,567.4 1370.1,580.5 1365.7,591.5 1370.1,604.6 1376.8,622.3 1385.5,635.4 1387.8,644.2 1376.8,646.4 1357.0,645.5 1337.3,644.2 1310.9,644.2" fill="#181818" stroke="#181818" stroke-width="14.0" stroke-linejoin="round"/>
<polygon points="1528.4,613.4 1539.4,609.2 1557.1,604.6 1565.8,598.2 1583.3,593.6 1601.0,592.7 1612.0,596.0 1620.7,604.6 1624.0,618.0 1625.1,633.3 1628.4,644.2 1627.4,653.1 1609.7,655.2 1587.6,654.3 1572.2,649.7 1565.8,642.1 1557.1,640.0 1552.5,629.0 1539.4,622.3 1530.7,620.1" fill="#181818" stroke="#181818" stroke-width="14.0" stroke-linejoin="round"/>
<polygon points="1310.9,766.3 1346.0,767.5 1378.8,768.4 1411.9,767.5 1438.3,760.8 1464.8,757.4 1486.6,758.7 1510.9,756.5 1521.7,749.8 1543.8,747.7 1565.8,746.5 1572.2,751.9 1598.6,751.9 1631.7,754.1 1664.6,756.5 1697.7,758.7 1730.5,760.8 1752.5,765.1 1774.6,769.6 1818.5,769.6 1818.5,837.7 1310.9,837.7" fill="#181818" stroke="#181818" stroke-width="14.0" stroke-linejoin="round"/>
<polygon points="1779.0,541.1 1790.0,536.5 1818.5,534.4 1818.5,552.1 1794.4,549.7 1783.3,547.5" fill="#181818" stroke="#181818" stroke-width="14.0" stroke-linejoin="round"/>
<polygon points="1770.8,535.6 1828.0,534.4 1893.9,533.2 1959.8,532.3 2003.7,532.6 2049.8,535.6 2047.8,552.1 2054.4,569.5 2065.2,582.6 2076.2,596.0 2077.5,618.0 2074.2,640.0 2069.8,657.4 2065.2,670.8 2054.4,670.8 2036.7,661.9 2017.0,653.1 2006.0,644.2 2014.7,626.9 2003.7,618.0 1990.6,607.0 1977.5,598.2 1959.8,587.2 1937.7,578.3 1915.9,571.6 1893.9,565.2 1871.8,558.5 1850.0,554.2 1828.0,552.1 1805.9,547.5 1784.1,543.3 1770.8,542.0" fill="#181818" stroke="#181818" stroke-width="14.0" stroke-linejoin="round"/>
<polygon points="2190.6,560.6 2201.7,555.2 2223.5,552.1 2255.8,550.9 2278.6,550.9 2278.6,644.2 2255.8,643.3 2241.2,637.8 2223.5,622.3 2214.8,607.0 2201.7,596.0 2192.7,580.5 2188.3,569.5" fill="#181818" stroke="#181818" stroke-width="14.0" stroke-linejoin="round"/>
<polygon points="1770.8,769.6 1805.9,773.9 1839.0,776.1 1871.8,773.9 1893.9,771.8 1915.9,773.9 1937.7,773.0 1959.8,769.6 1981.9,762.9 2003.7,766.3 2025.7,771.8 2023.7,782.8 2030.1,789.5 2047.8,791.6 2063.2,784.9 2065.2,773.9 2060.9,767.5 2076.2,768.4 2091.6,773.9 2113.7,767.5 2135.8,766.3 2179.6,765.1 2223.5,762.9 2255.8,762.9 2278.6,762.9 2278.6,837.7 1770.8,837.7" fill="#181818" stroke="#181818" stroke-width="14.0" stroke-linejoin="round"/>
<polygon points="2076.2,675.1 2085.0,672.9 2087.3,679.3 2080.6,686.0 2076.2,683.9" fill="#181818" stroke="#181818" stroke-width="14.0" stroke-linejoin="round"/>
<polygon points="1627.4,301.9 1653.8,293.1 1697.7,286.3 1741.5,283.0 1785.6,282.1 1818.5,282.1 1818.5,326.0 1785.6,324.8 1763.6,321.4 1741.5,322.7 1719.7,321.4 1697.7,320.5 1675.6,319.3 1653.8,315.0 1631.7,312.9 1618.4,310.5" fill="#060606"/>
<polygon points="1601.0,330.3 1614.0,326.0 1631.7,323.9 1640.5,332.4 1653.8,339.1 1666.9,337.0 1684.3,339.1 1697.7,345.8 1695.3,352.3 1675.6,354.4 1653.8,352.3 1631.7,348.0 1609.7,345.8 1601.0,339.1" fill="#060606"/>
<polygon points="1587.6,383.1 1601.0,376.4 1620.7,369.9 1642.8,365.4 1664.6,367.8 1677.9,378.8 1677.9,391.9 1671.2,402.9 1662.5,413.9 1653.8,424.9 1644.8,422.7 1631.7,427.0 1609.7,422.7 1587.6,413.9 1565.8,409.3 1552.5,402.9 1548.1,396.2 1557.1,394.1 1565.8,400.8 1574.5,396.2 1563.5,389.8 1565.8,383.1 1574.5,383.1 1578.9,391.9 1585.6,396.2" fill="#060606"/>
<polygon points="1519.6,374.2 1526.3,367.8 1539.4,367.8 1541.7,378.8 1535.0,389.8 1528.4,387.3 1521.7,378.8" fill="#060606"/>
<polygon points="1458.1,418.2 1466.8,411.7 1482.2,407.2 1490.9,400.8 1504.3,400.8 1499.9,413.9 1506.3,422.7 1499.9,429.1 1486.6,429.1 1477.8,422.7 1469.1,427.0 1460.1,427.0" fill="#060606"/>
<polygon points="1528.4,416.0 1543.8,418.2 1557.1,424.9 1543.8,429.1 1530.7,424.9" fill="#060606"/>
<polygon points="1535.0,433.7 1552.5,435.9 1565.8,440.1 1578.9,435.9 1565.8,449.0 1548.1,444.7 1535.0,440.1" fill="#060606"/>
<polygon points="1557.1,462.1 1570.2,457.8 1578.9,460.0 1570.2,470.9 1557.1,470.9" fill="#060606"/>
<polygon points="1532.7,474.3 1546.1,468.8 1559.1,472.2 1567.9,481.9 1576.8,490.8 1574.5,497.5 1561.5,492.9 1548.1,492.9 1539.4,488.6 1535.0,481.9" fill="#060606"/>
<polygon points="1310.9,429.1 1332.9,429.1 1354.7,430.4 1361.4,438.0 1378.8,446.8 1396.5,444.7 1416.3,446.8 1427.3,438.0 1438.3,433.7 1447.1,435.9 1455.8,433.7 1466.8,429.1 1477.8,435.9 1495.5,438.0 1510.9,431.6 1521.7,435.9 1524.0,446.8 1521.7,457.8 1515.3,464.5 1506.3,467.6 1513.0,479.8 1499.9,486.5 1486.6,497.5 1477.8,508.5 1477.8,523.7 1473.5,532.6 1464.8,543.6 1455.8,554.5 1442.7,554.5 1438.3,550.0 1427.3,541.4 1411.9,534.7 1381.1,532.6 1359.1,528.0 1346.0,521.6 1332.9,516.1 1310.9,514.9" fill="#060606"/>
<polygon points="1310.9,411.7 1337.3,409.3 1348.3,413.9 1346.0,422.7 1332.9,424.9 1310.9,424.9" fill="#060606"/>
<polygon points="1748.2,477.7 1763.6,470.9 1776.7,468.8 1785.6,470.9 1801.0,470.0 1796.4,477.7 1781.0,479.8 1763.6,481.9 1752.5,481.9" fill="#060606"/>
<polygon points="1779.0,543.6 1790.0,539.0 1818.5,538.1 1818.5,554.5 1783.3,554.5" fill="#060606"/>
<polygon points="1770.8,284.2 1834.6,282.1 1861.0,273.2 1876.2,268.7 2003.7,268.7 2069.8,274.1 2065.2,277.5 2025.7,279.6 2012.6,288.5 2003.7,295.2 1981.9,298.6 1959.8,299.5 1937.7,302.8 1915.9,304.0 1893.9,307.4 1871.8,311.7 1856.4,319.3 1836.7,319.9 1805.9,322.7 1770.8,324.8" fill="#060606"/>
<polygon points="1900.5,320.5 1915.9,317.2 1929.0,319.3 1924.7,326.0 1907.0,326.0" fill="#060606"/>
<polygon points="1942.4,301.9 1959.8,298.6 1981.9,297.3 2003.7,296.4 2025.7,293.1 2047.8,297.3 2056.5,304.0 2052.1,312.9 2039.1,310.5 2025.7,315.0 2003.7,312.9 1990.6,321.4 1977.5,326.0 1964.2,323.9 1973.1,317.2 1959.8,312.9 1946.7,310.5" fill="#060606"/>
<polygon points="2054.4,295.2 2069.8,286.3 2091.6,288.5 2080.6,293.1 2069.8,299.5 2087.3,304.0 2100.4,310.5 2102.7,321.4 2091.6,326.0 2078.6,323.9 2067.5,315.0 2056.5,306.2" fill="#060606"/>
<polygon points="2047.8,326.0 2060.9,323.9 2069.8,330.3 2065.2,337.0 2052.1,337.0" fill="#060606"/>
<polygon points="2010.3,350.1 2021.4,343.4 2034.4,341.3 2039.1,348.0 2025.7,352.3 2021.4,359.0 2012.6,356.8" fill="#060606"/>
<ellipse cx="2000.6" cy="387.3" rx="3.3" ry="2.9" fill="#060606"/>
<polygon points="2113.7,297.3 2135.8,293.1 2168.6,291.8 2201.7,295.2 2236.8,299.5 2243.2,308.3 2234.5,315.0 2212.5,315.0 2190.6,315.0 2168.6,319.3 2155.5,321.4 2146.5,312.9 2126.8,308.3" fill="#060606"/>
<polygon points="1911.6,455.7 1924.7,444.7 1937.7,438.0 1951.1,435.9 1959.8,433.7 1973.1,442.6 1981.9,442.6 1986.2,453.5 1992.9,457.8 1994.9,468.8 1990.6,475.5 1994.9,488.6 1981.9,489.6 1970.8,488.6 1955.4,486.5 1942.4,484.1 1944.4,475.5 1929.0,473.1 1915.9,470.9 1913.6,462.1" fill="#060606"/>
<polygon points="1770.8,468.8 1792.8,468.8 1801.5,474.3 1794.9,481.9 1770.8,484.1" fill="#060606"/>
<polygon points="2140.1,503.9 2157.6,492.9 2179.6,479.8 2190.6,457.8 2201.7,440.1 2206.0,435.9 2212.5,446.8 2223.5,444.7 2234.5,433.7 2245.5,422.7 2255.8,413.9 2278.6,411.7 2278.6,525.9 2255.8,523.7 2236.8,521.6 2223.5,514.9 2201.7,512.7 2179.6,512.7 2157.6,512.7 2144.5,510.6" fill="#060606"/>
<polygon points="1770.8,539.0 1805.9,536.8 1850.0,534.7 1893.9,533.5 1937.7,532.6 1981.9,533.5 2025.7,534.7 2047.8,536.8 2049.8,554.5 1770.8,554.5" fill="#060606"/>
<polygon points="2056.5,499.6 2067.5,497.5 2071.9,503.9 2067.5,510.6 2058.8,508.5" fill="#060606"/>
<polygon points="1407.6,516.7 1411.9,534.4 1420.6,541.1 1434.0,545.4 1442.7,538.7 1455.8,534.4 1473.5,532.3 1477.8,516.7" fill="#060606"/>
<polygon points="1310.9,552.1 1337.3,553.0 1354.7,558.5 1368.1,567.4 1370.1,580.5 1365.7,591.5 1370.1,604.6 1376.8,622.3 1385.5,635.4 1387.8,644.2 1376.8,646.4 1357.0,645.5 1337.3,644.2 1310.9,644.2" fill="#060606"/>
<polygon points="1528.4,613.4 1539.4,609.2 1557.1,604.6 1565.8,598.2 1583.3,593.6 1601.0,592.7 1612.0,596.0 1620.7,604.6 1624.0,618.0 1625.1,633.3 1628.4,644.2 1627.4,653.1 1609.7,655.2 1587.6,654.3 1572.2,649.7 1565.8,642.1 1557.1,640.0 1552.5,629.0 1539.4,622.3 1530.7,620.1" fill="#060606"/>
<polygon points="1310.9,766.3 1346.0,767.5 1378.8,768.4 1411.9,767.5 1438.3,760.8 1464.8,757.4 1486.6,758.7 1510.9,756.5 1521.7,749.8 1543.8,747.7 1565.8,746.5 1572.2,751.9 1598.6,751.9 1631.7,754.1 1664.6,756.5 1697.7,758.7 1730.5,760.8 1752.5,765.1 1774.6,769.6 1818.5,769.6 1818.5,837.7 1310.9,837.7" fill="#060606"/>
<polygon points="1779.0,541.1 1790.0,536.5 1818.5,534.4 1818.5,552.1 1794.4,549.7 1783.3,547.5" fill="#060606"/>
<polygon points="1770.8,535.6 1828.0,534.4 1893.9,533.2 1959.8,532.3 2003.7,532.6 2049.8,535.6 2047.8,552.1 2054.4,569.5 2065.2,582.6 2076.2,596.0 2077.5,618.0 2074.2,640.0 2069.8,657.4 2065.2,670.8 2054.4,670.8 2036.7,661.9 2017.0,653.1 2006.0,644.2 2014.7,626.9 2003.7,618.0 1990.6,607.0 1977.5,598.2 1959.8,587.2 1937.7,578.3 1915.9,571.6 1893.9,565.2 1871.8,558.5 1850.0,554.2 1828.0,552.1 1805.9,547.5 1784.1,543.3 1770.8,542.0" fill="#060606"/>
<polygon points="2190.6,560.6 2201.7,555.2 2223.5,552.1 2255.8,550.9 2278.6,550.9 2278.6,644.2 2255.8,643.3 2241.2,637.8 2223.5,622.3 2214.8,607.0 2201.7,596.0 2192.7,580.5 2188.3,569.5" fill="#060606"/>
<polygon points="1770.8,769.6 1805.9,773.9 1839.0,776.1 1871.8,773.9 1893.9,771.8 1915.9,773.9 1937.7,773.0 1959.8,769.6 1981.9,762.9 2003.7,766.3 2025.7,771.8 2023.7,782.8 2030.1,789.5 2047.8,791.6 2063.2,784.9 2065.2,773.9 2060.9,767.5 2076.2,768.4 2091.6,773.9 2113.7,767.5 2135.8,766.3 2179.6,765.1 2223.5,762.9 2255.8,762.9 2278.6,762.9 2278.6,837.7 1770.8,837.7" fill="#060606"/>
<polygon points="2076.2,675.1 2085.0,672.9 2087.3,679.3 2080.6,686.0 2076.2,683.9" fill="#060606"/>
<polygon points="1543.8,312.9 1557.1,310.5 1576.8,321.4 1587.6,334.9 1585.6,348.0 1576.8,356.8 1565.8,354.4 1557.1,343.4 1548.1,341.3 1535.0,345.8 1530.7,334.9 1535.0,323.9" fill="#282828"/>
<ellipse cx="1565.8" cy="328.1" rx="5.5" ry="4.0" fill="#383838"/>
<ellipse cx="1552.5" cy="385.2" rx="9.9" ry="9.9" fill="#282828"/>
<ellipse cx="1576.8" cy="375.4" rx="7.7" ry="5.5" fill="#282828"/>
<ellipse cx="1609.7" cy="384.3" rx="4.8" ry="4.0" fill="#282828"/>
<polygon points="1607.6,363.2 1620.7,356.8 1642.8,354.4 1658.2,359.0 1649.2,365.4 1627.4,367.8 1612.0,369.9" fill="#282828"/>
<polygon points="1576.8,411.7 1598.6,413.9 1616.3,422.7 1631.7,427.0 1640.5,433.7 1644.8,449.0 1640.5,470.9 1638.4,484.1 1631.7,490.8 1618.4,486.5 1609.7,492.9 1612.0,501.8 1605.3,510.6 1596.6,501.8 1603.0,488.6 1598.6,479.8 1587.6,466.7 1578.9,457.8 1572.2,453.5 1576.8,446.8 1587.6,440.1 1587.6,431.6 1578.9,427.0 1565.8,422.7" fill="#282828"/>
<polygon points="1589.9,457.8 1607.6,446.8 1627.4,440.1 1640.5,440.1 1640.5,457.8 1631.7,468.8 1618.4,475.5 1605.3,475.5 1594.3,468.8" fill="#383838"/>
<polygon points="1504.3,411.7 1515.3,402.9 1535.0,400.8 1539.4,407.2 1528.4,413.9 1521.7,422.7 1513.0,427.0 1506.3,420.3" fill="#282828"/>
<polygon points="1510.9,413.9 1521.7,408.4 1530.7,409.3 1524.0,418.2 1517.3,423.6 1510.9,420.3" fill="#383838"/>
<polygon points="1530.7,427.0 1543.8,431.6 1557.1,427.0 1570.2,422.7 1583.3,427.0 1589.9,435.9 1576.8,433.7 1561.5,433.7 1548.1,438.0 1535.0,433.7" fill="#282828"/>
<ellipse cx="1460.1" cy="442.6" rx="5.5" ry="7.7" fill="#282828"/>
<ellipse cx="1482.2" cy="433.7" rx="5.5" ry="3.3" fill="#282828"/>
<polygon points="1486.6,499.6 1499.9,488.6 1513.0,484.1 1517.3,490.8 1510.9,495.0 1499.9,499.6 1497.6,508.5 1501.9,519.5 1499.9,532.6 1495.5,543.6 1490.9,539.0 1495.5,530.4 1490.9,512.7" fill="#282828"/>
<polygon points="1310.9,306.2 1337.3,305.0 1357.0,307.4 1378.8,315.0 1394.2,319.3 1385.5,323.9 1374.5,326.0 1368.1,334.9 1357.0,343.4 1350.4,352.3 1357.0,359.0 1368.1,348.0 1381.1,343.4 1389.9,348.0 1400.9,343.4 1411.9,352.3 1420.6,363.2 1420.6,369.9 1407.6,367.8 1396.5,365.4 1385.5,369.9 1372.4,372.1 1363.4,374.2 1372.4,378.8 1389.9,374.2 1398.8,383.1 1396.5,391.9 1385.5,391.9 1372.4,389.8 1363.4,396.2 1350.4,400.8 1337.3,396.2 1310.9,400.8" fill="#383838"/>
<polygon points="1447.1,361.1 1455.8,354.4 1469.1,352.3 1471.2,365.4 1477.8,374.2 1480.1,380.9 1469.1,378.8 1455.8,380.9 1445.0,376.4 1447.1,367.8" fill="#383838"/>
<polygon points="1405.2,413.9 1416.3,407.2 1429.6,400.8 1440.4,405.0 1445.0,413.9 1438.3,422.7 1427.3,424.9 1420.6,431.6 1411.9,435.9 1396.5,438.0 1381.1,433.7 1378.8,427.0 1389.9,427.0 1398.8,422.7" fill="#383838"/>
<ellipse cx="1527.3" cy="361.4" rx="7.7" ry="2.2" fill="#060606"/>
<ellipse cx="2058.8" cy="365.4" rx="3.3" ry="4.4" fill="#383838"/>
<ellipse cx="1810.3" cy="473.1" rx="4.8" ry="2.2" fill="#060606"/>
<polygon points="2078.6,747.7 2091.6,741.0 2102.7,736.7 2100.4,745.2 2096.0,754.1 2100.4,762.9 2093.9,760.8 2087.3,751.9" fill="#383838"/>
<ellipse cx="2044.4" cy="777.3" rx="2.6" ry="4.4" fill="#282828"/>
<polygon points="2089.6,756.5 2100.4,749.8 2102.7,762.9 2096.0,771.8 2089.6,767.5" fill="#282828"/>
<g filter="url(#b7_2)">
<polygon points="1310.9,310.5 1337.3,310.5 1368.1,317.2 1363.4,337.0 1346.0,359.0 1337.3,391.9 1310.9,396.2" fill="#606060"/>
<polygon points="1596.6,457.8 1627.4,444.7 1638.4,449.0 1631.7,466.7 1609.7,470.9" fill="#585858"/>
<ellipse cx="1341.6" cy="350.1" rx="7.7" ry="11.0" fill="#afafaf"/>
<ellipse cx="1425.0" cy="413.9" rx="12.1" ry="6.6" fill="#686868"/>
</g>
</g>
<path d="M1486.3,265.6V814.8 M1640.2,265.6V814.8 M1794.1,265.6V814.8 M1948.0,265.6V814.8 M2101.9,265.6V814.8 M1332.4,357.1H2255.8 M1332.4,448.7H2255.8 M1332.4,540.2H2255.8 M1332.4,631.7H2255.8 M1332.4,723.3H2255.8" stroke="#a8a8a8" stroke-width="1.15" stroke-dasharray="2.6 8.25" fill="none"/>
<use href="#coast" transform="translate(1332.40 540.20) scale(2.56500 3.05111)"/>
</g>
<rect x="1332.4" y="265.6" width="923.4" height="549.2" fill="none" stroke="#000" stroke-width="1.6"/>
<path d="M1332.4,814.8v9 M1486.3,814.8v9 M1640.2,814.8v9 M1794.1,814.8v9 M1948.0,814.8v9 M2101.9,814.8v9 M2255.8,814.8v9 M1332.4,357.1h-9 M1332.4,448.7h-9 M1332.4,540.2h-9 M1332.4,631.7h-9 M1332.4,723.3h-9" stroke="#000" stroke-width="1.1" fill="none"/>
<text class="ax" x="1332.4" y="850.2" font-size="28.2" text-anchor="middle" fill="#222" textLength="16" lengthAdjust="spacingAndGlyphs">0</text>
<text class="ax" x="1486.3" y="850.2" font-size="28.2" text-anchor="middle" fill="#222" textLength="49" lengthAdjust="spacingAndGlyphs">60E</text>
<text class="ax" x="1640.2" y="850.2" font-size="28.2" text-anchor="middle" fill="#222" textLength="64" lengthAdjust="spacingAndGlyphs">120E</text>
<text class="ax" x="1794.1" y="850.2" font-size="28.2" text-anchor="middle" fill="#222" textLength="48.5" lengthAdjust="spacingAndGlyphs">180</text>
<text class="ax" x="1948.0" y="850.2" font-size="28.2" text-anchor="middle" fill="#222" textLength="67" lengthAdjust="spacingAndGlyphs">120W</text>
<text class="ax" x="2101.9" y="850.2" font-size="28.2" text-anchor="middle" fill="#222" textLength="52" lengthAdjust="spacingAndGlyphs">60W</text>
<text class="ax" x="2255.8" y="850.2" font-size="28.2" text-anchor="middle" fill="#222" textLength="16" lengthAdjust="spacingAndGlyphs">0</text>
<text class="ax" x="1316.2" y="367.2" font-size="28.2" text-anchor="end" fill="#222" textLength="50" lengthAdjust="spacingAndGlyphs">60N</text>
<text class="ax" x="1316.2" y="458.8" font-size="28.2" text-anchor="end" fill="#222" textLength="51.5" lengthAdjust="spacingAndGlyphs">30N</text>
<text class="ax" x="1316.2" y="550.3" font-size="28.2" text-anchor="end" fill="#222" textLength="34.5" lengthAdjust="spacingAndGlyphs">EQ</text>
<text class="ax" x="1316.2" y="641.8" font-size="28.2" text-anchor="end" fill="#222" textLength="50" lengthAdjust="spacingAndGlyphs">30S</text>
<text class="ax" x="1316.2" y="733.4" font-size="28.2" text-anchor="end" fill="#222" textLength="50" lengthAdjust="spacingAndGlyphs">60S</text>
<g clip-path="url(#clip3)">
<g filter="url(#cm3)">
<rect x="178.4" y="835.8" width="1083.4" height="709.6" fill="#383838"/>
<g filter="url(#b10_3)">
<polygon points="601.6,1081.3 623.7,1063.9 645.7,1052.9 678.5,1033.0 711.6,1019.9 744.5,1015.6 744.5,1103.3 711.6,1101.1 667.5,1103.3 623.7,1107.9 590.6,1121.0 579.8,1107.9" fill="#707070"/>
<polygon points="575.2,1147.2 588.5,1162.8 612.6,1173.8 645.7,1178.1 689.6,1180.2 744.5,1182.7 744.5,1204.6 579.8,1204.6 575.2,1184.8 566.5,1162.8" fill="#cfcfcf"/>
<polygon points="390.8,1169.2 425.9,1162.8 469.8,1160.7 513.6,1162.8 535.7,1156.1 557.7,1151.8 568.8,1173.8 568.8,1204.6 390.8,1204.6" fill="#808080"/>
<polygon points="696.8,1015.6 754.0,1006.8 797.8,1002.2 833.0,1002.2 850.7,1011.1 863.7,1028.8 881.4,1033.0 890.2,1046.2 881.4,1055.0 863.7,1052.9 850.7,1059.3 828.6,1072.7 797.8,1085.9 776.0,1092.3 731.9,1094.7 696.8,1092.3" fill="#606060"/>
<polygon points="929.7,1092.3 951.7,1077.0 984.8,1055.0 1017.6,1041.9 1048.4,1028.8 1061.8,1002.2 1083.6,989.1 1127.7,976.0 1181.8,973.8 1181.8,1041.9 1149.5,1050.8 1105.6,1068.2 1072.5,1081.3 1039.7,1094.7 995.8,1099.0 951.7,1094.7" fill="#646464"/>
<polygon points="696.8,1160.7 797.8,1158.2 885.8,1158.2 929.7,1165.0 973.8,1173.8 973.8,1182.7 696.8,1182.7" fill="#878787"/>
<polygon points="978.1,1186.9 1039.7,1180.2 1083.6,1180.2 1092.5,1204.6 978.1,1204.6" fill="#878787"/>
<polygon points="738.6,1118.8 793.5,1107.9 802.2,1129.8 776.0,1147.2 745.2,1147.2" fill="#505050"/>
<polygon points="283.0,1186.6 344.6,1188.8 360.0,1212.9 355.6,1245.9 344.6,1274.6 322.5,1287.7 307.1,1267.8 298.4,1223.9" fill="#878787"/>
<polygon points="364.3,1193.0 403.8,1188.8 469.8,1188.8 513.6,1193.0 557.7,1223.9 568.8,1243.7 535.7,1234.9 469.8,1230.6 425.9,1237.0 381.8,1228.5 368.7,1212.9" fill="#878787"/>
<polygon points="656.5,1212.9 744.5,1212.9 744.5,1267.8 689.6,1263.6 663.2,1245.9" fill="#808080"/>
<polygon points="502.8,1175.6 744.5,1175.6 744.5,1206.5 667.5,1215.0 601.6,1219.6 557.7,1212.9 513.6,1201.9" fill="#8f8f8f"/>
<polygon points="333.6,1338.4 469.8,1346.9 579.8,1355.8 730.1,1360.4 730.1,1377.8 579.8,1373.5 447.7,1371.4 333.6,1366.8" fill="#535353"/>
<polygon points="342.3,1298.7 403.8,1320.7 381.8,1333.8 342.3,1324.9" fill="#535353"/>
<polygon points="696.8,1201.9 776.0,1204.0 841.9,1223.9 885.8,1252.6 907.9,1281.0 885.8,1294.4 841.9,1276.7 797.8,1272.4 754.0,1281.0 710.1,1272.4 696.8,1267.8" fill="#787878"/>
<polygon points="696.8,1196.4 841.9,1197.6 929.7,1199.8 973.8,1201.9 973.8,1210.8 907.9,1209.5 819.9,1212.9 696.8,1208.6" fill="#707070"/>
<polygon points="975.8,1184.5 1052.8,1182.1 1090.2,1204.0 1087.9,1234.9 1074.8,1256.9 1061.8,1267.8 1039.7,1272.4 1026.4,1261.4 1017.6,1265.7 1006.6,1252.6 993.5,1223.9 978.1,1201.9" fill="#8f8f8f"/>
<polygon points="1070.5,1272.4 1087.9,1263.6 1127.7,1289.8 1127.7,1303.0 1094.6,1298.7 1072.5,1285.6" fill="#686868"/>
<polygon points="877.1,1338.4 984.8,1351.5 984.8,1366.8 885.8,1362.5" fill="#535353"/>
<polygon points="696.8,1355.8 776.0,1360.4 776.0,1377.8 696.8,1377.8" fill="#535353"/>
<polygon points="1083.6,1333.8 1181.8,1338.4 1181.8,1364.6 1083.6,1362.5" fill="#535353"/>
</g>
<g filter="url(#b6_3)">
<ellipse cx="711.6" cy="1074.9" rx="24.2" ry="13.2" fill="#9f9f9f"/>
<ellipse cx="645.7" cy="1090.1" rx="19.8" ry="11.0" fill="#8f8f8f"/>
<ellipse cx="553.4" cy="1103.3" rx="8.8" ry="15.4" fill="#afafaf" transform="rotate(-30 553.4 1103.3)"/>
<ellipse cx="579.8" cy="1107.9" rx="6.6" ry="19.8" fill="#bfbfbf" transform="rotate(-40 579.8 1107.9)"/>
<ellipse cx="606.0" cy="1101.1" rx="13.2" ry="8.8" fill="#9f9f9f"/>
<ellipse cx="584.2" cy="1160.7" rx="9.9" ry="18.7" fill="#ffffff" transform="rotate(20 584.2 1160.7)"/>
<ellipse cx="645.7" cy="1186.9" rx="57.1" ry="11.0" fill="#ffffff"/>
<ellipse cx="606.0" cy="1178.1" rx="17.6" ry="11.0" fill="#ffffff"/>
<ellipse cx="469.8" cy="1173.8" rx="30.8" ry="8.8" fill="#dfdfdf"/>
<ellipse cx="531.3" cy="1169.2" rx="11.0" ry="11.0" fill="#cfcfcf"/>
<ellipse cx="390.8" cy="1180.2" rx="8.8" ry="12.1" fill="#dfdfdf"/>
<ellipse cx="458.7" cy="1200.1" rx="57.1" ry="5.5" fill="#ffffff"/>
<ellipse cx="731.9" cy="1068.2" rx="24.2" ry="11.0" fill="#9f9f9f"/>
<ellipse cx="771.7" cy="1063.9" rx="16.5" ry="14.3" fill="#9f9f9f"/>
<ellipse cx="850.7" cy="1026.6" rx="5.5" ry="18.7" fill="#efefef" transform="rotate(-35 850.7 1026.6)"/>
<ellipse cx="883.7" cy="1046.2" rx="6.2" ry="7.0" fill="#afafaf"/>
<ellipse cx="951.7" cy="1083.7" rx="15.4" ry="7.7" fill="#9f9f9f"/>
<ellipse cx="1050.7" cy="1068.2" rx="17.6" ry="7.7" fill="#8f8f8f"/>
<ellipse cx="1094.6" cy="1041.9" rx="19.8" ry="13.2" fill="#8f8f8f"/>
<ellipse cx="731.9" cy="1173.8" rx="28.6" ry="4.4" fill="#efefef"/>
<ellipse cx="819.9" cy="1171.7" rx="46.1" ry="4.8" fill="#ffffff"/>
<ellipse cx="896.8" cy="1173.8" rx="35.2" ry="4.8" fill="#ffffff"/>
<ellipse cx="940.7" cy="1176.2" rx="18.7" ry="4.4" fill="#ffffff"/>
<ellipse cx="1094.6" cy="1185.1" rx="35.2" ry="4.8" fill="#dfdfdf"/>
<ellipse cx="1149.5" cy="1185.7" rx="22.0" ry="4.4" fill="#9f9f9f"/>
<ellipse cx="1017.6" cy="1195.8" rx="22.0" ry="8.8" fill="#bfbfbf"/>
<ellipse cx="322.5" cy="1230.6" rx="22.0" ry="15.4" fill="#dfdfdf"/>
<ellipse cx="322.5" cy="1276.7" rx="13.2" ry="7.7" fill="#cfcfcf"/>
<ellipse cx="430.3" cy="1205.3" rx="25.3" ry="10.6" fill="#ffffff"/>
<ellipse cx="502.8" cy="1219.6" rx="15.4" ry="8.8" fill="#bfbfbf"/>
<ellipse cx="562.1" cy="1234.9" rx="13.2" ry="8.8" fill="#bfbfbf"/>
<ellipse cx="524.6" cy="1193.0" rx="13.2" ry="8.8" fill="#bfbfbf"/>
<ellipse cx="553.4" cy="1190.9" rx="11.0" ry="9.9" fill="#afafaf"/>
<ellipse cx="619.3" cy="1204.0" rx="20.9" ry="11.0" fill="#ffffff" transform="rotate(15 619.3 1204.0)"/>
<ellipse cx="650.1" cy="1179.9" rx="57.1" ry="12.1" fill="#ffffff"/>
<ellipse cx="718.0" cy="1245.9" rx="16.5" ry="12.1" fill="#efefef"/>
<ellipse cx="716.5" cy="1245.9" rx="12.1" ry="9.9" fill="#efefef"/>
<ellipse cx="797.8" cy="1252.6" rx="15.4" ry="11.0" fill="#afafaf"/>
<ellipse cx="853.0" cy="1261.4" rx="13.2" ry="13.2" fill="#afafaf"/>
<ellipse cx="782.4" cy="1289.8" rx="11.0" ry="8.8" fill="#9f9f9f"/>
<ellipse cx="1072.5" cy="1206.5" rx="14.3" ry="11.0" fill="#efefef"/>
<ellipse cx="1061.8" cy="1248.0" rx="16.5" ry="11.0" fill="#dfdfdf"/>
<ellipse cx="995.8" cy="1201.9" rx="8.8" ry="13.2" fill="#cfcfcf"/>
<ellipse cx="1028.7" cy="1212.9" rx="15.4" ry="13.2" fill="#bfbfbf"/>
<ellipse cx="1101.3" cy="1285.6" rx="15.4" ry="8.8" fill="#9f9f9f"/>
</g>
<polygon points="236.9,896.9 744.5,896.9 744.5,1013.2 711.6,1015.6 689.6,1024.2 667.5,1033.0 656.5,1041.9 641.1,1052.9 623.7,1061.7 612.6,1068.2 601.6,1077.0 592.9,1085.9 584.2,1083.7 575.2,1085.9 566.5,1083.7 557.7,1085.9 546.7,1090.1 535.7,1085.9 524.6,1092.3 513.6,1099.0 502.8,1107.9 498.2,1118.8 504.9,1125.3 513.6,1129.8 524.6,1136.3 531.3,1147.2 538.0,1156.1 531.3,1160.7 522.6,1151.8 513.6,1143.0 502.8,1147.2 491.8,1143.0 480.8,1149.7 458.7,1147.2 447.7,1151.8 425.9,1149.7 403.8,1151.8 390.8,1156.1 386.1,1165.0 381.8,1184.8 379.7,1202.2 368.7,1204.6 360.0,1195.8 344.6,1193.0 315.9,1190.9 294.1,1186.6 283.0,1188.8 280.7,1195.8 272.0,1205.6 236.9,1205.6" fill="#282828"/>
<polygon points="696.8,896.9 1204.6,896.9 1204.6,958.2 1181.8,960.7 1160.5,962.8 1138.5,965.0 1116.6,969.2 1105.6,976.0 1083.6,982.7 1070.5,986.9 1061.8,993.7 1048.4,993.7 1039.7,997.9 1035.3,1006.8 1039.7,1015.6 1048.4,1024.2 1039.7,1028.8 1026.4,1033.0 1013.3,1035.2 995.8,1039.8 984.8,1044.0 973.8,1050.8 960.4,1059.3 951.7,1068.2 938.6,1077.0 929.7,1085.9 925.3,1094.7 929.7,1101.1 943.0,1099.0 943.0,1107.9 938.6,1116.7 929.7,1125.3 934.3,1134.1 943.0,1138.7 951.7,1145.1 962.7,1151.8 969.4,1160.7 973.8,1169.2 980.4,1173.8 984.8,1182.7 978.1,1186.9 969.4,1180.2 951.7,1169.2 929.7,1162.8 918.9,1167.1 907.9,1162.8 899.1,1156.1 881.4,1154.0 863.7,1154.0 850.7,1155.2 833.0,1154.0 815.5,1151.8 813.2,1138.7 819.9,1129.8 813.2,1121.0 804.5,1116.7 797.8,1125.3 793.5,1138.7 784.7,1147.2 776.0,1151.8 765.0,1156.1 754.0,1160.7 745.2,1154.0 738.6,1145.1 731.9,1138.7 736.3,1129.8 749.6,1121.0 758.3,1114.3 776.0,1112.1 784.7,1107.9 797.8,1103.3 793.5,1096.9 776.0,1101.1 758.3,1103.3 745.2,1107.9 731.9,1105.7 718.8,1107.9 696.8,1105.7 696.8,1096.9 731.9,1096.9 754.0,1099.0 776.0,1092.3 797.8,1083.7 808.8,1077.0 826.5,1068.2 841.9,1059.3 855.0,1052.9 863.7,1059.3 872.7,1061.7 881.4,1057.2 885.8,1050.8 879.1,1041.9 872.7,1033.0 872.7,1024.2 863.7,1013.2 855.0,1004.7 841.9,995.8 828.6,993.7 815.5,995.8 797.8,995.8 776.0,997.9 762.7,1002.2 754.0,997.9 745.2,991.2 731.9,997.9 718.8,1000.1 696.8,1002.2" fill="#282828"/>
<polygon points="943.0,1099.0 951.7,1096.9 969.4,1101.1 973.8,1107.9 986.9,1103.3 995.8,1107.9 1004.6,1112.1 1017.6,1107.9 1022.0,1101.1 1039.7,1096.9 1061.8,1092.3 1072.5,1101.1 1083.6,1107.9 1087.9,1096.9 1079.2,1090.1 1074.8,1083.7 1087.9,1079.2 1105.6,1072.7 1127.7,1063.9 1149.5,1055.0 1171.5,1050.8 1181.8,1048.3 1204.6,1046.2 1204.6,1180.2 1181.8,1180.2 1171.5,1178.1 1162.8,1173.8 1149.5,1175.9 1127.7,1178.1 1105.6,1177.2 1083.6,1175.9 1061.8,1173.8 1039.7,1171.7 1028.7,1173.8 1026.4,1182.7 1017.6,1184.8 1004.6,1175.9 991.2,1173.8 984.8,1182.7 980.4,1173.8 973.8,1169.2 969.4,1160.7 962.7,1151.8 951.7,1145.1 943.0,1138.7 934.3,1134.1 929.7,1125.3 938.6,1116.7 943.0,1107.9" fill="#282828"/>
<polygon points="696.8,1183.6 754.0,1182.7 819.9,1183.6 885.8,1184.8 929.7,1185.7 951.7,1186.9 949.7,1195.8 907.9,1195.8 863.7,1193.7 819.9,1194.6 776.0,1195.8 731.9,1193.7 696.8,1195.8" fill="#282828"/>
<polygon points="236.9,1188.8 263.3,1190.9 280.7,1188.8 283.0,1175.6 236.9,1175.6" fill="#282828"/>
<polygon points="368.7,1179.9 377.4,1179.9 379.7,1193.0 375.4,1204.0 368.7,1201.9 364.3,1193.0" fill="#282828"/>
<polygon points="342.3,1256.9 348.9,1245.9 357.7,1241.6 366.4,1245.9 373.1,1254.7 375.4,1272.4 373.1,1285.6 381.8,1294.4 390.8,1289.8 403.8,1289.8 421.5,1294.4 436.9,1303.0 452.3,1307.5 465.4,1307.5 469.8,1316.4 456.7,1320.7 458.7,1327.4 447.7,1329.5 439.0,1322.8 425.9,1316.4 412.6,1309.7 399.5,1303.0 386.1,1296.6 377.4,1296.6 364.3,1289.8 353.3,1283.4 346.6,1274.6 342.3,1267.8" fill="#282828"/>
<polygon points="452.3,1276.7 461.0,1265.7 469.8,1252.6 478.5,1241.6 491.8,1239.5 509.3,1238.2 524.6,1236.1 535.7,1239.5 546.7,1245.9 555.4,1252.6 557.7,1267.8 555.4,1289.8 557.7,1298.7 579.8,1300.8 592.9,1309.7 606.0,1314.0 619.3,1311.8 623.7,1303.0 632.4,1309.7 641.1,1311.8 641.1,1324.9 636.7,1335.9 628.0,1333.8 614.9,1329.5 601.6,1327.4 579.8,1322.8 566.5,1329.5 557.7,1331.7 535.7,1333.8 513.6,1331.7 500.5,1324.9 491.8,1316.4 480.8,1309.7 469.8,1303.0 461.0,1294.4 469.8,1289.8 461.0,1285.6" fill="#282828"/>
<polygon points="575.2,1263.6 579.8,1254.7 592.9,1250.4 610.3,1252.6 628.0,1254.7 636.7,1267.8 641.1,1276.7 645.7,1283.4 641.1,1303.0 632.4,1309.7 623.7,1303.0 628.0,1289.8 630.3,1274.6 623.7,1263.6 610.3,1261.4 599.5,1267.8 601.6,1278.8 597.2,1289.8 588.5,1294.4 579.8,1285.6 575.2,1274.6" fill="#282828"/>
<polygon points="700.6,1283.4 711.6,1276.7 722.4,1274.6 730.1,1281.0 731.4,1294.4 720.4,1298.7 709.3,1294.4" fill="#282828"/>
<polygon points="700.6,1346.9 709.3,1333.8 718.0,1329.5 724.7,1338.4 720.4,1349.4 707.0,1350.3" fill="#282828"/>
<ellipse cx="656.5" cy="1253.5" rx="2.6" ry="2.6" fill="#282828"/>
<ellipse cx="652.1" cy="1294.4" rx="2.2" ry="3.3" fill="#282828"/>
<polygon points="236.9,1375.6 272.0,1375.6 304.8,1376.9 337.9,1379.0 355.6,1384.5 360.0,1388.8 351.0,1395.5 342.3,1399.8 337.9,1406.5 337.9,1410.7 304.8,1414.1 272.0,1416.2 236.9,1416.2" fill="#282828"/>
<polygon points="373.1,1399.8 390.8,1396.4 412.6,1394.3 425.9,1390.9 436.9,1386.6 458.7,1383.3 480.8,1384.5 502.8,1387.5 524.6,1390.9 542.3,1386.6 542.3,1379.9 553.4,1376.9 566.5,1379.9 564.4,1386.6 553.4,1390.9 549.0,1396.4 566.5,1397.6 588.5,1396.4 610.3,1396.4 632.4,1398.5 650.1,1399.8 650.1,1388.8 667.5,1384.5 689.6,1386.6 711.6,1390.9 744.5,1395.5 744.5,1421.7 700.6,1421.7 689.6,1415.0 667.5,1410.7 645.7,1408.6 623.7,1406.5 579.8,1406.5 535.7,1403.1 491.8,1401.9 447.7,1405.2 439.0,1407.4 432.3,1401.9 412.6,1401.9 390.8,1404.0 373.1,1407.4" fill="#282828"/>
<polygon points="236.9,1305.4 258.9,1307.5 276.4,1311.8 294.1,1314.0 307.1,1318.5 315.9,1311.8 322.5,1305.4 329.2,1311.8 330.2,1331.7 315.9,1329.5 294.1,1327.4 272.0,1322.8 236.9,1320.7" fill="#282828"/>
<polygon points="822.2,1221.7 833.0,1217.5 853.0,1215.0 885.8,1212.9 907.9,1212.0 929.7,1210.8 951.7,1209.5 973.8,1209.5 973.8,1212.9 929.7,1214.1 885.8,1219.6 863.7,1220.5 839.6,1223.9 850.7,1228.5 863.7,1232.7 877.1,1239.5 890.2,1248.0 903.5,1259.0 916.6,1267.8 925.3,1276.7 929.7,1289.8 938.6,1303.0 947.4,1314.0 960.4,1320.7 973.8,1324.9 986.9,1324.9 984.8,1335.9 969.4,1331.7 951.7,1324.9 938.6,1316.4 929.7,1309.7 920.9,1296.6 912.2,1285.6 903.5,1276.7 907.9,1267.8 899.1,1263.6 885.8,1265.7 890.2,1256.9 877.1,1248.0 863.7,1239.5 846.3,1232.7 828.6,1227.2" fill="#282828"/>
<polygon points="729.8,1311.8 738.6,1296.6 749.6,1303.0 765.0,1311.8 782.4,1320.7 797.8,1322.8 806.8,1316.4 819.9,1320.7 833.0,1327.4 839.6,1331.7 828.6,1340.5 811.2,1338.4 793.5,1335.9 776.0,1331.7 754.0,1329.5 738.6,1324.9" fill="#282828"/>
<polygon points="828.6,1318.5 841.9,1311.8 853.0,1309.7 863.7,1303.0 874.8,1307.5 885.8,1311.8 899.1,1318.5 912.2,1324.9 920.9,1330.4 907.9,1327.4 890.2,1322.8 872.7,1320.7 859.4,1322.8 846.3,1327.4 833.0,1322.8" fill="#282828"/>
<polygon points="841.9,1294.4 853.0,1291.1 861.7,1303.0 853.0,1309.7 846.3,1303.0" fill="#282828"/>
<ellipse cx="758.3" cy="1294.4" rx="6.6" ry="5.5" fill="#282828"/>
<ellipse cx="746.3" cy="1280.1" rx="4.8" ry="3.3" fill="#282828"/>
<polygon points="696.8,1276.7 718.8,1274.6 727.5,1285.6 729.8,1294.4 723.2,1303.0 696.8,1303.0" fill="#282828"/>
<polygon points="696.8,1331.7 718.8,1329.5 725.5,1338.4 718.8,1349.4 696.8,1349.4" fill="#282828"/>
<polygon points="1004.6,1283.4 1017.6,1272.4 1026.4,1263.6 1033.0,1267.8 1035.3,1278.8 1039.7,1287.7 1052.8,1281.0 1061.8,1276.7 1066.1,1285.6 1061.8,1298.7 1059.4,1311.8 1061.8,1324.9 1061.8,1335.9 1052.8,1344.8 1039.7,1351.5 1026.4,1349.4 1017.6,1353.6 1004.6,1353.6 1000.2,1344.8 1004.6,1344.8 1013.3,1342.7 1026.4,1342.7 1031.0,1333.8 1039.7,1327.4 1035.3,1320.7 1022.0,1320.7 1013.3,1314.0 1006.6,1305.4 1002.2,1298.7" fill="#282828"/>
<polygon points="1087.9,1237.0 1096.9,1230.6 1112.3,1226.0 1123.1,1219.6 1138.5,1210.8 1160.5,1204.0 1181.8,1201.0 1204.6,1201.0 1204.6,1208.6 1181.8,1208.6 1160.5,1210.8 1140.8,1215.0 1127.7,1221.7 1123.1,1226.0 1112.3,1230.6 1114.3,1237.0 1118.7,1245.9 1127.7,1259.0 1136.4,1270.0 1145.1,1281.0 1158.5,1289.8 1171.5,1296.6 1181.8,1293.2 1204.6,1294.4 1204.6,1320.7 1181.8,1318.5 1175.9,1307.5 1162.8,1300.8 1149.5,1294.4 1138.5,1285.6 1127.7,1276.7 1118.7,1265.7 1110.0,1254.7 1096.9,1245.9" fill="#282828"/>
<polygon points="696.8,1396.4 731.9,1397.6 754.0,1399.8 776.0,1395.5 797.8,1390.9 819.9,1386.6 841.9,1379.9 863.7,1376.9 885.8,1379.0 907.9,1382.3 929.7,1385.4 951.7,1386.6 973.8,1388.8 995.8,1390.9 1000.2,1399.8 1006.6,1406.5 1017.6,1408.6 1026.4,1401.9 1024.3,1393.0 1035.3,1386.6 1052.8,1382.3 1070.5,1379.0 1083.6,1376.9 1105.6,1377.8 1127.7,1376.9 1149.5,1375.6 1181.8,1374.4 1204.6,1374.4 1204.6,1399.8 1181.8,1397.6 1171.5,1394.3 1149.5,1392.1 1127.7,1393.0 1105.6,1395.5 1083.6,1397.6 1061.8,1399.8 1044.1,1401.9 1033.0,1406.5 1026.4,1412.9 1017.6,1415.0 1008.9,1412.9 995.8,1417.5 973.8,1420.5 951.7,1417.5 929.7,1412.9 907.9,1410.7 890.2,1412.0 903.5,1415.0 920.9,1416.2 929.7,1419.6 907.9,1420.5 894.5,1419.6 877.1,1421.7 863.7,1426.0 841.9,1427.2 819.9,1428.5 797.8,1430.6 789.1,1423.9 795.8,1416.2 765.0,1414.1 731.9,1412.0 696.8,1410.7" fill="#282828"/>
<polygon points="236.9,923.1 272.0,922.2 304.8,921.0 337.9,921.0 326.9,927.7 342.3,934.1 360.0,943.0 381.8,947.2 403.8,949.7 416.9,951.8 403.8,954.0 381.8,954.0 360.0,951.8 337.9,947.2 315.9,945.1 294.1,943.0 272.0,947.2 258.9,949.7 236.9,950.6" fill="#282828"/>
<polygon points="491.8,943.0 513.6,938.7 540.0,937.5 579.8,943.0 623.7,947.2 667.5,951.8 711.6,967.1 744.5,973.8 744.5,993.7 711.6,997.9 689.6,1002.2 678.5,1008.9 667.5,1004.7 656.5,1011.1 645.7,1019.9 634.7,1024.2 623.7,1019.9 612.6,1024.2 610.3,1037.3 601.6,1050.8 579.8,1061.7 557.7,1063.9 546.7,1072.7 535.7,1077.0 524.6,1079.2 513.6,1072.7 502.8,1068.2 491.8,1072.7 480.8,1077.0 469.8,1072.7 456.7,1068.2 461.0,1055.0 469.8,1050.8 478.5,1046.2 483.1,1037.3 487.5,1028.8 491.8,1019.9 500.5,1015.6 507.2,1006.8 502.8,993.7 509.3,984.8 513.6,976.0 500.5,971.7 496.2,958.2" fill="#282828"/>
<polygon points="412.6,1015.6 425.9,1010.1 447.7,1008.9 461.0,1013.2 463.1,1024.2 467.7,1035.2 461.0,1041.9 447.7,1035.2 436.9,1028.8 421.5,1028.8 412.6,1024.2" fill="#282828"/>
<polygon points="368.7,1044.0 381.8,1039.8 395.1,1041.9 408.2,1050.8 425.9,1048.3 430.3,1059.3 425.9,1068.2 432.3,1077.0 443.3,1083.7 456.7,1083.7 465.4,1090.1 478.5,1099.0 491.8,1101.1 498.2,1107.9 491.8,1112.1 483.1,1112.1 469.8,1107.9 461.0,1116.7 469.8,1121.0 480.8,1121.0 491.8,1118.8 498.2,1125.3 500.5,1136.3 491.8,1143.0 480.8,1149.7 458.7,1147.2 447.7,1151.8 425.9,1149.7 403.8,1151.8 390.8,1156.1 386.1,1165.0 373.1,1173.8 366.4,1184.8 355.6,1189.7 342.3,1190.3 322.5,1187.2 307.1,1185.1 285.1,1183.0 276.4,1186.9 272.0,1193.7 263.3,1197.9 236.9,1197.9 236.9,1074.9 258.9,1077.0 272.0,1079.2 285.1,1083.7 294.1,1090.1 307.1,1092.3 322.5,1092.3 342.3,1096.9 353.3,1088.0 364.3,1083.7 375.4,1085.9 381.8,1092.3 390.8,1085.9 386.1,1077.0 373.1,1072.7 368.7,1063.9 373.1,1055.0" fill="#282828"/>
<polygon points="236.9,1061.7 258.9,1059.3 272.0,1055.0 287.4,1052.9 294.1,1061.7 307.1,1068.2 315.9,1077.0 307.1,1083.7 294.1,1085.9 285.1,1083.7 272.0,1079.2 258.9,1077.0 236.9,1074.9" fill="#282828"/>
<polygon points="324.8,1046.2 333.6,1037.3 346.6,1035.2 355.6,1041.9 351.0,1050.8 337.9,1055.0 326.9,1059.3 318.2,1063.9 315.9,1055.0" fill="#282828"/>
<polygon points="315.9,1068.2 324.8,1063.9 333.6,1068.2 331.2,1074.9 320.2,1077.0" fill="#282828"/>
<polygon points="610.3,1132.0 623.7,1121.0 645.7,1114.3 667.5,1110.0 689.6,1107.9 711.6,1110.0 731.4,1111.8 731.4,1166.2 711.6,1165.0 678.5,1162.8 656.5,1158.2 641.1,1160.7 628.0,1151.8 614.9,1143.0" fill="#282828" stroke="#282828" stroke-width="16.0" stroke-linejoin="round"/>
<ellipse cx="436.9" cy="976.0" rx="3.3" ry="5.5" fill="#282828"/>
<polygon points="696.8,957.3 731.9,955.2 754.0,957.3 776.0,959.5 797.8,960.7 819.9,961.6 841.9,960.7 863.7,954.0 885.8,951.8 907.9,949.7 929.7,945.1 940.7,939.6 951.7,937.5 973.8,937.5 995.8,938.7 1017.6,937.5 1039.7,935.3 1061.8,934.1 1094.6,935.3 1116.6,940.8 1127.7,949.7 1123.1,960.7 1114.3,967.1 1101.3,973.8 1083.6,980.2 1070.5,984.8 1059.4,991.2 1052.8,982.7 1048.4,993.7 1039.7,997.9 1031.0,1002.2 1017.6,1006.8 1004.6,1004.7 991.2,997.9 982.5,997.9 984.8,1006.8 980.4,1017.8 971.5,1024.2 951.7,1013.2 943.0,1015.6 951.7,1024.2 947.4,1033.0 943.0,1041.9 951.7,1050.8 943.0,1063.9 934.3,1072.7 925.3,1081.3 918.9,1092.3 920.9,1103.3 927.6,1114.3 929.7,1125.3 934.3,1134.1 943.0,1138.7 951.7,1145.1 962.7,1151.8 969.4,1160.7 973.8,1169.2 962.7,1165.0 951.7,1158.2 943.0,1156.1 929.7,1158.2 918.9,1162.8 907.9,1158.2 899.1,1151.8 881.4,1151.8 863.7,1151.8 850.7,1152.7 833.0,1151.8 815.5,1149.7 815.5,1138.7 822.2,1129.8 815.5,1118.8 804.5,1114.3 806.8,1105.7 819.9,1101.1 826.5,1092.3 828.6,1077.0 837.6,1070.3 850.7,1068.2 863.7,1063.9 877.1,1068.2 885.8,1063.9 892.5,1055.0 890.2,1041.9 885.8,1028.8 890.2,1017.8 881.4,1013.2 872.7,1006.8 872.7,997.9 863.7,986.9 853.0,978.1 833.0,976.0 815.5,973.8 797.8,976.0 776.0,973.8 762.7,972.6 754.0,976.0 742.9,984.8 731.9,993.7 718.8,997.9 696.8,1000.1" fill="#282828"/>
<polygon points="956.1,924.3 995.8,922.2 1039.7,921.0 1077.1,922.2 1074.8,925.3 1039.7,925.0 995.8,926.5 958.4,927.1" fill="#282828"/>
<polygon points="1167.2,929.8 1175.9,924.3 1204.6,923.1 1204.6,947.2 1181.8,949.7 1171.5,943.0 1162.8,936.3" fill="#282828"/>
<polygon points="696.8,1114.3 718.8,1113.4 731.9,1121.0 727.5,1129.8 718.8,1132.0 696.8,1129.8" fill="#282828"/>
<polygon points="782.4,1151.8 793.5,1143.0 806.8,1138.7 811.2,1147.2 797.8,1154.0 784.7,1158.2" fill="#282828"/>
<polygon points="1006.6,1129.8 1017.6,1121.0 1028.7,1116.7 1035.3,1110.0 1039.7,1116.7 1033.0,1125.3 1039.7,1129.8 1026.4,1134.1 1017.6,1138.7 1008.9,1136.3" fill="#282828"/>
<ellipse cx="1062.8" cy="1103.3" rx="3.3" ry="3.3" fill="#282828"/>
<polygon points="1083.6,1107.9 1096.9,1099.0 1105.6,1092.3 1116.6,1088.0 1127.7,1092.3 1138.5,1085.9 1149.5,1079.2 1162.8,1077.0 1171.5,1081.3 1181.8,1079.2 1204.6,1077.0 1204.6,1092.3 1171.5,1092.3 1149.5,1094.7 1127.7,1099.0 1105.6,1107.9 1092.5,1118.8 1083.6,1129.8 1072.5,1140.8 1061.8,1147.2 1039.7,1151.8 1026.4,1154.0 1013.3,1149.7 1002.2,1143.0 1013.3,1140.8 1026.4,1143.0 1044.1,1138.7 1061.8,1129.8 1072.5,1121.0" fill="#282828"/>
<polygon points="1158.5,1061.7 1171.5,1055.0 1181.8,1052.9 1204.6,1052.9 1204.6,1077.0 1181.8,1079.2 1171.5,1081.3 1162.8,1077.0" fill="#282828"/>
<polygon points="991.2,1173.8 1004.6,1175.9 1017.6,1184.8 1026.4,1182.7 1031.0,1173.8 1026.4,1169.2 1013.3,1167.1 995.8,1165.0" fill="#282828"/>
<polygon points="797.8,1189.1 841.9,1187.2 885.8,1188.2 929.7,1189.1 940.7,1192.4 907.9,1192.4 863.7,1190.9 819.9,1191.8" fill="#282828"/>
<polygon points="346.6,1254.7 353.3,1245.9 362.0,1245.9 368.7,1254.7 372.0,1267.8 368.7,1274.6 355.6,1276.7 347.9,1270.0" fill="#282828" stroke="#282828" stroke-width="16.0" stroke-linejoin="round"/>
<polygon points="472.1,1265.7 478.5,1252.6 483.1,1243.7 500.5,1242.5 518.2,1238.2 529.0,1238.2 538.0,1243.7 546.7,1252.6 552.1,1267.8 552.1,1289.8 555.4,1303.0 555.4,1311.8 544.4,1317.3 531.3,1316.4 520.3,1309.7 507.2,1303.0 493.9,1298.7 489.5,1289.8 493.9,1281.0 489.5,1274.6 478.5,1272.4" fill="#282828" stroke="#282828" stroke-width="16.0" stroke-linejoin="round"/>
<polygon points="599.5,1267.8 610.3,1261.4 623.7,1263.6 630.3,1274.6 628.0,1289.8 623.7,1303.0 619.3,1311.8 606.0,1314.0 592.9,1309.7 579.8,1300.8 588.5,1294.4 597.2,1289.8 601.6,1278.8" fill="#282828" stroke="#282828" stroke-width="16.0" stroke-linejoin="round"/>
<polygon points="236.9,1296.6 272.0,1299.9 307.1,1302.0 320.2,1299.9 322.5,1305.4 315.9,1311.8 307.1,1318.5 294.1,1314.0 276.4,1311.8 258.9,1307.5 236.9,1305.4" fill="#282828" stroke="#282828" stroke-width="16.0" stroke-linejoin="round"/>
<polygon points="839.6,1223.9 863.7,1220.5 872.7,1226.0 881.4,1230.6 894.5,1239.5 907.9,1250.4 920.9,1259.0 929.7,1265.7 934.3,1274.6 940.7,1285.6 947.4,1298.7 956.1,1307.5 969.4,1314.0 982.5,1320.7 986.9,1324.9 973.8,1324.9 960.4,1320.7 947.4,1314.0 938.6,1303.0 929.7,1289.8 925.3,1276.7 916.6,1267.8 903.5,1259.0 890.2,1248.0 877.1,1239.5 863.7,1232.7 850.7,1228.5" fill="#282828"/>
<polygon points="1000.2,1307.5 1006.6,1305.4 1013.3,1314.0 1022.0,1320.7 1035.3,1320.7 1039.7,1327.4 1031.0,1333.8 1026.4,1342.7 1013.3,1342.7 1004.6,1344.8 1000.2,1338.4 1000.2,1322.8" fill="#282828"/>
<polygon points="1112.3,1230.6 1123.1,1226.0 1127.7,1239.5 1134.1,1245.9 1140.8,1256.9 1149.5,1267.8 1162.8,1274.6 1171.5,1285.6 1181.8,1293.2 1171.5,1296.6 1158.5,1289.8 1145.1,1281.0 1136.4,1270.0 1127.7,1259.0 1118.7,1245.9 1114.3,1237.0" fill="#282828"/>
<polygon points="696.8,1410.7 731.9,1412.0 765.0,1414.1 795.8,1416.2 789.1,1423.9 771.7,1430.6 754.0,1423.9 731.9,1419.6 696.8,1418.4" fill="#282828"/>
<polygon points="890.2,1412.0 907.9,1410.7 929.7,1412.9 951.7,1417.5 973.8,1420.5 995.8,1417.5 1008.9,1412.9 1017.6,1415.0 1026.4,1412.9 1033.0,1406.5 1044.1,1401.9 1061.8,1399.8 1083.6,1397.6 1105.6,1395.5 1127.7,1393.0 1149.5,1392.1 1171.5,1394.3 1181.8,1397.6 1204.6,1399.8 1204.6,1410.7 1149.5,1412.9 1105.6,1416.2 1083.6,1417.5 1087.9,1410.7 1052.8,1415.0 1039.7,1419.6 1035.3,1426.0 1004.6,1430.6 995.8,1434.9 984.8,1440.4 962.7,1439.4 951.7,1434.9 929.7,1430.6 907.9,1428.5 885.8,1427.2 863.7,1426.0 877.1,1421.7 894.5,1419.6 907.9,1420.5 929.7,1419.6 920.9,1416.2 903.5,1415.0" fill="#282828"/>
<polygon points="513.6,980.2 524.6,973.8 533.6,966.2 546.7,965.0 557.7,967.1 562.1,980.2 575.2,984.8 592.9,982.7 610.3,973.8 623.7,969.2 645.7,971.7 663.2,973.8 667.5,982.7 674.2,993.7 663.2,997.9 645.7,995.8 634.7,1002.2 645.7,1008.9 641.1,1013.2 623.7,1011.1 610.3,1006.8 597.2,1006.8 579.8,1002.2 562.1,1004.7 544.4,1006.8 531.3,1004.7 524.6,993.7" fill="#282828" stroke="#282828" stroke-width="12.0" stroke-linejoin="round"/>
<polygon points="509.3,1019.9 524.6,1017.8 546.7,1016.6 568.8,1015.6 590.6,1013.2 606.0,1019.9 606.0,1033.0 597.2,1041.9 584.2,1050.8 566.5,1055.0 549.0,1059.3 538.0,1068.2 529.0,1074.9 520.3,1068.2 511.6,1061.7 515.9,1050.8 511.6,1037.3" fill="#282828" stroke="#282828" stroke-width="12.0" stroke-linejoin="round"/>
<polygon points="485.1,1033.0 493.9,1028.8 502.8,1035.2 500.5,1044.0 491.8,1041.9" fill="#282828" stroke="#282828" stroke-width="12.0" stroke-linejoin="round"/>
<ellipse cx="480.8" cy="1050.8" rx="12.6" ry="10.0" fill="#282828"/>
<polygon points="454.4,1068.2 461.0,1061.7 474.1,1055.0 491.8,1052.9 509.3,1055.0 504.9,1063.9 491.8,1068.2 478.5,1072.7 465.4,1074.9 456.7,1073.7" fill="#282828" stroke="#282828" stroke-width="12.0" stroke-linejoin="round"/>
<polygon points="461.0,1083.7 474.1,1079.2 491.8,1077.0 504.9,1083.7 509.3,1090.1 500.5,1096.9 487.5,1099.0 474.1,1094.7" fill="#282828" stroke="#282828" stroke-width="12.0" stroke-linejoin="round"/>
<polygon points="236.9,1083.7 258.9,1083.7 272.0,1085.9 283.0,1088.0 294.1,1094.7 307.1,1096.9 322.5,1096.9 342.3,1099.0 353.3,1090.1 364.3,1085.9 375.4,1088.0 381.8,1096.9 390.8,1094.7 399.5,1092.3 408.2,1099.0 416.9,1092.3 430.3,1085.9 443.3,1083.7 452.3,1090.1 456.7,1101.1 458.7,1112.1 461.0,1121.0 469.8,1127.7 480.8,1125.3 491.8,1127.7 498.2,1134.1 496.2,1140.8 483.1,1143.0 469.8,1138.7 458.7,1143.0 447.7,1147.2 430.3,1138.7 416.9,1143.0 403.8,1147.2 390.8,1151.8 377.4,1154.0 368.7,1158.2 364.3,1169.2 355.6,1173.8 348.9,1181.4 340.2,1184.8 322.5,1182.7 307.1,1180.8 285.1,1178.7 272.0,1174.7 258.9,1169.2 236.9,1167.7" fill="#282828" stroke="#282828" stroke-width="12.0" stroke-linejoin="round"/>
<polygon points="392.8,1068.2 403.8,1063.9 416.9,1063.9 421.5,1072.7 412.6,1079.2 401.5,1077.0" fill="#282828" stroke="#282828" stroke-width="12.0" stroke-linejoin="round"/>
<polygon points="395.1,1083.7 401.5,1081.3 403.8,1090.1 397.2,1092.3" fill="#282828" stroke="#282828" stroke-width="12.0" stroke-linejoin="round"/>
<ellipse cx="280.7" cy="1067.2" rx="8.6" ry="10.0" fill="#282828"/>
<polygon points="868.4,954.0 885.8,950.6 907.9,948.5 929.7,947.2 951.7,945.1 973.8,947.2 995.8,943.0 1017.6,941.8 1039.7,940.8 1061.8,940.8 1083.6,943.0 1096.9,949.7 1099.0,960.7 1087.9,967.1 1074.8,969.2 1070.5,976.0 1061.8,980.2 1052.8,976.0 1048.4,984.8 1035.3,984.8 1026.4,989.1 1013.3,986.9 995.8,984.8 982.5,986.9 973.8,982.7 960.4,986.9 951.7,993.7 945.1,991.2 951.7,984.8 943.0,976.0 929.7,973.8 916.6,976.0 907.9,971.7 903.5,965.0 890.2,962.8 877.1,961.6" fill="#282828" stroke="#282828" stroke-width="12.0" stroke-linejoin="round"/>
<polygon points="907.9,1039.8 916.6,1035.2 929.7,1039.8 934.3,1050.8 936.3,1061.7 929.7,1066.0 920.9,1068.2 914.3,1059.3 912.2,1048.3" fill="#282828" stroke="#282828" stroke-width="12.0" stroke-linejoin="round"/>
<polygon points="837.6,1081.3 846.3,1074.9 863.7,1072.7 877.1,1077.0 885.8,1072.7 894.5,1077.0 899.1,1085.9 907.9,1092.3 912.2,1103.3 918.9,1107.9 920.9,1118.8 927.6,1125.3 929.7,1134.1 938.6,1140.8 947.4,1147.2 960.4,1154.0 969.4,1162.8 962.7,1162.8 951.7,1156.1 943.0,1154.0 929.7,1156.1 918.9,1160.7 907.9,1156.1 899.1,1149.7 881.4,1149.7 863.7,1149.7 850.7,1150.6 855.0,1138.7 859.4,1129.8 850.7,1123.1 841.9,1121.0 839.6,1107.9 835.3,1094.7" fill="#282828" stroke="#282828" stroke-width="12.0" stroke-linejoin="round"/>
<ellipse cx="828.6" cy="1112.1" rx="10.8" ry="13.7" fill="#282828"/>
<polygon points="1035.3,1151.8 1052.8,1147.2 1070.5,1140.8 1083.6,1129.8 1092.5,1118.8 1105.6,1107.9 1112.3,1094.7 1127.7,1092.3 1140.8,1094.7 1149.5,1099.0 1162.8,1096.9 1171.5,1092.3 1204.6,1092.3 1204.6,1173.8 1181.8,1175.9 1171.5,1173.8 1162.8,1169.2 1149.5,1171.7 1127.7,1173.8 1105.6,1172.6 1083.6,1171.7 1061.8,1169.2 1039.7,1167.1 1033.0,1158.2" fill="#282828" stroke="#282828" stroke-width="12.0" stroke-linejoin="round"/>
<polygon points="969.4,1151.8 980.4,1147.2 993.5,1149.7 1000.2,1154.0 1017.6,1158.2 1026.4,1162.8 1022.0,1169.2 1013.3,1166.2 995.8,1163.7 991.2,1171.7 984.8,1169.2 978.1,1162.8 971.5,1158.2" fill="#282828" stroke="#282828" stroke-width="12.0" stroke-linejoin="round"/>
<polygon points="934.3,1160.7 947.4,1156.1 960.4,1160.7 969.4,1166.2 973.8,1171.7 965.1,1170.4 951.7,1165.0 938.6,1165.0" fill="#282828" stroke="#282828" stroke-width="12.0" stroke-linejoin="round"/>
<ellipse cx="903.5" cy="1189.7" rx="9.6" ry="4.5" fill="#282828"/>
<ellipse cx="710.1" cy="1147.2" rx="9.3" ry="10.4" fill="#282828"/>
<polygon points="236.9,1209.5 263.3,1209.5 283.0,1212.9 294.1,1221.7 296.1,1234.9 291.7,1245.9 297.1,1259.0 302.8,1272.4 310.5,1285.6 315.9,1296.6 307.1,1298.7 294.1,1299.9 272.0,1296.6 258.9,1294.4 236.9,1293.2" fill="#282828" stroke="#282828" stroke-width="28.0" stroke-linejoin="round"/>
<polygon points="351.0,1256.9 357.7,1250.4 364.3,1254.7 368.7,1263.6 366.4,1270.0 355.6,1271.2 350.0,1265.7" fill="#282828" stroke="#282828" stroke-width="12.0" stroke-linejoin="round"/>
<polygon points="485.1,1250.4 500.5,1247.1 513.6,1243.7 524.6,1241.6 533.6,1245.9 542.3,1254.7 547.7,1267.8 549.0,1283.4 546.7,1298.7 544.4,1309.7 535.7,1311.8 527.0,1305.4 518.2,1298.7 509.3,1294.4 502.8,1285.6 500.5,1272.4 493.9,1261.4" fill="#282828" stroke="#282828" stroke-width="12.0" stroke-linejoin="round"/>
<polygon points="236.9,1416.2 272.0,1416.2 304.8,1414.1 337.9,1410.7 364.3,1407.4 390.8,1404.0 412.6,1401.9 432.3,1401.9 439.0,1407.4 447.7,1405.2 469.8,1404.0 491.8,1401.9 513.6,1401.9 535.7,1403.1 557.7,1406.5 579.8,1406.5 601.6,1406.5 623.7,1406.5 645.7,1408.6 667.5,1410.7 689.6,1415.0 700.6,1421.7 744.5,1421.7 744.5,1487.7 236.9,1487.7" fill="#282828" stroke="#282828" stroke-width="28.0" stroke-linejoin="round"/>
<ellipse cx="612.6" cy="1295.3" rx="12.6" ry="9.3" fill="#282828"/>
<ellipse cx="604.9" cy="1304.2" rx="8.6" ry="9.3" fill="#282828"/>
<polygon points="863.7,1223.0 885.8,1219.6 907.9,1216.2 929.7,1214.1 951.7,1212.9 973.8,1212.9 980.4,1221.7 991.2,1232.7 1002.2,1245.9 1003.5,1267.8 1000.2,1289.8 995.8,1307.5 991.2,1318.5 982.5,1320.7 969.4,1314.0 956.1,1307.5 947.4,1298.7 940.7,1285.6 934.3,1274.6 929.7,1265.7 920.9,1259.0 907.9,1250.4 894.5,1239.5 881.4,1230.6 872.7,1226.0" fill="#282828"/>
<polygon points="1123.1,1230.6 1127.7,1221.7 1140.8,1215.0 1160.5,1210.8 1181.8,1208.6 1204.6,1208.6 1204.6,1294.4 1181.8,1293.2 1171.5,1285.6 1162.8,1274.6 1149.5,1267.8 1140.8,1256.9 1134.1,1245.9 1127.7,1239.5" fill="#282828"/>
<polygon points="696.8,1418.4 731.9,1419.6 754.0,1423.9 771.7,1430.6 797.8,1430.6 819.9,1428.5 841.9,1427.2 863.7,1426.0 885.8,1427.2 907.9,1428.5 929.7,1430.6 951.7,1434.9 962.7,1439.4 984.8,1440.4 995.8,1434.9 1004.6,1430.6 1017.6,1428.5 1035.3,1426.0 1039.7,1419.6 1052.8,1415.0 1070.5,1412.9 1087.9,1410.7 1083.6,1417.5 1105.6,1416.2 1127.7,1414.1 1149.5,1412.9 1181.8,1410.7 1204.6,1410.7 1204.6,1487.7 696.8,1487.7" fill="#282828" stroke="#282828" stroke-width="12.0" stroke-linejoin="round"/>
<ellipse cx="1003.5" cy="1331.7" rx="2.6" ry="4.8" fill="#282828"/>
<polygon points="236.9,923.1 272.0,922.2 304.8,921.0 337.9,921.0 326.9,927.7 342.3,934.1 360.0,943.0 381.8,947.2 403.8,949.7 416.9,951.8 403.8,954.0 381.8,954.0 360.0,951.8 337.9,947.2 315.9,945.1 294.1,943.0 272.0,947.2 258.9,949.7 236.9,950.6" fill="#181818"/>
<polygon points="491.8,943.0 513.6,938.7 540.0,937.5 579.8,943.0 623.7,947.2 667.5,951.8 711.6,967.1 744.5,973.8 744.5,993.7 711.6,997.9 689.6,1002.2 678.5,1008.9 667.5,1004.7 656.5,1011.1 645.7,1019.9 634.7,1024.2 623.7,1019.9 612.6,1024.2 610.3,1037.3 601.6,1050.8 579.8,1061.7 557.7,1063.9 546.7,1072.7 535.7,1077.0 524.6,1079.2 513.6,1072.7 502.8,1068.2 491.8,1072.7 480.8,1077.0 469.8,1072.7 456.7,1068.2 461.0,1055.0 469.8,1050.8 478.5,1046.2 483.1,1037.3 487.5,1028.8 491.8,1019.9 500.5,1015.6 507.2,1006.8 502.8,993.7 509.3,984.8 513.6,976.0 500.5,971.7 496.2,958.2" fill="#181818"/>
<polygon points="412.6,1015.6 425.9,1010.1 447.7,1008.9 461.0,1013.2 463.1,1024.2 467.7,1035.2 461.0,1041.9 447.7,1035.2 436.9,1028.8 421.5,1028.8 412.6,1024.2" fill="#181818"/>
<polygon points="368.7,1044.0 381.8,1039.8 395.1,1041.9 408.2,1050.8 425.9,1048.3 430.3,1059.3 425.9,1068.2 432.3,1077.0 443.3,1083.7 456.7,1083.7 465.4,1090.1 478.5,1099.0 491.8,1101.1 498.2,1107.9 491.8,1112.1 483.1,1112.1 469.8,1107.9 461.0,1116.7 469.8,1121.0 480.8,1121.0 491.8,1118.8 498.2,1125.3 500.5,1136.3 491.8,1143.0 480.8,1149.7 458.7,1147.2 447.7,1151.8 425.9,1149.7 403.8,1151.8 390.8,1156.1 386.1,1165.0 373.1,1173.8 366.4,1184.8 355.6,1189.7 342.3,1190.3 322.5,1187.2 307.1,1185.1 285.1,1183.0 276.4,1186.9 272.0,1193.7 263.3,1197.9 236.9,1197.9 236.9,1074.9 258.9,1077.0 272.0,1079.2 285.1,1083.7 294.1,1090.1 307.1,1092.3 322.5,1092.3 342.3,1096.9 353.3,1088.0 364.3,1083.7 375.4,1085.9 381.8,1092.3 390.8,1085.9 386.1,1077.0 373.1,1072.7 368.7,1063.9 373.1,1055.0" fill="#181818"/>
<polygon points="236.9,1061.7 258.9,1059.3 272.0,1055.0 287.4,1052.9 294.1,1061.7 307.1,1068.2 315.9,1077.0 307.1,1083.7 294.1,1085.9 285.1,1083.7 272.0,1079.2 258.9,1077.0 236.9,1074.9" fill="#181818"/>
<polygon points="324.8,1046.2 333.6,1037.3 346.6,1035.2 355.6,1041.9 351.0,1050.8 337.9,1055.0 326.9,1059.3 318.2,1063.9 315.9,1055.0" fill="#181818"/>
<polygon points="315.9,1068.2 324.8,1063.9 333.6,1068.2 331.2,1074.9 320.2,1077.0" fill="#181818"/>
<polygon points="610.3,1132.0 623.7,1121.0 645.7,1114.3 667.5,1110.0 689.6,1107.9 711.6,1110.0 731.4,1111.8 731.4,1166.2 711.6,1165.0 678.5,1162.8 656.5,1158.2 641.1,1160.7 628.0,1151.8 614.9,1143.0" fill="#181818"/>
<ellipse cx="436.9" cy="976.0" rx="3.3" ry="5.5" fill="#181818"/>
<polygon points="696.8,957.3 731.9,955.2 754.0,957.3 776.0,959.5 797.8,960.7 819.9,961.6 841.9,960.7 863.7,954.0 885.8,951.8 907.9,949.7 929.7,945.1 940.7,939.6 951.7,937.5 973.8,937.5 995.8,938.7 1017.6,937.5 1039.7,935.3 1061.8,934.1 1094.6,935.3 1116.6,940.8 1127.7,949.7 1123.1,960.7 1114.3,967.1 1101.3,973.8 1083.6,980.2 1070.5,984.8 1059.4,991.2 1052.8,982.7 1048.4,993.7 1039.7,997.9 1031.0,1002.2 1017.6,1006.8 1004.6,1004.7 991.2,997.9 982.5,997.9 984.8,1006.8 980.4,1017.8 971.5,1024.2 951.7,1013.2 943.0,1015.6 951.7,1024.2 947.4,1033.0 943.0,1041.9 951.7,1050.8 943.0,1063.9 934.3,1072.7 925.3,1081.3 918.9,1092.3 920.9,1103.3 927.6,1114.3 929.7,1125.3 934.3,1134.1 943.0,1138.7 951.7,1145.1 962.7,1151.8 969.4,1160.7 973.8,1169.2 962.7,1165.0 951.7,1158.2 943.0,1156.1 929.7,1158.2 918.9,1162.8 907.9,1158.2 899.1,1151.8 881.4,1151.8 863.7,1151.8 850.7,1152.7 833.0,1151.8 815.5,1149.7 815.5,1138.7 822.2,1129.8 815.5,1118.8 804.5,1114.3 806.8,1105.7 819.9,1101.1 826.5,1092.3 828.6,1077.0 837.6,1070.3 850.7,1068.2 863.7,1063.9 877.1,1068.2 885.8,1063.9 892.5,1055.0 890.2,1041.9 885.8,1028.8 890.2,1017.8 881.4,1013.2 872.7,1006.8 872.7,997.9 863.7,986.9 853.0,978.1 833.0,976.0 815.5,973.8 797.8,976.0 776.0,973.8 762.7,972.6 754.0,976.0 742.9,984.8 731.9,993.7 718.8,997.9 696.8,1000.1" fill="#181818"/>
<polygon points="956.1,924.3 995.8,922.2 1039.7,921.0 1077.1,922.2 1074.8,925.3 1039.7,925.0 995.8,926.5 958.4,927.1" fill="#181818"/>
<polygon points="1167.2,929.8 1175.9,924.3 1204.6,923.1 1204.6,947.2 1181.8,949.7 1171.5,943.0 1162.8,936.3" fill="#181818"/>
<polygon points="696.8,1114.3 718.8,1113.4 731.9,1121.0 727.5,1129.8 718.8,1132.0 696.8,1129.8" fill="#181818"/>
<polygon points="782.4,1151.8 793.5,1143.0 806.8,1138.7 811.2,1147.2 797.8,1154.0 784.7,1158.2" fill="#181818"/>
<polygon points="1006.6,1129.8 1017.6,1121.0 1028.7,1116.7 1035.3,1110.0 1039.7,1116.7 1033.0,1125.3 1039.7,1129.8 1026.4,1134.1 1017.6,1138.7 1008.9,1136.3" fill="#181818"/>
<ellipse cx="1062.8" cy="1103.3" rx="3.3" ry="3.3" fill="#181818"/>
<polygon points="1083.6,1107.9 1096.9,1099.0 1105.6,1092.3 1116.6,1088.0 1127.7,1092.3 1138.5,1085.9 1149.5,1079.2 1162.8,1077.0 1171.5,1081.3 1181.8,1079.2 1204.6,1077.0 1204.6,1092.3 1171.5,1092.3 1149.5,1094.7 1127.7,1099.0 1105.6,1107.9 1092.5,1118.8 1083.6,1129.8 1072.5,1140.8 1061.8,1147.2 1039.7,1151.8 1026.4,1154.0 1013.3,1149.7 1002.2,1143.0 1013.3,1140.8 1026.4,1143.0 1044.1,1138.7 1061.8,1129.8 1072.5,1121.0" fill="#181818"/>
<polygon points="1158.5,1061.7 1171.5,1055.0 1181.8,1052.9 1204.6,1052.9 1204.6,1077.0 1181.8,1079.2 1171.5,1081.3 1162.8,1077.0" fill="#181818"/>
<polygon points="991.2,1173.8 1004.6,1175.9 1017.6,1184.8 1026.4,1182.7 1031.0,1173.8 1026.4,1169.2 1013.3,1167.1 995.8,1165.0" fill="#181818"/>
<polygon points="797.8,1189.1 841.9,1187.2 885.8,1188.2 929.7,1189.1 940.7,1192.4 907.9,1192.4 863.7,1190.9 819.9,1191.8" fill="#181818"/>
<polygon points="346.6,1254.7 353.3,1245.9 362.0,1245.9 368.7,1254.7 372.0,1267.8 368.7,1274.6 355.6,1276.7 347.9,1270.0" fill="#181818"/>
<polygon points="472.1,1265.7 478.5,1252.6 483.1,1243.7 500.5,1242.5 518.2,1238.2 529.0,1238.2 538.0,1243.7 546.7,1252.6 552.1,1267.8 552.1,1289.8 555.4,1303.0 555.4,1311.8 544.4,1317.3 531.3,1316.4 520.3,1309.7 507.2,1303.0 493.9,1298.7 489.5,1289.8 493.9,1281.0 489.5,1274.6 478.5,1272.4" fill="#181818"/>
<polygon points="599.5,1267.8 610.3,1261.4 623.7,1263.6 630.3,1274.6 628.0,1289.8 623.7,1303.0 619.3,1311.8 606.0,1314.0 592.9,1309.7 579.8,1300.8 588.5,1294.4 597.2,1289.8 601.6,1278.8" fill="#181818"/>
<polygon points="236.9,1296.6 272.0,1299.9 307.1,1302.0 320.2,1299.9 322.5,1305.4 315.9,1311.8 307.1,1318.5 294.1,1314.0 276.4,1311.8 258.9,1307.5 236.9,1305.4" fill="#181818"/>
<polygon points="839.6,1223.9 863.7,1220.5 872.7,1226.0 881.4,1230.6 894.5,1239.5 907.9,1250.4 920.9,1259.0 929.7,1265.7 934.3,1274.6 940.7,1285.6 947.4,1298.7 956.1,1307.5 969.4,1314.0 982.5,1320.7 986.9,1324.9 973.8,1324.9 960.4,1320.7 947.4,1314.0 938.6,1303.0 929.7,1289.8 925.3,1276.7 916.6,1267.8 903.5,1259.0 890.2,1248.0 877.1,1239.5 863.7,1232.7 850.7,1228.5" fill="#181818"/>
<polygon points="1000.2,1307.5 1006.6,1305.4 1013.3,1314.0 1022.0,1320.7 1035.3,1320.7 1039.7,1327.4 1031.0,1333.8 1026.4,1342.7 1013.3,1342.7 1004.6,1344.8 1000.2,1338.4 1000.2,1322.8" fill="#181818"/>
<polygon points="1112.3,1230.6 1123.1,1226.0 1127.7,1239.5 1134.1,1245.9 1140.8,1256.9 1149.5,1267.8 1162.8,1274.6 1171.5,1285.6 1181.8,1293.2 1171.5,1296.6 1158.5,1289.8 1145.1,1281.0 1136.4,1270.0 1127.7,1259.0 1118.7,1245.9 1114.3,1237.0" fill="#181818"/>
<polygon points="696.8,1410.7 731.9,1412.0 765.0,1414.1 795.8,1416.2 789.1,1423.9 771.7,1430.6 754.0,1423.9 731.9,1419.6 696.8,1418.4" fill="#181818"/>
<polygon points="890.2,1412.0 907.9,1410.7 929.7,1412.9 951.7,1417.5 973.8,1420.5 995.8,1417.5 1008.9,1412.9 1017.6,1415.0 1026.4,1412.9 1033.0,1406.5 1044.1,1401.9 1061.8,1399.8 1083.6,1397.6 1105.6,1395.5 1127.7,1393.0 1149.5,1392.1 1171.5,1394.3 1181.8,1397.6 1204.6,1399.8 1204.6,1410.7 1149.5,1412.9 1105.6,1416.2 1083.6,1417.5 1087.9,1410.7 1052.8,1415.0 1039.7,1419.6 1035.3,1426.0 1004.6,1430.6 995.8,1434.9 984.8,1440.4 962.7,1439.4 951.7,1434.9 929.7,1430.6 907.9,1428.5 885.8,1427.2 863.7,1426.0 877.1,1421.7 894.5,1419.6 907.9,1420.5 929.7,1419.6 920.9,1416.2 903.5,1415.0" fill="#181818"/>
<polygon points="513.6,980.2 524.6,973.8 533.6,966.2 546.7,965.0 557.7,967.1 562.1,980.2 575.2,984.8 592.9,982.7 610.3,973.8 623.7,969.2 645.7,971.7 663.2,973.8 667.5,982.7 674.2,993.7 663.2,997.9 645.7,995.8 634.7,1002.2 645.7,1008.9 641.1,1013.2 623.7,1011.1 610.3,1006.8 597.2,1006.8 579.8,1002.2 562.1,1004.7 544.4,1006.8 531.3,1004.7 524.6,993.7" fill="#181818" stroke="#181818" stroke-width="12.0" stroke-linejoin="round"/>
<polygon points="509.3,1019.9 524.6,1017.8 546.7,1016.6 568.8,1015.6 590.6,1013.2 606.0,1019.9 606.0,1033.0 597.2,1041.9 584.2,1050.8 566.5,1055.0 549.0,1059.3 538.0,1068.2 529.0,1074.9 520.3,1068.2 511.6,1061.7 515.9,1050.8 511.6,1037.3" fill="#181818" stroke="#181818" stroke-width="12.0" stroke-linejoin="round"/>
<polygon points="485.1,1033.0 493.9,1028.8 502.8,1035.2 500.5,1044.0 491.8,1041.9" fill="#181818" stroke="#181818" stroke-width="12.0" stroke-linejoin="round"/>
<ellipse cx="480.8" cy="1050.8" rx="12.6" ry="10.0" fill="#181818"/>
<polygon points="454.4,1068.2 461.0,1061.7 474.1,1055.0 491.8,1052.9 509.3,1055.0 504.9,1063.9 491.8,1068.2 478.5,1072.7 465.4,1074.9 456.7,1073.7" fill="#181818" stroke="#181818" stroke-width="12.0" stroke-linejoin="round"/>
<polygon points="461.0,1083.7 474.1,1079.2 491.8,1077.0 504.9,1083.7 509.3,1090.1 500.5,1096.9 487.5,1099.0 474.1,1094.7" fill="#181818" stroke="#181818" stroke-width="12.0" stroke-linejoin="round"/>
<polygon points="236.9,1083.7 258.9,1083.7 272.0,1085.9 283.0,1088.0 294.1,1094.7 307.1,1096.9 322.5,1096.9 342.3,1099.0 353.3,1090.1 364.3,1085.9 375.4,1088.0 381.8,1096.9 390.8,1094.7 399.5,1092.3 408.2,1099.0 416.9,1092.3 430.3,1085.9 443.3,1083.7 452.3,1090.1 456.7,1101.1 458.7,1112.1 461.0,1121.0 469.8,1127.7 480.8,1125.3 491.8,1127.7 498.2,1134.1 496.2,1140.8 483.1,1143.0 469.8,1138.7 458.7,1143.0 447.7,1147.2 430.3,1138.7 416.9,1143.0 403.8,1147.2 390.8,1151.8 377.4,1154.0 368.7,1158.2 364.3,1169.2 355.6,1173.8 348.9,1181.4 340.2,1184.8 322.5,1182.7 307.1,1180.8 285.1,1178.7 272.0,1174.7 258.9,1169.2 236.9,1167.7" fill="#181818" stroke="#181818" stroke-width="12.0" stroke-linejoin="round"/>
<polygon points="392.8,1068.2 403.8,1063.9 416.9,1063.9 421.5,1072.7 412.6,1079.2 401.5,1077.0" fill="#181818" stroke="#181818" stroke-width="12.0" stroke-linejoin="round"/>
<polygon points="395.1,1083.7 401.5,1081.3 403.8,1090.1 397.2,1092.3" fill="#181818" stroke="#181818" stroke-width="12.0" stroke-linejoin="round"/>
<ellipse cx="280.7" cy="1067.2" rx="8.6" ry="10.0" fill="#181818"/>
<polygon points="868.4,954.0 885.8,950.6 907.9,948.5 929.7,947.2 951.7,945.1 973.8,947.2 995.8,943.0 1017.6,941.8 1039.7,940.8 1061.8,940.8 1083.6,943.0 1096.9,949.7 1099.0,960.7 1087.9,967.1 1074.8,969.2 1070.5,976.0 1061.8,980.2 1052.8,976.0 1048.4,984.8 1035.3,984.8 1026.4,989.1 1013.3,986.9 995.8,984.8 982.5,986.9 973.8,982.7 960.4,986.9 951.7,993.7 945.1,991.2 951.7,984.8 943.0,976.0 929.7,973.8 916.6,976.0 907.9,971.7 903.5,965.0 890.2,962.8 877.1,961.6" fill="#181818" stroke="#181818" stroke-width="12.0" stroke-linejoin="round"/>
<polygon points="907.9,1039.8 916.6,1035.2 929.7,1039.8 934.3,1050.8 936.3,1061.7 929.7,1066.0 920.9,1068.2 914.3,1059.3 912.2,1048.3" fill="#181818" stroke="#181818" stroke-width="12.0" stroke-linejoin="round"/>
<polygon points="837.6,1081.3 846.3,1074.9 863.7,1072.7 877.1,1077.0 885.8,1072.7 894.5,1077.0 899.1,1085.9 907.9,1092.3 912.2,1103.3 918.9,1107.9 920.9,1118.8 927.6,1125.3 929.7,1134.1 938.6,1140.8 947.4,1147.2 960.4,1154.0 969.4,1162.8 962.7,1162.8 951.7,1156.1 943.0,1154.0 929.7,1156.1 918.9,1160.7 907.9,1156.1 899.1,1149.7 881.4,1149.7 863.7,1149.7 850.7,1150.6 855.0,1138.7 859.4,1129.8 850.7,1123.1 841.9,1121.0 839.6,1107.9 835.3,1094.7" fill="#181818" stroke="#181818" stroke-width="12.0" stroke-linejoin="round"/>
<ellipse cx="828.6" cy="1112.1" rx="10.8" ry="13.7" fill="#181818"/>
<polygon points="1035.3,1151.8 1052.8,1147.2 1070.5,1140.8 1083.6,1129.8 1092.5,1118.8 1105.6,1107.9 1112.3,1094.7 1127.7,1092.3 1140.8,1094.7 1149.5,1099.0 1162.8,1096.9 1171.5,1092.3 1204.6,1092.3 1204.6,1173.8 1181.8,1175.9 1171.5,1173.8 1162.8,1169.2 1149.5,1171.7 1127.7,1173.8 1105.6,1172.6 1083.6,1171.7 1061.8,1169.2 1039.7,1167.1 1033.0,1158.2" fill="#181818" stroke="#181818" stroke-width="12.0" stroke-linejoin="round"/>
<polygon points="969.4,1151.8 980.4,1147.2 993.5,1149.7 1000.2,1154.0 1017.6,1158.2 1026.4,1162.8 1022.0,1169.2 1013.3,1166.2 995.8,1163.7 991.2,1171.7 984.8,1169.2 978.1,1162.8 971.5,1158.2" fill="#181818" stroke="#181818" stroke-width="12.0" stroke-linejoin="round"/>
<polygon points="934.3,1160.7 947.4,1156.1 960.4,1160.7 969.4,1166.2 973.8,1171.7 965.1,1170.4 951.7,1165.0 938.6,1165.0" fill="#181818" stroke="#181818" stroke-width="12.0" stroke-linejoin="round"/>
<ellipse cx="903.5" cy="1189.7" rx="9.6" ry="4.5" fill="#181818"/>
<ellipse cx="710.1" cy="1147.2" rx="9.3" ry="10.4" fill="#181818"/>
<polygon points="236.9,1209.5 263.3,1209.5 283.0,1212.9 294.1,1221.7 296.1,1234.9 291.7,1245.9 297.1,1259.0 302.8,1272.4 310.5,1285.6 315.9,1296.6 307.1,1298.7 294.1,1299.9 272.0,1296.6 258.9,1294.4 236.9,1293.2" fill="#181818" stroke="#181818" stroke-width="12.0" stroke-linejoin="round"/>
<polygon points="351.0,1256.9 357.7,1250.4 364.3,1254.7 368.7,1263.6 366.4,1270.0 355.6,1271.2 350.0,1265.7" fill="#181818" stroke="#181818" stroke-width="12.0" stroke-linejoin="round"/>
<polygon points="485.1,1250.4 500.5,1247.1 513.6,1243.7 524.6,1241.6 533.6,1245.9 542.3,1254.7 547.7,1267.8 549.0,1283.4 546.7,1298.7 544.4,1309.7 535.7,1311.8 527.0,1305.4 518.2,1298.7 509.3,1294.4 502.8,1285.6 500.5,1272.4 493.9,1261.4" fill="#181818" stroke="#181818" stroke-width="12.0" stroke-linejoin="round"/>
<polygon points="236.9,1416.2 272.0,1416.2 304.8,1414.1 337.9,1410.7 364.3,1407.4 390.8,1404.0 412.6,1401.9 432.3,1401.9 439.0,1407.4 447.7,1405.2 469.8,1404.0 491.8,1401.9 513.6,1401.9 535.7,1403.1 557.7,1406.5 579.8,1406.5 601.6,1406.5 623.7,1406.5 645.7,1408.6 667.5,1410.7 689.6,1415.0 700.6,1421.7 744.5,1421.7 744.5,1487.7 236.9,1487.7" fill="#181818" stroke="#181818" stroke-width="12.0" stroke-linejoin="round"/>
<ellipse cx="612.6" cy="1295.3" rx="12.6" ry="9.3" fill="#181818"/>
<ellipse cx="604.9" cy="1304.2" rx="8.6" ry="9.3" fill="#181818"/>
<polygon points="863.7,1223.0 885.8,1219.6 907.9,1216.2 929.7,1214.1 951.7,1212.9 973.8,1212.9 980.4,1221.7 991.2,1232.7 1002.2,1245.9 1003.5,1267.8 1000.2,1289.8 995.8,1307.5 991.2,1318.5 982.5,1320.7 969.4,1314.0 956.1,1307.5 947.4,1298.7 940.7,1285.6 934.3,1274.6 929.7,1265.7 920.9,1259.0 907.9,1250.4 894.5,1239.5 881.4,1230.6 872.7,1226.0" fill="#181818"/>
<polygon points="1123.1,1230.6 1127.7,1221.7 1140.8,1215.0 1160.5,1210.8 1181.8,1208.6 1204.6,1208.6 1204.6,1294.4 1181.8,1293.2 1171.5,1285.6 1162.8,1274.6 1149.5,1267.8 1140.8,1256.9 1134.1,1245.9 1127.7,1239.5" fill="#181818"/>
<polygon points="696.8,1418.4 731.9,1419.6 754.0,1423.9 771.7,1430.6 797.8,1430.6 819.9,1428.5 841.9,1427.2 863.7,1426.0 885.8,1427.2 907.9,1428.5 929.7,1430.6 951.7,1434.9 962.7,1439.4 984.8,1440.4 995.8,1434.9 1004.6,1430.6 1017.6,1428.5 1035.3,1426.0 1039.7,1419.6 1052.8,1415.0 1070.5,1412.9 1087.9,1410.7 1083.6,1417.5 1105.6,1416.2 1127.7,1414.1 1149.5,1412.9 1181.8,1410.7 1204.6,1410.7 1204.6,1487.7 696.8,1487.7" fill="#181818" stroke="#181818" stroke-width="12.0" stroke-linejoin="round"/>
<ellipse cx="1003.5" cy="1331.7" rx="2.6" ry="4.8" fill="#181818"/>
<polygon points="513.6,980.2 524.6,973.8 533.6,966.2 546.7,965.0 557.7,967.1 562.1,980.2 575.2,984.8 592.9,982.7 610.3,973.8 623.7,969.2 645.7,971.7 663.2,973.8 667.5,982.7 674.2,993.7 663.2,997.9 645.7,995.8 634.7,1002.2 645.7,1008.9 641.1,1013.2 623.7,1011.1 610.3,1006.8 597.2,1006.8 579.8,1002.2 562.1,1004.7 544.4,1006.8 531.3,1004.7 524.6,993.7" fill="#060606"/>
<polygon points="509.3,1019.9 524.6,1017.8 546.7,1016.6 568.8,1015.6 590.6,1013.2 606.0,1019.9 606.0,1033.0 597.2,1041.9 584.2,1050.8 566.5,1055.0 549.0,1059.3 538.0,1068.2 529.0,1074.9 520.3,1068.2 511.6,1061.7 515.9,1050.8 511.6,1037.3" fill="#060606"/>
<polygon points="485.1,1033.0 493.9,1028.8 502.8,1035.2 500.5,1044.0 491.8,1041.9" fill="#060606"/>
<ellipse cx="480.8" cy="1050.8" rx="6.6" ry="4.0" fill="#060606"/>
<polygon points="454.4,1068.2 461.0,1061.7 474.1,1055.0 491.8,1052.9 509.3,1055.0 504.9,1063.9 491.8,1068.2 478.5,1072.7 465.4,1074.9 456.7,1073.7" fill="#060606"/>
<polygon points="461.0,1083.7 474.1,1079.2 491.8,1077.0 504.9,1083.7 509.3,1090.1 500.5,1096.9 487.5,1099.0 474.1,1094.7" fill="#060606"/>
<polygon points="236.9,1083.7 258.9,1083.7 272.0,1085.9 283.0,1088.0 294.1,1094.7 307.1,1096.9 322.5,1096.9 342.3,1099.0 353.3,1090.1 364.3,1085.9 375.4,1088.0 381.8,1096.9 390.8,1094.7 399.5,1092.3 408.2,1099.0 416.9,1092.3 430.3,1085.9 443.3,1083.7 452.3,1090.1 456.7,1101.1 458.7,1112.1 461.0,1121.0 469.8,1127.7 480.8,1125.3 491.8,1127.7 498.2,1134.1 496.2,1140.8 483.1,1143.0 469.8,1138.7 458.7,1143.0 447.7,1147.2 430.3,1138.7 416.9,1143.0 403.8,1147.2 390.8,1151.8 377.4,1154.0 368.7,1158.2 364.3,1169.2 355.6,1173.8 348.9,1181.4 340.2,1184.8 322.5,1182.7 307.1,1180.8 285.1,1178.7 272.0,1174.7 258.9,1169.2 236.9,1167.7" fill="#060606"/>
<polygon points="392.8,1068.2 403.8,1063.9 416.9,1063.9 421.5,1072.7 412.6,1079.2 401.5,1077.0" fill="#060606"/>
<polygon points="395.1,1083.7 401.5,1081.3 403.8,1090.1 397.2,1092.3" fill="#060606"/>
<ellipse cx="280.7" cy="1067.2" rx="2.6" ry="4.0" fill="#060606"/>
<polygon points="868.4,954.0 885.8,950.6 907.9,948.5 929.7,947.2 951.7,945.1 973.8,947.2 995.8,943.0 1017.6,941.8 1039.7,940.8 1061.8,940.8 1083.6,943.0 1096.9,949.7 1099.0,960.7 1087.9,967.1 1074.8,969.2 1070.5,976.0 1061.8,980.2 1052.8,976.0 1048.4,984.8 1035.3,984.8 1026.4,989.1 1013.3,986.9 995.8,984.8 982.5,986.9 973.8,982.7 960.4,986.9 951.7,993.7 945.1,991.2 951.7,984.8 943.0,976.0 929.7,973.8 916.6,976.0 907.9,971.7 903.5,965.0 890.2,962.8 877.1,961.6" fill="#060606"/>
<polygon points="907.9,1039.8 916.6,1035.2 929.7,1039.8 934.3,1050.8 936.3,1061.7 929.7,1066.0 920.9,1068.2 914.3,1059.3 912.2,1048.3" fill="#060606"/>
<polygon points="837.6,1081.3 846.3,1074.9 863.7,1072.7 877.1,1077.0 885.8,1072.7 894.5,1077.0 899.1,1085.9 907.9,1092.3 912.2,1103.3 918.9,1107.9 920.9,1118.8 927.6,1125.3 929.7,1134.1 938.6,1140.8 947.4,1147.2 960.4,1154.0 969.4,1162.8 962.7,1162.8 951.7,1156.1 943.0,1154.0 929.7,1156.1 918.9,1160.7 907.9,1156.1 899.1,1149.7 881.4,1149.7 863.7,1149.7 850.7,1150.6 855.0,1138.7 859.4,1129.8 850.7,1123.1 841.9,1121.0 839.6,1107.9 835.3,1094.7" fill="#060606"/>
<ellipse cx="828.6" cy="1112.1" rx="4.8" ry="7.7" fill="#060606"/>
<polygon points="1035.3,1151.8 1052.8,1147.2 1070.5,1140.8 1083.6,1129.8 1092.5,1118.8 1105.6,1107.9 1112.3,1094.7 1127.7,1092.3 1140.8,1094.7 1149.5,1099.0 1162.8,1096.9 1171.5,1092.3 1204.6,1092.3 1204.6,1173.8 1181.8,1175.9 1171.5,1173.8 1162.8,1169.2 1149.5,1171.7 1127.7,1173.8 1105.6,1172.6 1083.6,1171.7 1061.8,1169.2 1039.7,1167.1 1033.0,1158.2" fill="#060606"/>
<polygon points="969.4,1151.8 980.4,1147.2 993.5,1149.7 1000.2,1154.0 1017.6,1158.2 1026.4,1162.8 1022.0,1169.2 1013.3,1166.2 995.8,1163.7 991.2,1171.7 984.8,1169.2 978.1,1162.8 971.5,1158.2" fill="#060606"/>
<polygon points="934.3,1160.7 947.4,1156.1 960.4,1160.7 969.4,1166.2 973.8,1171.7 965.1,1170.4 951.7,1165.0 938.6,1165.0" fill="#060606"/>
<ellipse cx="903.5" cy="1189.7" rx="6.6" ry="1.5" fill="#060606"/>
<ellipse cx="710.1" cy="1147.2" rx="3.3" ry="4.4" fill="#060606"/>
<polygon points="236.9,1209.5 263.3,1209.5 283.0,1212.9 294.1,1221.7 296.1,1234.9 291.7,1245.9 297.1,1259.0 302.8,1272.4 310.5,1285.6 315.9,1296.6 307.1,1298.7 294.1,1299.9 272.0,1296.6 258.9,1294.4 236.9,1293.2" fill="#060606"/>
<polygon points="351.0,1256.9 357.7,1250.4 364.3,1254.7 368.7,1263.6 366.4,1270.0 355.6,1271.2 350.0,1265.7" fill="#060606"/>
<polygon points="485.1,1250.4 500.5,1247.1 513.6,1243.7 524.6,1241.6 533.6,1245.9 542.3,1254.7 547.7,1267.8 549.0,1283.4 546.7,1298.7 544.4,1309.7 535.7,1311.8 527.0,1305.4 518.2,1298.7 509.3,1294.4 502.8,1285.6 500.5,1272.4 493.9,1261.4" fill="#060606"/>
<polygon points="236.9,1416.2 272.0,1416.2 304.8,1414.1 337.9,1410.7 364.3,1407.4 390.8,1404.0 412.6,1401.9 432.3,1401.9 439.0,1407.4 447.7,1405.2 469.8,1404.0 491.8,1401.9 513.6,1401.9 535.7,1403.1 557.7,1406.5 579.8,1406.5 601.6,1406.5 623.7,1406.5 645.7,1408.6 667.5,1410.7 689.6,1415.0 700.6,1421.7 744.5,1421.7 744.5,1487.7 236.9,1487.7" fill="#060606"/>
<ellipse cx="612.6" cy="1295.3" rx="6.6" ry="3.3" fill="#060606"/>
<ellipse cx="604.9" cy="1304.2" rx="2.6" ry="3.3" fill="#060606"/>
<polygon points="863.7,1223.0 885.8,1219.6 907.9,1216.2 929.7,1214.1 951.7,1212.9 973.8,1212.9 980.4,1221.7 991.2,1232.7 1002.2,1245.9 1003.5,1267.8 1000.2,1289.8 995.8,1307.5 991.2,1318.5 982.5,1320.7 969.4,1314.0 956.1,1307.5 947.4,1298.7 940.7,1285.6 934.3,1274.6 929.7,1265.7 920.9,1259.0 907.9,1250.4 894.5,1239.5 881.4,1230.6 872.7,1226.0" fill="#060606"/>
<polygon points="1123.1,1230.6 1127.7,1221.7 1140.8,1215.0 1160.5,1210.8 1181.8,1208.6 1204.6,1208.6 1204.6,1294.4 1181.8,1293.2 1171.5,1285.6 1162.8,1274.6 1149.5,1267.8 1140.8,1256.9 1134.1,1245.9 1127.7,1239.5" fill="#060606"/>
<polygon points="696.8,1418.4 731.9,1419.6 754.0,1423.9 771.7,1430.6 797.8,1430.6 819.9,1428.5 841.9,1427.2 863.7,1426.0 885.8,1427.2 907.9,1428.5 929.7,1430.6 951.7,1434.9 962.7,1439.4 984.8,1440.4 995.8,1434.9 1004.6,1430.6 1017.6,1428.5 1035.3,1426.0 1039.7,1419.6 1052.8,1415.0 1070.5,1412.9 1087.9,1410.7 1083.6,1417.5 1105.6,1416.2 1127.7,1414.1 1149.5,1412.9 1181.8,1410.7 1204.6,1410.7 1204.6,1487.7 696.8,1487.7" fill="#060606"/>
<ellipse cx="1003.5" cy="1331.7" rx="2.6" ry="4.8" fill="#060606"/>
<polygon points="236.9,962.8 267.6,958.2 276.4,955.2 294.1,957.3 315.9,960.7 337.9,962.8 353.3,965.0 351.0,970.5 337.9,973.8 322.5,976.0 311.5,982.7 300.5,989.1 287.4,997.9 276.4,1006.8 278.7,1013.2 289.4,1019.9 302.8,1015.6 315.9,1011.1 329.2,1008.9 342.3,1013.2 346.6,1019.9 333.6,1022.1 315.9,1019.9 304.8,1026.6 296.1,1033.0 294.1,1041.9 283.0,1044.0 272.0,1046.2 263.3,1055.0 236.9,1061.7" fill="#383838"/>
<ellipse cx="329.2" cy="991.2" rx="5.5" ry="5.5" fill="#383838"/>
<ellipse cx="342.3" cy="1002.2" rx="8.8" ry="3.3" fill="#383838"/>
<ellipse cx="401.5" cy="1025.4" rx="5.5" ry="5.5" fill="#383838"/>
<ellipse cx="474.1" cy="1036.4" rx="5.5" ry="4.0" fill="#383838"/>
<polygon points="333.6,1066.0 346.6,1061.7 357.7,1055.0 366.4,1061.7 373.1,1072.7 366.4,1077.0 355.6,1070.3 344.6,1070.3" fill="#383838"/>
<ellipse cx="344.6" cy="1083.7" rx="3.3" ry="6.6" fill="#383838"/>
<polygon points="432.3,1068.2 441.3,1061.7 454.4,1055.0 461.0,1052.9 456.7,1061.7 450.0,1068.2 447.7,1077.0 439.0,1077.0 433.6,1073.7" fill="#383838"/>
<polygon points="498.2,1101.1 509.3,1094.7 524.6,1092.3 535.7,1085.9 546.7,1090.1 557.7,1085.9 566.5,1083.7 568.8,1096.9 564.4,1112.1 553.4,1121.0 540.0,1127.7 531.3,1129.8 524.6,1121.0 522.6,1112.1 513.6,1114.3 504.9,1107.9" fill="#383838"/>
<polygon points="278.7,1191.2 294.1,1188.2 315.9,1193.7 342.3,1195.8 346.6,1204.6 278.7,1204.6" fill="#383838"/>
<ellipse cx="581.8" cy="978.1" rx="6.6" ry="5.5" fill="#282828"/>
<ellipse cx="500.5" cy="1024.2" rx="4.4" ry="4.8" fill="#282828"/>
<polygon points="456.7,1077.0 469.8,1077.0 483.1,1073.7 498.2,1070.3 509.3,1072.7 513.6,1079.2 502.8,1079.2 489.5,1078.2 476.4,1081.3 461.0,1082.5" fill="#282828"/>
<ellipse cx="387.4" cy="1092.3" rx="4.4" ry="7.7" fill="#282828"/>
<ellipse cx="407.2" cy="1083.7" rx="3.3" ry="5.5" fill="#282828"/>
<ellipse cx="304.8" cy="1080.4" rx="4.4" ry="4.0" fill="#282828"/>
<polygon points="467.7,1107.9 478.5,1103.3 491.8,1105.7 502.8,1096.9 507.2,1103.3 500.5,1112.1 491.8,1116.7 478.5,1114.3" fill="#282828"/>
<polygon points="623.7,1140.8 645.7,1134.1 667.5,1129.8 680.9,1138.7 667.5,1147.2 645.7,1151.8 632.4,1149.7" fill="#282828"/>
<ellipse cx="722.4" cy="1129.8" rx="8.8" ry="13.2" fill="#282828"/>
<ellipse cx="625.7" cy="1122.2" rx="3.3" ry="3.3" fill="#060606"/>
<ellipse cx="678.5" cy="1116.7" rx="2.6" ry="5.5" fill="#060606"/>
<ellipse cx="691.9" cy="1116.7" rx="2.6" ry="4.4" fill="#060606"/>
<ellipse cx="711.6" cy="1146.3" rx="3.3" ry="4.0" fill="#060606"/>
<ellipse cx="691.9" cy="1154.0" rx="2.6" ry="2.6" fill="#060606"/>
<ellipse cx="653.4" cy="1124.3" rx="2.6" ry="2.6" fill="#060606"/>
<ellipse cx="533.6" cy="1093.5" rx="3.3" ry="3.3" fill="#282828"/>
<polygon points="938.6,1103.3 951.7,1099.0 969.4,1103.3 971.5,1110.0 960.4,1112.1 947.4,1110.0" fill="#383838"/>
<polygon points="929.7,1127.7 938.6,1125.3 947.4,1129.8 956.1,1138.7 965.1,1147.2 967.1,1154.0 960.4,1151.8 951.7,1143.0 940.7,1138.7 932.0,1134.1" fill="#383838"/>
<polygon points="756.3,976.0 776.0,974.7 797.8,977.2 815.5,976.0 833.0,978.1 853.0,980.2 861.7,984.8 850.7,986.9 833.0,984.8 815.5,989.1 797.8,991.2 776.0,993.7 765.0,989.1 756.3,982.7" fill="#282828"/>
<polygon points="947.4,1008.9 962.7,1004.7 980.4,1002.2 982.5,1008.9 973.8,1015.6 956.1,1015.6" fill="#282828"/>
<polygon points="945.1,1037.3 956.1,1033.0 973.8,1026.6 986.9,1015.6 995.8,1013.2 1013.3,1015.6 1026.4,1019.9 1039.7,1024.2 1039.7,1029.7 1026.4,1033.0 1013.3,1035.2 995.8,1039.8 984.8,1044.0 973.8,1050.8 960.4,1059.3 951.7,1063.9 951.7,1050.8 943.0,1044.0" fill="#282828"/>
<polygon points="940.7,940.8 962.7,934.1 995.8,933.2 1039.7,932.0 1083.6,932.0 1116.6,933.2 1138.5,938.7 1149.5,940.8 1140.8,947.2 1127.7,949.7 1116.6,940.8 1094.6,935.3 1061.8,934.1 1017.6,937.5 973.8,937.5 951.7,937.5" fill="#282828"/>
<polygon points="863.7,1063.9 877.1,1061.7 885.8,1055.0 894.5,1050.8 901.2,1059.3 907.9,1068.2 903.5,1077.0 894.5,1072.7 885.8,1068.2 877.1,1072.7" fill="#282828"/>
<ellipse cx="1061.8" cy="973.8" rx="8.4" ry="8.4" fill="#181818"/>
<ellipse cx="994.6" cy="1031.8" rx="2.6" ry="2.6" fill="#383838"/>
<polygon points="687.3,1426.0 711.6,1423.9 744.5,1423.9 744.5,1432.7 711.6,1434.0 691.9,1432.7" fill="#181818"/>
<polygon points="951.7,1423.9 973.8,1426.0 995.8,1421.7 1004.6,1426.0 995.8,1432.7 984.8,1438.2 965.1,1436.1 954.0,1430.6" fill="#282828"/>
<polygon points="1002.2,1399.8 1013.3,1394.3 1026.4,1387.5 1024.3,1395.5 1019.9,1404.0 1026.4,1410.7 1017.6,1409.5 1006.6,1406.5" fill="#383838"/>
<ellipse cx="954.0" cy="1416.9" rx="8.8" ry="1.8" fill="#383838"/>
<polygon points="1015.6,1283.4 1019.9,1281.0 1026.4,1298.7 1022.0,1307.5 1016.6,1298.7" fill="#383838"/>
<g filter="url(#b7_3)">
<polygon points="236.9,967.1 283.0,962.8 315.9,967.1 294.1,982.7 276.4,1002.2 263.3,1024.2 236.9,1033.0" fill="#686868"/>
<ellipse cx="269.7" cy="1002.2" rx="8.4" ry="12.1" fill="#bfbfbf"/>
<polygon points="527.0,1107.9 553.4,1096.9 566.5,1101.1 557.7,1118.8 535.7,1123.1" fill="#606060"/>
<ellipse cx="553.4" cy="1103.3" rx="6.6" ry="13.2" fill="#8f8f8f" transform="rotate(-30 553.4 1103.3)"/>
</g>
</g>
<path d="M412.3,915.8V1465.4 M566.2,915.8V1465.4 M720.1,915.8V1465.4 M874.0,915.8V1465.4 M1027.9,915.8V1465.4 M258.4,1007.4H1181.8 M258.4,1099.0H1181.8 M258.4,1190.6H1181.8 M258.4,1282.2H1181.8 M258.4,1373.8H1181.8" stroke="#a8a8a8" stroke-width="1.15" stroke-dasharray="2.6 8.25" fill="none"/>
<use href="#coast" transform="translate(258.40 1190.60) scale(2.56500 3.05333)"/>
</g>
<rect x="258.4" y="915.8" width="923.4" height="549.6" fill="none" stroke="#000" stroke-width="1.6"/>
<path d="M258.4,1465.4v9 M412.3,1465.4v9 M566.2,1465.4v9 M720.1,1465.4v9 M874.0,1465.4v9 M1027.9,1465.4v9 M1181.8,1465.4v9 M258.4,1007.4h-9 M258.4,1099.0h-9 M258.4,1190.6h-9 M258.4,1282.2h-9 M258.4,1373.8h-9" stroke="#000" stroke-width="1.1" fill="none"/>
<text class="ax" x="258.4" y="1500.8" font-size="28.2" text-anchor="middle" fill="#222" textLength="16" lengthAdjust="spacingAndGlyphs">0</text>
<text class="ax" x="412.3" y="1500.8" font-size="28.2" text-anchor="middle" fill="#222" textLength="49" lengthAdjust="spacingAndGlyphs">60E</text>
<text class="ax" x="566.2" y="1500.8" font-size="28.2" text-anchor="middle" fill="#222" textLength="64" lengthAdjust="spacingAndGlyphs">120E</text>
<text class="ax" x="720.1" y="1500.8" font-size="28.2" text-anchor="middle" fill="#222" textLength="48.5" lengthAdjust="spacingAndGlyphs">180</text>
<text class="ax" x="874.0" y="1500.8" font-size="28.2" text-anchor="middle" fill="#222" textLength="67" lengthAdjust="spacingAndGlyphs">120W</text>
<text class="ax" x="1027.9" y="1500.8" font-size="28.2" text-anchor="middle" fill="#222" textLength="52" lengthAdjust="spacingAndGlyphs">60W</text>
<text class="ax" x="1181.8" y="1500.8" font-size="28.2" text-anchor="middle" fill="#222" textLength="16" lengthAdjust="spacingAndGlyphs">0</text>
<text class="ax" x="242.2" y="1017.5" font-size="28.2" text-anchor="end" fill="#222" textLength="50" lengthAdjust="spacingAndGlyphs">60N</text>
<text class="ax" x="242.2" y="1109.1" font-size="28.2" text-anchor="end" fill="#222" textLength="51.5" lengthAdjust="spacingAndGlyphs">30N</text>
<text class="ax" x="242.2" y="1200.7" font-size="28.2" text-anchor="end" fill="#222" textLength="34.5" lengthAdjust="spacingAndGlyphs">EQ</text>
<text class="ax" x="242.2" y="1292.3" font-size="28.2" text-anchor="end" fill="#222" textLength="50" lengthAdjust="spacingAndGlyphs">30S</text>
<text class="ax" x="242.2" y="1383.9" font-size="28.2" text-anchor="end" fill="#222" textLength="50" lengthAdjust="spacingAndGlyphs">60S</text>
<g clip-path="url(#clip4)">
<g filter="url(#cm4)">
<rect x="1252.4" y="835.8" width="1083.4" height="709.6" fill="#808080"/>
<g filter="url(#b4_4)">
<ellipse cx="1374.5" cy="976.0" rx="13.2" ry="4.4" fill="#969696" transform="rotate(-10 1374.5 976.0)"/>
<ellipse cx="1354.7" cy="1041.9" rx="11.0" ry="4.4" fill="#969696"/>
<ellipse cx="1348.3" cy="1024.2" rx="6.6" ry="4.4" fill="#969696"/>
<ellipse cx="1429.6" cy="1068.2" rx="11.0" ry="4.4" fill="#969696"/>
<ellipse cx="1407.6" cy="1079.2" rx="19.8" ry="5.5" fill="#969696"/>
<ellipse cx="1785.6" cy="1048.3" rx="11.0" ry="9.9" fill="#9a9a9a" transform="rotate(-40 1785.6 1048.3)"/>
<ellipse cx="1761.3" cy="1048.3" rx="6.6" ry="4.4" fill="#969696"/>
<ellipse cx="1719.7" cy="1085.9" rx="13.2" ry="3.3" fill="#969696"/>
<ellipse cx="1750.5" cy="1101.1" rx="11.0" ry="3.3" fill="#969696"/>
<ellipse cx="1684.3" cy="1061.7" rx="5.5" ry="4.4" fill="#969696"/>
<ellipse cx="1535.0" cy="1147.2" rx="5.5" ry="8.8" fill="#a5a5a5"/>
<ellipse cx="1352.7" cy="1182.7" rx="5.5" ry="6.6" fill="#969696"/>
<ellipse cx="1532.7" cy="1178.1" rx="6.6" ry="4.4" fill="#969696"/>
<ellipse cx="1708.7" cy="1114.3" rx="11.0" ry="8.8" fill="#9a9a9a" transform="rotate(-45 1708.7 1114.3)"/>
<ellipse cx="1339.3" cy="1011.1" rx="5.5" ry="6.6" fill="#696969"/>
<ellipse cx="1350.4" cy="1000.1" rx="4.4" ry="3.3" fill="#696969"/>
<ellipse cx="1434.0" cy="1059.3" rx="5.5" ry="4.4" fill="#696969"/>
<ellipse cx="1739.5" cy="1052.9" rx="11.0" ry="6.6" fill="#696969"/>
<ellipse cx="1735.1" cy="1068.2" rx="11.0" ry="3.3" fill="#696969"/>
<ellipse cx="1750.5" cy="1085.9" rx="8.8" ry="3.3" fill="#696969"/>
<ellipse cx="1772.3" cy="1059.3" rx="5.5" ry="4.4" fill="#696969"/>
<ellipse cx="1581.2" cy="1103.3" rx="7.7" ry="5.5" fill="#696969"/>
<ellipse cx="1565.8" cy="1162.8" rx="33.0" ry="8.8" fill="#6e6e6e"/>
<ellipse cx="1664.6" cy="1125.3" rx="13.2" ry="4.4" fill="#696969" transform="rotate(-30 1664.6 1125.3)"/>
<ellipse cx="1666.9" cy="1068.2" rx="8.8" ry="11.0" fill="#626262"/>
<ellipse cx="1627.4" cy="1140.8" rx="13.2" ry="17.6" fill="#5a5a5a"/>
<ellipse cx="1594.3" cy="1160.7" rx="8.8" ry="6.6" fill="#4b4b4b"/>
<ellipse cx="1607.6" cy="1151.8" rx="8.8" ry="8.8" fill="#5a5a5a"/>
<ellipse cx="1434.0" cy="1196.7" rx="11.0" ry="3.3" fill="#4b4b4b"/>
<ellipse cx="1708.7" cy="1179.3" rx="8.8" ry="2.6" fill="#9e9e9e"/>
<ellipse cx="1623.0" cy="1193.7" rx="8.8" ry="6.6" fill="#9e9e9e"/>
<polygon points="1618.4,1121.0 1627.4,1103.3 1640.5,1094.7 1653.8,1096.9 1671.2,1090.1 1688.9,1083.7 1702.0,1085.9 1697.7,1096.9 1680.0,1103.3 1662.5,1110.0 1649.2,1116.7 1640.5,1107.9 1631.7,1116.7 1623.0,1127.7" fill="#4b4b4b"/>
<polygon points="1447.1,1169.2 1464.8,1156.1 1490.9,1160.7 1510.9,1169.2 1508.6,1180.2 1477.8,1186.9 1455.8,1189.1" fill="#525252"/>
<polygon points="1653.8,1132.0 1675.6,1121.0 1697.7,1112.1 1717.4,1105.7 1715.1,1116.7 1697.7,1127.7 1675.6,1134.1" fill="#9e9e9e"/>
<polygon points="1647.1,1140.8 1666.9,1136.3 1693.3,1134.1 1697.7,1151.8 1695.3,1169.2 1680.0,1167.1 1662.5,1156.1 1649.2,1151.8" fill="#b4b4b4"/>
<ellipse cx="1821.3" cy="1050.8" rx="6.6" ry="13.2" fill="#969696"/>
<ellipse cx="1788.5" cy="1046.2" rx="6.6" ry="8.8" fill="#969696"/>
<ellipse cx="1900.5" cy="1096.9" rx="8.8" ry="4.4" fill="#939393"/>
<ellipse cx="1902.6" cy="1127.7" rx="4.4" ry="4.4" fill="#969696"/>
<ellipse cx="1920.3" cy="1151.8" rx="13.2" ry="7.7" fill="#9e9e9e"/>
<ellipse cx="2210.4" cy="997.9" rx="13.2" ry="3.3" fill="#939393"/>
<ellipse cx="2159.9" cy="1114.3" rx="17.6" ry="24.2" fill="#9c9c9c" transform="rotate(25 2159.9 1114.3)"/>
<ellipse cx="2058.8" cy="1114.3" rx="8.8" ry="5.5" fill="#949494"/>
<ellipse cx="2197.1" cy="965.0" rx="5.5" ry="4.4" fill="#969696"/>
<ellipse cx="2175.3" cy="1191.2" rx="17.6" ry="3.3" fill="#acacac"/>
<ellipse cx="2003.7" cy="1183.6" rx="11.0" ry="2.6" fill="#a5a5a5"/>
<ellipse cx="1924.7" cy="1179.3" rx="11.0" ry="3.3" fill="#a5a5a5"/>
<ellipse cx="1994.9" cy="1197.9" rx="13.2" ry="2.6" fill="#9e9e9e"/>
<ellipse cx="1907.0" cy="941.8" rx="13.2" ry="2.6" fill="#696969"/>
<ellipse cx="1946.7" cy="946.3" rx="19.8" ry="3.3" fill="#696969" transform="rotate(-10 1946.7 946.3)"/>
<ellipse cx="1996.0" cy="933.2" rx="5.5" ry="1.8" fill="#696969"/>
<ellipse cx="1836.7" cy="1039.8" rx="4.4" ry="6.6" fill="#696969"/>
<ellipse cx="1915.9" cy="1059.3" rx="11.0" ry="6.6" fill="#696969"/>
<ellipse cx="1899.3" cy="1063.9" rx="4.4" ry="4.4" fill="#696969"/>
<ellipse cx="1825.6" cy="1090.1" rx="8.8" ry="7.7" fill="#696969" transform="rotate(-30 1825.6 1090.1)"/>
<ellipse cx="1816.9" cy="1127.7" rx="5.5" ry="3.3" fill="#696969"/>
<ellipse cx="2203.7" cy="1035.2" rx="19.8" ry="11.0" fill="#696969" transform="rotate(-15 2203.7 1035.2)"/>
<ellipse cx="2153.2" cy="1083.7" rx="13.2" ry="4.0" fill="#696969"/>
<ellipse cx="1863.1" cy="1160.7" rx="35.2" ry="6.6" fill="#444444"/>
<ellipse cx="2126.8" cy="1175.9" rx="13.2" ry="8.8" fill="#444444"/>
<ellipse cx="2157.6" cy="1177.2" rx="8.8" ry="2.2" fill="#5a5a5a"/>
<ellipse cx="1850.0" cy="1199.1" rx="87.9" ry="2.2" fill="#5e5e5e"/>
<ellipse cx="1986.2" cy="1154.0" rx="8.8" ry="4.4" fill="#696969"/>
<ellipse cx="1962.1" cy="1158.2" rx="4.4" ry="3.3" fill="#5a5a5a"/>
<ellipse cx="2201.7" cy="1182.7" rx="8.8" ry="4.4" fill="#696969"/>
<polygon points="1850.0,1072.7 1863.1,1055.0 1885.2,1052.9 1891.6,1063.9 1889.5,1085.9 1885.2,1103.3 1871.8,1112.1 1854.4,1110.0 1845.7,1096.9" fill="#9e9e9e"/>
<polygon points="1845.7,1129.8 1858.7,1121.0 1876.2,1125.3 1880.8,1140.8 1867.5,1147.2 1850.0,1145.1" fill="#9c9c9c"/>
<polygon points="2067.5,1072.7 2091.6,1068.2 2118.1,1059.3 2140.1,1046.2 2153.2,1033.0 2170.9,1019.9 2188.3,1002.2 2195.0,1006.8 2179.6,1028.8 2161.9,1046.2 2144.5,1059.3 2122.4,1070.3 2096.0,1079.2 2069.8,1081.3" fill="#989898"/>
<polygon points="2023.7,1129.8 2034.4,1125.3 2047.8,1134.1 2049.8,1147.2 2041.1,1151.8 2030.1,1143.0" fill="#acacac"/>
<polygon points="2122.4,986.9 2135.8,991.2 2153.2,990.3 2144.5,1004.7 2131.1,1002.2" fill="#696969"/>
<polygon points="2012.6,1085.9 2025.7,1081.3 2043.4,1077.0 2058.8,1074.9 2065.2,1083.7 2056.5,1092.3 2043.4,1085.9 2025.7,1088.0" fill="#696969"/>
<polygon points="1420.6,1193.0 1438.3,1186.6 1451.4,1179.9 1464.8,1179.9 1455.8,1193.0 1442.7,1206.5 1434.0,1223.9 1427.3,1241.6 1420.6,1259.0 1411.9,1272.4 1398.8,1276.7 1389.9,1267.8 1398.8,1254.7 1411.9,1241.6 1418.6,1223.9 1420.6,1206.5" fill="#5a5a5a"/>
<polygon points="1374.5,1245.9 1387.8,1234.9 1400.9,1241.6 1396.5,1263.6 1407.6,1276.7 1398.8,1289.8 1385.5,1283.4 1376.8,1267.8" fill="#696969"/>
<ellipse cx="1497.6" cy="1217.5" rx="27.5" ry="25.3" fill="#4b4b4b"/>
<polygon points="1581.2,1193.0 1587.6,1206.5 1601.0,1215.0 1618.4,1217.5 1636.1,1218.4 1649.2,1221.7 1647.1,1227.2 1631.7,1223.9 1614.0,1223.0 1596.6,1221.7 1585.6,1215.0 1578.9,1204.0" fill="#2d2d2d"/>
<polygon points="1649.2,1239.5 1662.5,1232.7 1675.6,1230.6 1688.9,1237.0 1697.7,1230.6 1706.4,1245.9 1697.7,1252.6 1684.3,1245.9 1666.9,1243.7 1653.8,1245.9" fill="#4b4b4b"/>
<polygon points="1638.4,1252.6 1653.8,1248.0 1671.2,1254.7 1688.9,1265.7 1697.7,1276.7 1710.7,1267.8 1717.4,1278.8 1697.7,1294.4 1684.3,1283.4 1666.9,1272.4 1649.2,1267.8 1640.5,1261.4" fill="#969696"/>
<ellipse cx="1484.5" cy="1265.7" rx="11.0" ry="8.8" fill="#5a5a5a"/>
<ellipse cx="1541.7" cy="1263.6" rx="11.0" ry="11.0" fill="#696969"/>
<ellipse cx="1543.8" cy="1289.8" rx="15.4" ry="5.5" fill="#696969"/>
<ellipse cx="1422.9" cy="1285.6" rx="8.8" ry="6.6" fill="#6c6c6c"/>
<ellipse cx="1735.1" cy="1283.4" rx="7.7" ry="19.8" fill="#696969" transform="rotate(-30 1735.1 1283.4)"/>
<ellipse cx="1730.5" cy="1221.7" rx="6.6" ry="13.2" fill="#5a5a5a" transform="rotate(-20 1730.5 1221.7)"/>
<ellipse cx="1792.0" cy="1285.6" rx="13.2" ry="17.6" fill="#626262"/>
<ellipse cx="1785.6" cy="1303.0" rx="8.8" ry="6.6" fill="#696969"/>
<ellipse cx="1337.3" cy="1201.9" rx="8.8" ry="4.4" fill="#969696"/>
<ellipse cx="1460.1" cy="1206.5" rx="11.0" ry="4.4" fill="#969696"/>
<ellipse cx="1561.5" cy="1201.9" rx="11.0" ry="4.4" fill="#9e9e9e"/>
<ellipse cx="1565.8" cy="1223.9" rx="13.2" ry="8.8" fill="#9e9e9e"/>
<ellipse cx="1578.9" cy="1234.9" rx="8.8" ry="5.5" fill="#9a9a9a"/>
<ellipse cx="1618.4" cy="1237.0" rx="6.6" ry="5.5" fill="#969696"/>
<ellipse cx="1521.7" cy="1245.9" rx="8.8" ry="7.7" fill="#a5a5a5"/>
<ellipse cx="1513.0" cy="1267.8" rx="9.9" ry="11.0" fill="#9e9e9e"/>
<ellipse cx="1530.7" cy="1232.7" rx="5.5" ry="3.3" fill="#969696"/>
<ellipse cx="1453.7" cy="1245.9" rx="3.3" ry="13.2" fill="#969696" transform="rotate(10 1453.7 1245.9)"/>
<ellipse cx="1759.2" cy="1287.7" rx="6.6" ry="11.0" fill="#969696"/>
<ellipse cx="1684.3" cy="1346.9" rx="24.2" ry="2.6" fill="#949494" transform="rotate(15 1684.3 1346.9)"/>
<ellipse cx="1629.4" cy="1190.9" rx="6.6" ry="5.5" fill="#9e9e9e"/>
<ellipse cx="1671.2" cy="1193.0" rx="5.5" ry="4.4" fill="#a5a5a5"/>
<ellipse cx="1781.0" cy="1210.8" rx="13.2" ry="4.4" fill="#a5a5a5" transform="rotate(-20 1781.0 1210.8)"/>
<polygon points="1770.8,1195.5 1805.9,1197.6 1850.0,1193.0 1893.9,1195.5 1937.7,1197.6 1970.8,1199.8 1970.8,1208.6 1959.8,1215.0 1927.0,1217.5 1893.9,1219.6 1861.0,1221.7 1828.0,1217.5 1805.9,1212.9 1770.8,1212.9" fill="#5a5a5a"/>
<polygon points="1803.8,1243.7 1821.3,1241.6 1839.0,1252.6 1847.7,1272.4 1856.4,1283.4 1850.0,1294.4 1832.3,1289.8 1814.9,1283.4 1801.5,1272.4 1792.8,1283.4 1770.8,1281.0 1770.8,1263.6 1792.8,1267.8 1803.8,1256.9" fill="#5a5a5a"/>
<polygon points="1907.0,1245.9 1924.7,1243.7 1942.4,1254.7 1955.4,1272.4 1970.8,1285.6 1988.3,1294.4 2006.0,1309.7 1992.9,1309.7 1977.5,1298.7 1959.8,1289.8 1942.4,1278.8 1924.7,1265.7 1913.6,1254.7" fill="#696969"/>
<polygon points="2113.7,1212.9 2126.8,1204.0 2144.5,1201.9 2161.9,1206.5 2164.2,1217.5 2155.5,1230.6 2151.1,1245.9 2144.5,1259.0 2137.8,1250.4 2140.1,1234.9 2131.1,1223.9 2120.4,1221.7" fill="#4b4b4b"/>
<polygon points="2148.8,1265.7 2161.9,1256.9 2179.6,1263.6 2197.1,1274.6 2214.8,1285.6 2225.8,1298.7 2221.4,1307.5 2201.7,1294.4 2184.0,1283.4 2166.5,1276.7 2153.2,1272.4" fill="#5a5a5a"/>
<polygon points="2135.8,1285.6 2148.8,1289.8 2166.5,1300.8 2179.6,1307.5 2175.3,1314.0 2157.6,1309.7 2142.2,1298.7" fill="#696969"/>
<ellipse cx="1828.0" cy="1182.1" rx="54.9" ry="2.6" fill="#4b4b4b"/>
<ellipse cx="1935.7" cy="1263.6" rx="22.0" ry="9.9" fill="#525252" transform="rotate(35 1935.7 1263.6)"/>
<ellipse cx="1898.2" cy="1294.4" rx="19.8" ry="8.8" fill="#626262" transform="rotate(20 1898.2 1294.4)"/>
<ellipse cx="1920.3" cy="1316.4" rx="13.2" ry="5.5" fill="#696969" transform="rotate(20 1920.3 1316.4)"/>
<ellipse cx="1887.2" cy="1317.3" rx="8.8" ry="3.3" fill="#696969"/>
<ellipse cx="1810.3" cy="1314.0" rx="8.8" ry="3.3" fill="#696969"/>
<ellipse cx="1845.7" cy="1245.9" rx="8.8" ry="8.8" fill="#696969"/>
<ellipse cx="1871.8" cy="1250.4" rx="6.6" ry="5.5" fill="#626262"/>
<ellipse cx="1977.5" cy="1261.4" rx="4.4" ry="3.3" fill="#696969"/>
<ellipse cx="2190.6" cy="1208.6" rx="26.4" ry="7.7" fill="#444444"/>
<ellipse cx="2091.6" cy="1265.7" rx="2.2" ry="8.8" fill="#6c6c6c" transform="rotate(-20 2091.6 1265.7)"/>
<ellipse cx="2120.4" cy="1265.7" rx="4.4" ry="3.3" fill="#696969"/>
<ellipse cx="1992.9" cy="1201.9" rx="15.4" ry="7.7" fill="#a5a5a5"/>
<ellipse cx="2025.7" cy="1208.6" rx="11.0" ry="3.3" fill="#9e9e9e"/>
<ellipse cx="2003.7" cy="1184.5" rx="13.2" ry="2.6" fill="#b4b4b4"/>
<ellipse cx="1937.7" cy="1184.5" rx="22.0" ry="2.6" fill="#9e9e9e"/>
<ellipse cx="1788.5" cy="1209.5" rx="8.8" ry="3.3" fill="#b4b4b4"/>
<ellipse cx="1812.6" cy="1214.1" rx="6.6" ry="2.6" fill="#969696"/>
<ellipse cx="1876.2" cy="1281.0" rx="8.8" ry="15.4" fill="#a5a5a5" transform="rotate(20 1876.2 1281.0)"/>
<ellipse cx="1850.0" cy="1264.5" rx="6.6" ry="4.4" fill="#a5a5a5"/>
<ellipse cx="1834.6" cy="1250.4" rx="4.4" ry="7.7" fill="#969696"/>
<ellipse cx="1918.0" cy="1288.9" rx="4.4" ry="3.3" fill="#969696"/>
<ellipse cx="2067.5" cy="1232.7" rx="13.2" ry="3.3" fill="#969696" transform="rotate(-40 2067.5 1232.7)"/>
<ellipse cx="2177.3" cy="1194.3" rx="17.6" ry="3.3" fill="#b4b4b4"/>
<ellipse cx="2223.5" cy="1188.8" rx="13.2" ry="2.6" fill="#969696"/>
<ellipse cx="2252.2" cy="1201.9" rx="3.3" ry="4.4" fill="#9e9e9e"/>
<ellipse cx="2166.5" cy="1234.9" rx="6.6" ry="6.6" fill="#969696"/>
<ellipse cx="2192.7" cy="1293.2" rx="11.0" ry="5.5" fill="#a5a5a5" transform="rotate(-25 2192.7 1293.2)"/>
<ellipse cx="2126.8" cy="1267.8" rx="3.3" ry="3.3" fill="#9e9e9e"/>
<ellipse cx="2063.2" cy="1338.4" rx="3.3" ry="13.2" fill="#969696"/>
</g>
<g filter="url(#b2_4)">
<ellipse cx="1666.9" cy="1101.1" rx="24.2" ry="6.2" fill="#0f0f0f" transform="rotate(-20 1666.9 1101.1)"/>
<ellipse cx="1466.8" cy="1173.8" rx="13.2" ry="11.0" fill="#000000"/>
<ellipse cx="1495.5" cy="1198.2" rx="17.6" ry="4.0" fill="#000000"/>
<ellipse cx="1675.6" cy="1154.0" rx="15.4" ry="13.2" fill="#dadada" transform="rotate(30 1675.6 1154.0)"/>
<ellipse cx="1627.4" cy="1165.0" rx="19.8" ry="6.6" fill="#dadada" transform="rotate(-20 1627.4 1165.0)"/>
<ellipse cx="1605.3" cy="1177.2" rx="8.8" ry="3.3" fill="#d2d2d2"/>
<ellipse cx="1680.0" cy="1178.7" rx="18.7" ry="4.0" fill="#0f0f0f"/>
<ellipse cx="1737.2" cy="1177.2" rx="11.0" ry="3.1" fill="#e1e1e1"/>
<ellipse cx="1765.9" cy="1178.1" rx="11.0" ry="3.5" fill="#e1e1e1"/>
<ellipse cx="1792.0" cy="1177.2" rx="13.2" ry="3.1" fill="#1e1e1e"/>
<ellipse cx="1737.2" cy="1189.7" rx="19.8" ry="6.2" fill="#000000"/>
<ellipse cx="1612.0" cy="1184.8" rx="3.5" ry="8.8" fill="#1e1e1e"/>
<ellipse cx="1642.8" cy="1198.2" rx="6.6" ry="3.3" fill="#1e1e1e"/>
<ellipse cx="1870.8" cy="1081.3" rx="8.4" ry="16.5" fill="#c3c3c3" transform="rotate(10 1870.8 1081.3)"/>
<ellipse cx="1865.4" cy="1134.1" rx="6.2" ry="8.4" fill="#bcbcbc"/>
<ellipse cx="1924.7" cy="1165.0" rx="17.6" ry="3.7" fill="#e8e8e8"/>
<ellipse cx="2168.6" cy="1103.3" rx="4.4" ry="7.7" fill="#bcbcbc" transform="rotate(20 2168.6 1103.3)"/>
<ellipse cx="2155.5" cy="1125.3" rx="5.5" ry="8.8" fill="#b4b4b4" transform="rotate(20 2155.5 1125.3)"/>
<ellipse cx="2043.4" cy="1143.0" rx="5.5" ry="6.6" fill="#cacaca" transform="rotate(20 2043.4 1143.0)"/>
<ellipse cx="2047.8" cy="1173.8" rx="7.0" ry="8.4" fill="#bcbcbc"/>
<ellipse cx="2060.9" cy="1184.8" rx="4.8" ry="8.8" fill="#bcbcbc" transform="rotate(30 2060.9 1184.8)"/>
<ellipse cx="2076.2" cy="1175.9" rx="4.0" ry="6.6" fill="#bcbcbc"/>
<ellipse cx="2096.0" cy="1186.9" rx="8.8" ry="3.1" fill="#bcbcbc" transform="rotate(-30 2096.0 1186.9)"/>
<ellipse cx="2135.8" cy="1193.7" rx="13.2" ry="2.9" fill="#dadada" transform="rotate(-20 2135.8 1193.7)"/>
<ellipse cx="2144.5" cy="997.9" rx="5.5" ry="4.4" fill="#5a5a5a"/>
<ellipse cx="2058.8" cy="1083.7" rx="5.5" ry="4.4" fill="#5a5a5a"/>
<ellipse cx="1852.1" cy="1165.0" rx="12.1" ry="3.3" fill="#262626"/>
<ellipse cx="1889.5" cy="1160.7" rx="12.1" ry="4.4" fill="#262626"/>
<ellipse cx="1816.9" cy="1178.1" rx="37.4" ry="5.7" fill="#161616"/>
<ellipse cx="1981.9" cy="1173.8" rx="28.6" ry="3.7" fill="#161616"/>
<ellipse cx="2019.1" cy="1176.2" rx="11.0" ry="4.8" fill="#262626" transform="rotate(-20 2019.1 1176.2)"/>
<ellipse cx="2133.4" cy="1177.2" rx="6.2" ry="6.2" fill="#161616"/>
<ellipse cx="2043.4" cy="1195.8" rx="4.0" ry="6.6" fill="#080808"/>
<ellipse cx="1499.9" cy="1201.9" rx="15.4" ry="8.8" fill="#080808"/>
<ellipse cx="1513.0" cy="1217.5" rx="7.7" ry="11.0" fill="#2d2d2d"/>
<ellipse cx="1490.9" cy="1221.7" rx="8.4" ry="5.7" fill="#a2a2a2" transform="rotate(-20 1490.9 1221.7)"/>
<ellipse cx="1609.7" cy="1188.8" rx="4.4" ry="11.0" fill="#2d2d2d"/>
<ellipse cx="1636.1" cy="1199.8" rx="3.3" ry="11.0" fill="#1e1e1e"/>
<ellipse cx="1695.3" cy="1206.5" rx="15.4" ry="6.6" fill="#161616" transform="rotate(-20 1695.3 1206.5)"/>
<ellipse cx="1688.9" cy="1234.9" rx="4.4" ry="6.6" fill="#2d2d2d"/>
<ellipse cx="1660.2" cy="1236.1" rx="6.6" ry="2.6" fill="#2d2d2d"/>
<ellipse cx="1787.7" cy="1265.7" rx="13.2" ry="8.8" fill="#262626" transform="rotate(-30 1787.7 1265.7)"/>
<ellipse cx="1739.5" cy="1188.8" rx="19.8" ry="7.7" fill="#161616"/>
<ellipse cx="1403.2" cy="1267.8" rx="9.9" ry="4.4" fill="#acacac" transform="rotate(-30 1403.2 1267.8)"/>
<ellipse cx="1664.6" cy="1223.9" rx="9.9" ry="5.5" fill="#e1e1e1" transform="rotate(30 1664.6 1223.9)"/>
<ellipse cx="1640.5" cy="1232.7" rx="5.5" ry="4.4" fill="#d2d2d2"/>
<ellipse cx="1653.8" cy="1215.0" rx="4.4" ry="3.3" fill="#c3c3c3"/>
<ellipse cx="1748.2" cy="1226.0" rx="7.7" ry="14.3" fill="#f0f0f0" transform="rotate(15 1748.2 1226.0)"/>
<ellipse cx="1785.6" cy="1243.7" rx="19.8" ry="7.7" fill="#dadada" transform="rotate(-30 1785.6 1243.7)"/>
<ellipse cx="1763.6" cy="1179.9" rx="8.8" ry="3.3" fill="#c3c3c3"/>
<ellipse cx="1878.5" cy="1206.5" rx="26.4" ry="6.6" fill="#3c3c3c"/>
<ellipse cx="1915.9" cy="1204.0" rx="17.6" ry="5.5" fill="#3c3c3c"/>
<ellipse cx="1839.0" cy="1208.6" rx="17.6" ry="5.5" fill="#3c3c3c"/>
<ellipse cx="1951.1" cy="1204.0" rx="11.0" ry="4.4" fill="#444444"/>
<ellipse cx="1821.3" cy="1261.4" rx="12.1" ry="20.9" fill="#2d2d2d" transform="rotate(30 1821.3 1261.4)"/>
<ellipse cx="1784.1" cy="1267.8" rx="11.0" ry="6.6" fill="#2d2d2d"/>
<ellipse cx="2179.6" cy="1206.5" rx="11.0" ry="5.5" fill="#2d2d2d"/>
<ellipse cx="2043.4" cy="1197.6" rx="3.1" ry="8.8" fill="#0f0f0f"/>
<ellipse cx="2051.1" cy="1208.6" rx="2.4" ry="6.6" fill="#0f0f0f"/>
<ellipse cx="2175.3" cy="1270.0" rx="13.2" ry="5.5" fill="#444444" transform="rotate(-25 2175.3 1270.0)"/>
<ellipse cx="1935.7" cy="1261.4" rx="13.2" ry="5.5" fill="#444444" transform="rotate(35 1935.7 1261.4)"/>
<ellipse cx="2058.8" cy="1193.0" rx="4.8" ry="11.0" fill="#b4b4b4" transform="rotate(-15 2058.8 1193.0)"/>
<ellipse cx="2096.0" cy="1186.6" rx="8.8" ry="3.1" fill="#bcbcbc" transform="rotate(-30 2096.0 1186.6)"/>
<ellipse cx="2135.8" cy="1198.5" rx="11.0" ry="3.7" fill="#cacaca" transform="rotate(-25 2135.8 1198.5)"/>
<ellipse cx="1794.9" cy="1256.9" rx="11.0" ry="7.7" fill="#f0f0f0" transform="rotate(-30 1794.9 1256.9)"/>
</g>
</g>
<path d="M1486.3,915.8V1465.4 M1640.2,915.8V1465.4 M1794.1,915.8V1465.4 M1948.0,915.8V1465.4 M2101.9,915.8V1465.4 M1332.4,1007.4H2255.8 M1332.4,1099.0H2255.8 M1332.4,1190.6H2255.8 M1332.4,1282.2H2255.8 M1332.4,1373.8H2255.8" stroke="#a8a8a8" stroke-width="1.15" stroke-dasharray="2.6 8.25" fill="none"/>
<use href="#coast" transform="translate(1332.40 1190.60) scale(2.56500 3.05333)"/>
</g>
<rect x="1332.4" y="915.8" width="923.4" height="549.6" fill="none" stroke="#000" stroke-width="2.2"/>
<path d="M1332.4,1465.4v9 M1486.3,1465.4v9 M1640.2,1465.4v9 M1794.1,1465.4v9 M1948.0,1465.4v9 M2101.9,1465.4v9 M2255.8,1465.4v9 M1332.4,1007.4h-9 M1332.4,1099.0h-9 M1332.4,1190.6h-9 M1332.4,1282.2h-9 M1332.4,1373.8h-9" stroke="#000" stroke-width="1.1" fill="none"/>
<text class="ax" x="1332.4" y="1500.8" font-size="28.2" text-anchor="middle" fill="#222" textLength="16" lengthAdjust="spacingAndGlyphs">0</text>
<text class="ax" x="1486.3" y="1500.8" font-size="28.2" text-anchor="middle" fill="#222" textLength="49" lengthAdjust="spacingAndGlyphs">60E</text>
<text class="ax" x="1640.2" y="1500.8" font-size="28.2" text-anchor="middle" fill="#222" textLength="64" lengthAdjust="spacingAndGlyphs">120E</text>
<text class="ax" x="1794.1" y="1500.8" font-size="28.2" text-anchor="middle" fill="#222" textLength="48.5" lengthAdjust="spacingAndGlyphs">180</text>
<text class="ax" x="1948.0" y="1500.8" font-size="28.2" text-anchor="middle" fill="#222" textLength="67" lengthAdjust="spacingAndGlyphs">120W</text>
<text class="ax" x="2101.9" y="1500.8" font-size="28.2" text-anchor="middle" fill="#222" textLength="52" lengthAdjust="spacingAndGlyphs">60W</text>
<text class="ax" x="2255.8" y="1500.8" font-size="28.2" text-anchor="middle" fill="#222" textLength="16" lengthAdjust="spacingAndGlyphs">0</text>
<text class="ax" x="1316.2" y="1017.5" font-size="28.2" text-anchor="end" fill="#222" textLength="50" lengthAdjust="spacingAndGlyphs">60N</text>
<text class="ax" x="1316.2" y="1109.1" font-size="28.2" text-anchor="end" fill="#222" textLength="51.5" lengthAdjust="spacingAndGlyphs">30N</text>
<text class="ax" x="1316.2" y="1200.7" font-size="28.2" text-anchor="end" fill="#222" textLength="34.5" lengthAdjust="spacingAndGlyphs">EQ</text>
<text class="ax" x="1316.2" y="1292.3" font-size="28.2" text-anchor="end" fill="#222" textLength="50" lengthAdjust="spacingAndGlyphs">30S</text>
<text class="ax" x="1316.2" y="1383.9" font-size="28.2" text-anchor="end" fill="#222" textLength="50" lengthAdjust="spacingAndGlyphs">60S</text>
<text class="ti" x="720.1" y="244.3" font-size="40.4" text-anchor="middle" fill="#111" textLength="100.5" lengthAdjust="spacingAndGlyphs">GPCP</text>
<text class="ti" x="1794.1" y="244.3" font-size="40.4" text-anchor="middle" fill="#111" textLength="380.5" lengthAdjust="spacingAndGlyphs">R_SST, r=0.761724</text>
<text class="ti" x="720.1" y="894.5" font-size="40.4" text-anchor="middle" fill="#111" textLength="379.5" lengthAdjust="spacingAndGlyphs">P_SST, r=0.659109</text>
<text class="ti" x="1794.1" y="894.5" font-size="40.4" text-anchor="middle" fill="#111" textLength="527" lengthAdjust="spacingAndGlyphs">MAE(R_SST) - MAE(P_SST)</text>
<g class="cb">
<rect x="2308.0" y="199.50" width="24.2" height="43.20" fill="rgb(47,79,79)"/>
<rect x="2308.0" y="242.20" width="24.2" height="43.20" fill="rgb(48,91,90)"/>
<rect x="2308.0" y="284.90" width="24.2" height="43.20" fill="rgb(50,103,100)"/>
<rect x="2308.0" y="327.60" width="24.2" height="43.20" fill="rgb(51,115,111)"/>
<rect x="2308.0" y="370.30" width="24.2" height="43.20" fill="rgb(53,127,122)"/>
<rect x="2308.0" y="413.00" width="24.2" height="43.20" fill="rgb(54,139,133)"/>
<rect x="2308.0" y="455.70" width="24.2" height="43.20" fill="rgb(56,152,144)"/>
<rect x="2308.0" y="498.40" width="24.2" height="43.20" fill="rgb(57,164,154)"/>
<rect x="2308.0" y="541.10" width="24.2" height="43.20" fill="rgb(58,176,165)"/>
<rect x="2308.0" y="583.80" width="24.2" height="43.20" fill="rgb(60,188,176)"/>
<rect x="2308.0" y="626.50" width="24.2" height="43.20" fill="rgb(61,200,186)"/>
<rect x="2308.0" y="669.20" width="24.2" height="43.20" fill="rgb(63,212,197)"/>
<rect x="2308.0" y="711.90" width="24.2" height="43.20" fill="rgb(64,224,208)"/>
<rect x="2308.0" y="754.60" width="24.2" height="43.20" fill="rgb(238,232,170)"/>
<rect x="2308.0" y="797.30" width="24.2" height="43.20" fill="rgb(190,152,96)"/>
<rect x="2308.0" y="840.00" width="24.2" height="12.00" fill="rgb(139,69,19)"/>
<text class="cbl" x="2340.5" y="250.3" font-size="22.6" letter-spacing="2" fill="#0a0a0a">14</text>
<text class="cbl" x="2340.5" y="335.7" font-size="22.6" letter-spacing="2" fill="#0a0a0a">12</text>
<text class="cbl" x="2340.5" y="421.1" font-size="22.6" letter-spacing="2" fill="#0a0a0a">10</text>
<text class="cbl" x="2340.5" y="506.5" font-size="22.6" letter-spacing="2" fill="#0a0a0a">8</text>
<text class="cbl" x="2340.5" y="591.9" font-size="22.6" letter-spacing="2" fill="#0a0a0a">6</text>
<text class="cbl" x="2340.5" y="677.3" font-size="22.6" letter-spacing="2" fill="#0a0a0a">4</text>
<text class="cbl" x="2340.5" y="762.7" font-size="22.6" letter-spacing="2" fill="#0a0a0a">2</text>
<text class="cbl" x="2340.5" y="848.1" font-size="22.6" letter-spacing="2" fill="#0a0a0a">0.5</text>
<rect x="2308.0" y="849.80" width="24.2" height="40.48" fill="rgb(0,0,255)"/>
<rect x="2308.0" y="889.88" width="24.2" height="40.48" fill="rgb(32,32,255)"/>
<rect x="2308.0" y="929.96" width="24.2" height="40.48" fill="rgb(64,64,255)"/>
<rect x="2308.0" y="970.04" width="24.2" height="40.48" fill="rgb(96,96,255)"/>
<rect x="2308.0" y="1010.12" width="24.2" height="40.48" fill="rgb(128,128,255)"/>
<rect x="2308.0" y="1050.20" width="24.2" height="40.48" fill="rgb(160,160,255)"/>
<rect x="2308.0" y="1090.28" width="24.2" height="40.48" fill="rgb(192,192,255)"/>
<rect x="2308.0" y="1130.36" width="24.2" height="40.48" fill="rgb(224,224,255)"/>
<rect x="2308.0" y="1210.52" width="24.2" height="40.48" fill="rgb(255,224,224)"/>
<rect x="2308.0" y="1250.60" width="24.2" height="40.48" fill="rgb(255,192,192)"/>
<rect x="2308.0" y="1290.68" width="24.2" height="40.48" fill="rgb(255,160,160)"/>
<rect x="2308.0" y="1330.76" width="24.2" height="40.48" fill="rgb(255,128,128)"/>
<rect x="2308.0" y="1370.84" width="24.2" height="40.48" fill="rgb(255,96,96)"/>
<rect x="2308.0" y="1410.92" width="24.2" height="40.48" fill="rgb(255,64,64)"/>
<rect x="2308.0" y="1451.00" width="24.2" height="40.48" fill="rgb(255,32,32)"/>
<rect x="2308.0" y="1491.08" width="24.2" height="40.48" fill="rgb(255,0,0)"/>
<text class="cbl" x="2340.5" y="898.0" font-size="22.6" letter-spacing="2" fill="#0a0a0a">10</text>
<text class="cbl" x="2340.5" y="938.1" font-size="22.6" letter-spacing="2" fill="#0a0a0a">8</text>
<text class="cbl" x="2340.5" y="978.1" font-size="22.6" letter-spacing="2" fill="#0a0a0a">6</text>
<text class="cbl" x="2340.5" y="1018.2" font-size="22.6" letter-spacing="2" fill="#0a0a0a">5</text>
<text class="cbl" x="2340.5" y="1058.3" font-size="22.6" letter-spacing="2" fill="#0a0a0a">4</text>
<text class="cbl" x="2340.5" y="1098.4" font-size="22.6" letter-spacing="2" fill="#0a0a0a">3</text>
<text class="cbl" x="2340.5" y="1138.5" font-size="22.6" letter-spacing="2" fill="#0a0a0a">2</text>
<text class="cbl" x="2340.5" y="1178.5" font-size="22.6" letter-spacing="2" fill="#0a0a0a">1</text>
<text class="cbl" x="2340.5" y="1218.6" font-size="22.6" letter-spacing="2" fill="#0a0a0a"><tspan textLength="17.7" lengthAdjust="spacingAndGlyphs" letter-spacing="0">-</tspan><tspan dx="1">1</tspan></text>
<text class="cbl" x="2340.5" y="1258.7" font-size="22.6" letter-spacing="2" fill="#0a0a0a"><tspan textLength="17.7" lengthAdjust="spacingAndGlyphs" letter-spacing="0">-</tspan><tspan dx="1">2</tspan></text>
<text class="cbl" x="2340.5" y="1298.8" font-size="22.6" letter-spacing="2" fill="#0a0a0a"><tspan textLength="17.7" lengthAdjust="spacingAndGlyphs" letter-spacing="0">-</tspan><tspan dx="1">3</tspan></text>
<text class="cbl" x="2340.5" y="1338.9" font-size="22.6" letter-spacing="2" fill="#0a0a0a"><tspan textLength="17.7" lengthAdjust="spacingAndGlyphs" letter-spacing="0">-</tspan><tspan dx="1">4</tspan></text>
<text class="cbl" x="2340.5" y="1378.9" font-size="22.6" letter-spacing="2" fill="#0a0a0a"><tspan textLength="17.7" lengthAdjust="spacingAndGlyphs" letter-spacing="0">-</tspan><tspan dx="1">5</tspan></text>
<text class="cbl" x="2340.5" y="1419.0" font-size="22.6" letter-spacing="2" fill="#0a0a0a"><tspan textLength="17.7" lengthAdjust="spacingAndGlyphs" letter-spacing="0">-</tspan><tspan dx="1">6</tspan></text>
<text class="cbl" x="2340.5" y="1459.1" font-size="22.6" letter-spacing="2" fill="#0a0a0a"><tspan textLength="17.7" lengthAdjust="spacingAndGlyphs" letter-spacing="0">-</tspan><tspan dx="1">8</tspan></text>
<text class="cbl" x="2340.5" y="1499.2" font-size="22.6" letter-spacing="2" fill="#0a0a0a"><tspan textLength="17.7" lengthAdjust="spacingAndGlyphs" letter-spacing="0">-</tspan><tspan dx="1">10</tspan></text>
</g>
</svg></body></html>
